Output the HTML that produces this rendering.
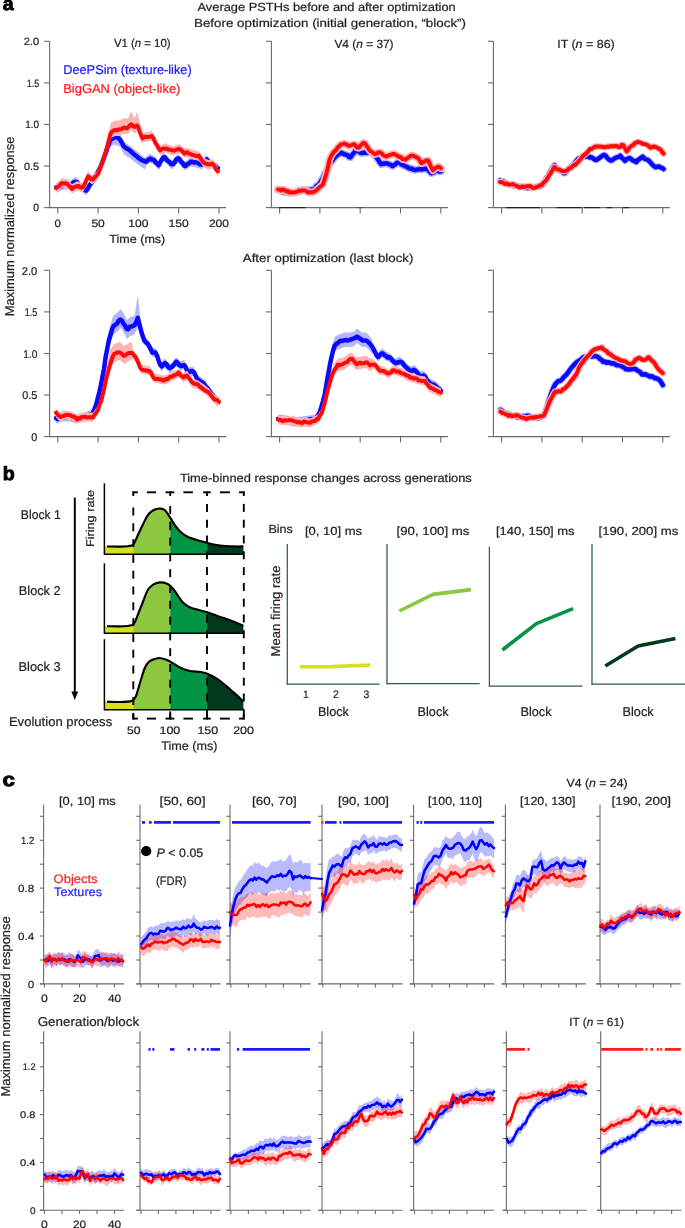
<!DOCTYPE html><html><head><meta charset="utf-8"><style>html,body{margin:0;padding:0;background:#fff;}svg{display:block;will-change:transform}</style></head><body>
<svg width="685" height="1228" viewBox="0 0 685 1228" font-family='"Liberation Sans", sans-serif' fill="#231f20" text-rendering="geometricPrecision">
<rect width="685" height="1228" fill="#fff"/>
<text x="2.8" y="10.1" font-size="19" fill="#000" textLength="10.9" lengthAdjust="spacingAndGlyphs" font-weight="bold" stroke="#000" stroke-width="0.9">a</text>
<text x="197.5" y="11.0" font-size="11.77" textLength="258.2" lengthAdjust="spacingAndGlyphs" stroke="#231f20" stroke-width="0.22">Average PSTHs before and after optimization</text>
<text x="194.0" y="26.6" font-size="11.77" textLength="272.0" lengthAdjust="spacingAndGlyphs" stroke="#231f20" stroke-width="0.22">Before optimization (initial generation, “block”)</text>
<text x="242.8" y="262.0" font-size="11.77" textLength="170.6" lengthAdjust="spacingAndGlyphs" stroke="#231f20" stroke-width="0.22">After optimization (last block)</text>
<text x="13.6" y="316.3" font-size="12.84" textLength="179.8" lengthAdjust="spacingAndGlyphs" stroke="#231f20" stroke-width="0.22" transform="rotate(-90 13.6 316.3)">Maximum normalized response</text>
<line x1="49.6" y1="41.3" x2="49.6" y2="207.6" stroke="#6a6a6a" stroke-width="1.1"/>
<line x1="44.1" y1="207.6" x2="49.6" y2="207.6" stroke="#6a6a6a" stroke-width="1.1"/>
<line x1="44.1" y1="166.0" x2="49.6" y2="166.0" stroke="#6a6a6a" stroke-width="1.1"/>
<line x1="44.1" y1="124.4" x2="49.6" y2="124.4" stroke="#6a6a6a" stroke-width="1.1"/>
<line x1="44.1" y1="82.9" x2="49.6" y2="82.9" stroke="#6a6a6a" stroke-width="1.1"/>
<line x1="44.1" y1="41.3" x2="49.6" y2="41.3" stroke="#6a6a6a" stroke-width="1.1"/>
<line x1="49.1" y1="207.6" x2="226.1" y2="207.6" stroke="#6a6a6a" stroke-width="1.1"/>
<line x1="57.8" y1="207.6" x2="57.8" y2="213.4" stroke="#6a6a6a" stroke-width="1.1"/>
<line x1="98.1" y1="207.6" x2="98.1" y2="213.4" stroke="#6a6a6a" stroke-width="1.1"/>
<line x1="138.4" y1="207.6" x2="138.4" y2="213.4" stroke="#6a6a6a" stroke-width="1.1"/>
<line x1="178.7" y1="207.6" x2="178.7" y2="213.4" stroke="#6a6a6a" stroke-width="1.1"/>
<line x1="219.0" y1="207.6" x2="219.0" y2="213.4" stroke="#6a6a6a" stroke-width="1.1"/>
<text x="39.1" y="211.2" font-size="10.49" text-anchor="end" textLength="5.8" lengthAdjust="spacingAndGlyphs" stroke="#231f20" stroke-width="0.22">0</text>
<text x="39.1" y="169.6" font-size="10.49" text-anchor="end" textLength="15.1" lengthAdjust="spacingAndGlyphs" stroke="#231f20" stroke-width="0.22">0.5</text>
<text x="39.1" y="128.0" font-size="10.49" text-anchor="end" textLength="13.9" lengthAdjust="spacingAndGlyphs" stroke="#231f20" stroke-width="0.22">1.0</text>
<text x="39.1" y="86.5" font-size="10.49" text-anchor="end" textLength="12.4" lengthAdjust="spacingAndGlyphs" stroke="#231f20" stroke-width="0.22">1.5</text>
<text x="39.1" y="44.9" font-size="10.49" text-anchor="end" textLength="15.4" lengthAdjust="spacingAndGlyphs" stroke="#231f20" stroke-width="0.22">2.0</text>
<text x="57.8" y="227.0" font-size="10.7" text-anchor="middle" textLength="6.4" lengthAdjust="spacingAndGlyphs" stroke="#231f20" stroke-width="0.22">0</text>
<text x="98.1" y="227.0" font-size="10.7" text-anchor="middle" textLength="13.4" lengthAdjust="spacingAndGlyphs" stroke="#231f20" stroke-width="0.22">50</text>
<text x="138.4" y="227.0" font-size="10.7" text-anchor="middle" textLength="20.2" lengthAdjust="spacingAndGlyphs" stroke="#231f20" stroke-width="0.22">100</text>
<text x="178.7" y="227.0" font-size="10.7" text-anchor="middle" textLength="20.2" lengthAdjust="spacingAndGlyphs" stroke="#231f20" stroke-width="0.22">150</text>
<text x="219.0" y="227.0" font-size="10.7" text-anchor="middle" textLength="20.2" lengthAdjust="spacingAndGlyphs" stroke="#231f20" stroke-width="0.22">200</text>
<line x1="49.6" y1="270.3" x2="49.6" y2="436.6" stroke="#6a6a6a" stroke-width="1.1"/>
<line x1="44.1" y1="436.6" x2="49.6" y2="436.6" stroke="#6a6a6a" stroke-width="1.1"/>
<line x1="44.1" y1="395.0" x2="49.6" y2="395.0" stroke="#6a6a6a" stroke-width="1.1"/>
<line x1="44.1" y1="353.5" x2="49.6" y2="353.5" stroke="#6a6a6a" stroke-width="1.1"/>
<line x1="44.1" y1="311.9" x2="49.6" y2="311.9" stroke="#6a6a6a" stroke-width="1.1"/>
<line x1="44.1" y1="270.3" x2="49.6" y2="270.3" stroke="#6a6a6a" stroke-width="1.1"/>
<line x1="49.1" y1="436.6" x2="226.1" y2="436.6" stroke="#6a6a6a" stroke-width="1.1"/>
<line x1="57.8" y1="436.6" x2="57.8" y2="442.4" stroke="#6a6a6a" stroke-width="1.1"/>
<line x1="98.1" y1="436.6" x2="98.1" y2="442.4" stroke="#6a6a6a" stroke-width="1.1"/>
<line x1="138.4" y1="436.6" x2="138.4" y2="442.4" stroke="#6a6a6a" stroke-width="1.1"/>
<line x1="178.7" y1="436.6" x2="178.7" y2="442.4" stroke="#6a6a6a" stroke-width="1.1"/>
<line x1="219.0" y1="436.6" x2="219.0" y2="442.4" stroke="#6a6a6a" stroke-width="1.1"/>
<text x="37.3" y="440.8" font-size="11.24" text-anchor="end" textLength="6.1" lengthAdjust="spacingAndGlyphs" stroke="#231f20" stroke-width="0.22">0</text>
<text x="37.3" y="399.2" font-size="11.24" text-anchor="end" textLength="15.1" lengthAdjust="spacingAndGlyphs" stroke="#231f20" stroke-width="0.22">0.5</text>
<text x="37.3" y="357.7" font-size="11.24" text-anchor="end" textLength="14.0" lengthAdjust="spacingAndGlyphs" stroke="#231f20" stroke-width="0.22">1.0</text>
<text x="37.3" y="316.1" font-size="11.24" text-anchor="end" textLength="12.5" lengthAdjust="spacingAndGlyphs" stroke="#231f20" stroke-width="0.22">1.5</text>
<text x="37.3" y="274.5" font-size="11.24" text-anchor="end" textLength="15.5" lengthAdjust="spacingAndGlyphs" stroke="#231f20" stroke-width="0.22">2.0</text>
<line x1="271.4" y1="41.3" x2="271.4" y2="207.6" stroke="#6a6a6a" stroke-width="1.1"/>
<line x1="265.9" y1="207.6" x2="271.4" y2="207.6" stroke="#6a6a6a" stroke-width="1.1"/>
<line x1="265.9" y1="166.0" x2="271.4" y2="166.0" stroke="#6a6a6a" stroke-width="1.1"/>
<line x1="265.9" y1="124.4" x2="271.4" y2="124.4" stroke="#6a6a6a" stroke-width="1.1"/>
<line x1="265.9" y1="82.9" x2="271.4" y2="82.9" stroke="#6a6a6a" stroke-width="1.1"/>
<line x1="265.9" y1="41.3" x2="271.4" y2="41.3" stroke="#6a6a6a" stroke-width="1.1"/>
<line x1="270.9" y1="207.6" x2="447.9" y2="207.6" stroke="#6a6a6a" stroke-width="1.1"/>
<line x1="279.6" y1="207.6" x2="279.6" y2="213.4" stroke="#6a6a6a" stroke-width="1.1"/>
<line x1="319.9" y1="207.6" x2="319.9" y2="213.4" stroke="#6a6a6a" stroke-width="1.1"/>
<line x1="360.2" y1="207.6" x2="360.2" y2="213.4" stroke="#6a6a6a" stroke-width="1.1"/>
<line x1="400.5" y1="207.6" x2="400.5" y2="213.4" stroke="#6a6a6a" stroke-width="1.1"/>
<line x1="440.8" y1="207.6" x2="440.8" y2="213.4" stroke="#6a6a6a" stroke-width="1.1"/>
<line x1="271.4" y1="270.3" x2="271.4" y2="436.6" stroke="#6a6a6a" stroke-width="1.1"/>
<line x1="265.9" y1="436.6" x2="271.4" y2="436.6" stroke="#6a6a6a" stroke-width="1.1"/>
<line x1="265.9" y1="395.0" x2="271.4" y2="395.0" stroke="#6a6a6a" stroke-width="1.1"/>
<line x1="265.9" y1="353.5" x2="271.4" y2="353.5" stroke="#6a6a6a" stroke-width="1.1"/>
<line x1="265.9" y1="311.9" x2="271.4" y2="311.9" stroke="#6a6a6a" stroke-width="1.1"/>
<line x1="265.9" y1="270.3" x2="271.4" y2="270.3" stroke="#6a6a6a" stroke-width="1.1"/>
<line x1="270.9" y1="436.6" x2="447.9" y2="436.6" stroke="#6a6a6a" stroke-width="1.1"/>
<line x1="279.6" y1="436.6" x2="279.6" y2="442.4" stroke="#6a6a6a" stroke-width="1.1"/>
<line x1="319.9" y1="436.6" x2="319.9" y2="442.4" stroke="#6a6a6a" stroke-width="1.1"/>
<line x1="360.2" y1="436.6" x2="360.2" y2="442.4" stroke="#6a6a6a" stroke-width="1.1"/>
<line x1="400.5" y1="436.6" x2="400.5" y2="442.4" stroke="#6a6a6a" stroke-width="1.1"/>
<line x1="440.8" y1="436.6" x2="440.8" y2="442.4" stroke="#6a6a6a" stroke-width="1.1"/>
<line x1="493.4" y1="41.3" x2="493.4" y2="207.6" stroke="#6a6a6a" stroke-width="1.1"/>
<line x1="487.9" y1="207.6" x2="493.4" y2="207.6" stroke="#6a6a6a" stroke-width="1.1"/>
<line x1="487.9" y1="166.0" x2="493.4" y2="166.0" stroke="#6a6a6a" stroke-width="1.1"/>
<line x1="487.9" y1="124.4" x2="493.4" y2="124.4" stroke="#6a6a6a" stroke-width="1.1"/>
<line x1="487.9" y1="82.9" x2="493.4" y2="82.9" stroke="#6a6a6a" stroke-width="1.1"/>
<line x1="487.9" y1="41.3" x2="493.4" y2="41.3" stroke="#6a6a6a" stroke-width="1.1"/>
<line x1="492.9" y1="207.6" x2="669.9" y2="207.6" stroke="#6a6a6a" stroke-width="1.1"/>
<line x1="501.6" y1="207.6" x2="501.6" y2="213.4" stroke="#6a6a6a" stroke-width="1.1"/>
<line x1="541.9" y1="207.6" x2="541.9" y2="213.4" stroke="#6a6a6a" stroke-width="1.1"/>
<line x1="582.2" y1="207.6" x2="582.2" y2="213.4" stroke="#6a6a6a" stroke-width="1.1"/>
<line x1="622.5" y1="207.6" x2="622.5" y2="213.4" stroke="#6a6a6a" stroke-width="1.1"/>
<line x1="662.8" y1="207.6" x2="662.8" y2="213.4" stroke="#6a6a6a" stroke-width="1.1"/>
<line x1="493.4" y1="270.3" x2="493.4" y2="436.6" stroke="#6a6a6a" stroke-width="1.1"/>
<line x1="487.9" y1="436.6" x2="493.4" y2="436.6" stroke="#6a6a6a" stroke-width="1.1"/>
<line x1="487.9" y1="395.0" x2="493.4" y2="395.0" stroke="#6a6a6a" stroke-width="1.1"/>
<line x1="487.9" y1="353.5" x2="493.4" y2="353.5" stroke="#6a6a6a" stroke-width="1.1"/>
<line x1="487.9" y1="311.9" x2="493.4" y2="311.9" stroke="#6a6a6a" stroke-width="1.1"/>
<line x1="487.9" y1="270.3" x2="493.4" y2="270.3" stroke="#6a6a6a" stroke-width="1.1"/>
<line x1="492.9" y1="436.6" x2="669.9" y2="436.6" stroke="#6a6a6a" stroke-width="1.1"/>
<line x1="501.6" y1="436.6" x2="501.6" y2="442.4" stroke="#6a6a6a" stroke-width="1.1"/>
<line x1="541.9" y1="436.6" x2="541.9" y2="442.4" stroke="#6a6a6a" stroke-width="1.1"/>
<line x1="582.2" y1="436.6" x2="582.2" y2="442.4" stroke="#6a6a6a" stroke-width="1.1"/>
<line x1="622.5" y1="436.6" x2="622.5" y2="442.4" stroke="#6a6a6a" stroke-width="1.1"/>
<line x1="662.8" y1="436.6" x2="662.8" y2="442.4" stroke="#6a6a6a" stroke-width="1.1"/>
<text x="109.3" y="242.5" font-size="11.77" textLength="56.0" lengthAdjust="spacingAndGlyphs" stroke="#231f20" stroke-width="0.22">Time (ms)</text>
<text x="113.9" y="47.4" font-size="11.77" textLength="56.7" lengthAdjust="spacingAndGlyphs" stroke="#231f20" stroke-width="0.22">V1 (<tspan font-style="italic">n</tspan> = 10)</text>
<text x="334.4" y="47.6" font-size="11.77" textLength="59.2" lengthAdjust="spacingAndGlyphs" stroke="#231f20" stroke-width="0.22">V4 (<tspan font-style="italic">n</tspan> = 37)</text>
<text x="557.2" y="47.5" font-size="11.77" textLength="57.5" lengthAdjust="spacingAndGlyphs" stroke="#231f20" stroke-width="0.22">IT (<tspan font-style="italic">n</tspan> = 86)</text>
<text x="63.2" y="74.4" font-size="12.84" fill="#1a1aff" textLength="128.5" lengthAdjust="spacingAndGlyphs" stroke="#1a1aff" stroke-width="0.22">DeePSim (texture-like)</text>
<text x="63.2" y="93.0" font-size="12.84" fill="#ff1a1a" textLength="117.2" lengthAdjust="spacingAndGlyphs" stroke="#ff1a1a" stroke-width="0.22">BigGAN (object-like)</text>
<line x1="279.2" y1="207.6" x2="305.5" y2="207.6" stroke="#222" stroke-width="1.2"/>
<line x1="506.0" y1="207.6" x2="540.0" y2="207.6" stroke="#222" stroke-width="1.2"/>
<line x1="556.6" y1="207.6" x2="581.5" y2="207.6" stroke="#222" stroke-width="1.2"/>
<line x1="584.3" y1="207.6" x2="599.6" y2="207.6" stroke="#222" stroke-width="1.2"/>
<line x1="606.5" y1="207.6" x2="612.0" y2="207.6" stroke="#222" stroke-width="1.2"/>
<line x1="623.0" y1="207.6" x2="628.7" y2="207.6" stroke="#222" stroke-width="1.2"/>
<line x1="356.8" y1="207.6" x2="363.4" y2="207.6" stroke="#555" stroke-width="1.1"/>
<polygon points="56.0,183.7 57.0,183.3 58.0,182.9 59.0,182.6 60.0,182.2 61.0,181.8 62.0,181.4 63.0,181.1 64.0,180.7 65.0,180.7 66.0,180.7 67.0,180.7 68.0,180.7 69.0,180.7 70.0,180.7 71.0,180.0 72.0,179.4 73.0,178.7 74.0,178.0 75.0,177.4 76.0,176.7 77.0,177.9 78.0,179.2 79.0,180.4 80.0,181.7 81.0,182.5 82.0,183.4 83.0,184.2 84.0,185.0 85.0,185.9 86.0,186.7 87.0,185.2 88.0,183.7 89.0,182.2 90.0,180.7 91.0,179.2 92.0,177.7 93.0,175.9 94.0,174.2 95.0,172.4 96.0,170.7 97.0,168.9 98.0,167.2 99.0,165.4 100.0,163.7 101.0,161.0 102.0,158.4 103.0,155.7 104.0,153.0 105.0,149.7 106.0,147.0 107.0,144.0 108.0,141.0 109.0,138.0 110.0,135.0 111.0,134.2 112.0,133.5 113.0,132.8 114.0,132.0 115.0,132.3 116.0,132.7 117.0,133.0 118.0,133.3 119.0,133.7 120.0,134.0 121.0,136.0 122.0,138.0 123.0,140.0 124.0,142.0 125.0,142.6 126.0,143.2 127.0,143.8 128.0,144.4 129.0,145.0 130.0,145.8 131.0,146.6 132.0,147.4 133.0,148.2 134.0,149.0 135.0,149.8 136.0,150.5 137.0,151.2 138.0,152.0 139.0,152.7 140.0,153.4 141.0,154.8 142.0,155.6 143.0,156.3 144.0,157.0 145.0,157.7 146.0,156.9 147.0,156.1 148.0,155.3 149.0,154.5 150.0,153.7 151.0,154.3 152.0,154.9 153.0,155.5 154.0,156.1 155.0,156.7 156.0,157.9 157.0,159.2 158.0,160.4 159.0,161.7 160.0,159.2 161.0,156.7 162.0,154.2 163.0,151.7 164.0,152.7 165.0,153.7 166.0,154.7 167.0,155.7 168.0,156.7 169.0,157.7 170.0,158.7 171.0,159.7 172.0,160.7 173.0,159.5 174.0,158.4 175.0,157.2 176.0,156.0 177.0,154.9 178.0,153.7 179.0,154.8 180.0,156.0 181.0,157.1 182.0,158.3 183.0,159.4 184.0,160.6 185.0,161.7 186.0,160.9 187.0,160.1 188.0,159.3 189.0,158.5 190.0,157.7 191.0,157.8 192.0,158.0 193.0,158.1 194.0,158.3 195.0,158.4 196.0,158.6 197.0,158.7 198.0,159.1 199.0,159.5 200.0,159.9 201.0,160.3 202.0,160.7 203.0,159.2 204.0,157.7 205.0,156.2 206.0,154.7 207.0,155.7 208.0,156.7 209.0,157.7 210.0,158.7 211.0,159.7 212.0,160.3 213.0,160.8 214.0,161.4 215.0,162.0 216.0,162.6 217.0,163.1 218.0,163.7 218.0,172.5 217.0,171.9 216.0,171.4 215.0,170.8 214.0,170.2 213.0,169.6 212.0,169.1 211.0,168.5 210.0,167.5 209.0,166.5 208.0,165.5 207.0,164.5 206.0,163.5 205.0,165.0 204.0,166.5 203.0,168.0 202.0,169.5 201.0,169.1 200.0,168.7 199.0,168.3 198.0,167.9 197.0,167.5 196.0,167.4 195.0,167.2 194.0,167.1 193.0,166.9 192.0,166.8 191.0,166.6 190.0,166.5 189.0,167.3 188.0,168.1 187.0,168.9 186.0,169.7 185.0,170.5 184.0,169.4 183.0,168.2 182.0,167.1 181.0,165.9 180.0,164.8 179.0,163.6 178.0,162.5 177.0,163.7 176.0,164.8 175.0,166.0 174.0,167.2 173.0,168.3 172.0,169.5 171.0,168.5 170.0,167.5 169.0,166.5 168.0,165.5 167.0,164.5 166.0,163.5 165.0,162.5 164.0,161.5 163.0,160.5 162.0,163.0 161.0,165.5 160.0,168.0 159.0,170.5 158.0,169.2 157.0,168.0 156.0,166.8 155.0,165.5 154.0,164.9 153.0,164.3 152.0,163.7 151.0,163.1 150.0,162.5 149.0,163.3 148.0,164.1 147.0,164.9 146.0,165.7 145.0,169.5 144.0,168.8 143.0,168.1 142.0,167.4 141.0,166.6 140.0,165.9 139.0,165.2 138.0,164.5 137.0,163.8 136.0,163.0 135.0,162.2 134.0,161.5 133.0,160.7 132.0,159.9 131.0,159.1 130.0,158.3 129.0,157.5 128.0,156.9 127.0,156.3 126.0,155.7 125.0,155.1 124.0,154.5 123.0,152.5 122.0,150.5 121.0,148.5 120.0,146.5 119.0,146.2 118.0,145.8 117.0,145.5 116.0,145.2 115.0,144.8 114.0,144.5 113.0,145.2 112.0,146.0 111.0,146.8 110.0,147.5 109.0,150.5 108.0,153.5 107.0,153.5 106.0,156.5 105.0,159.2 104.0,161.8 103.0,164.5 102.0,167.2 101.0,169.8 100.0,172.5 99.0,174.2 98.0,176.0 97.0,177.8 96.0,179.5 95.0,181.2 94.0,183.0 93.0,184.8 92.0,186.5 91.0,188.0 90.0,189.5 89.0,191.0 88.0,192.5 87.0,194.0 86.0,195.5 85.0,194.7 84.0,193.8 83.0,193.0 82.0,192.2 81.0,191.3 80.0,190.5 79.0,189.2 78.0,188.0 77.0,186.8 76.0,185.5 75.0,186.2 74.0,186.8 73.0,187.5 72.0,188.2 71.0,188.8 70.0,189.5 69.0,189.5 68.0,189.5 67.0,189.5 66.0,189.5 65.0,189.5 64.0,189.5 63.0,189.9 62.0,190.2 61.0,190.6 60.0,191.0 59.0,191.4 58.0,191.8 57.0,192.1 56.0,192.5" fill="#b4b4ff" fill-opacity="1"/>
<polyline points="56.0,187.6 57.6,187.5 59.2,186.6 60.8,186.3 62.4,185.8 64.0,184.4 65.6,184.3 67.2,185.5 68.8,184.7 70.4,184.3 72.0,184.3 73.6,182.5 75.2,182.0 76.9,182.0 78.5,184.3 80.1,185.6 81.7,187.6 83.3,189.2 84.9,190.1 86.5,190.6 88.1,188.1 89.7,184.9 91.3,183.4 92.9,180.6 94.5,177.4 96.1,174.2 97.7,172.5 99.3,169.2 100.9,165.9 102.5,161.8 104.1,157.3 105.7,153.3 107.3,147.9 108.9,143.6 110.5,139.5 112.1,139.0 113.7,137.7 115.3,136.9 117.0,137.5 118.6,138.1 120.2,140.0 121.8,142.4 123.4,145.9 125.0,147.3 126.6,148.6 128.2,149.3 129.8,150.4 131.4,152.0 133.0,153.3 134.6,155.0 136.2,155.9 137.8,157.5 139.4,158.5 141.0,159.8 142.6,160.5 144.2,161.0 145.8,161.8 147.4,160.7 149.0,159.3 150.6,158.5 152.2,159.6 153.8,159.9 155.4,162.0 157.0,163.7 158.7,165.3 160.3,162.2 161.9,159.3 163.5,157.2 165.1,157.5 166.7,160.1 168.3,161.2 169.9,162.4 171.5,164.2 173.1,164.1 174.7,162.4 176.3,159.3 177.9,158.3 179.5,159.1 181.1,161.9 182.7,163.1 184.3,165.8 185.9,165.9 187.5,164.0 189.1,163.4 190.7,161.8 192.3,161.7 193.9,162.7 195.5,162.1 197.1,162.6 198.8,163.6 200.4,164.5 202.0,164.5 203.6,162.0 205.2,160.8 206.8,159.5 208.4,162.0 210.0,163.5 211.6,164.2 213.2,165.2 214.8,166.2 216.4,167.3 218.0,168.1" fill="none" stroke="#0a0aff" stroke-width="4.5" stroke-linejoin="round" stroke-linecap="round"/>
<polygon points="56.0,183.2 57.0,182.4 58.0,181.5 59.0,180.7 60.0,179.9 61.0,179.0 62.0,178.2 63.0,178.4 64.0,178.5 65.0,178.7 66.0,178.9 67.0,179.0 68.0,179.2 69.0,180.4 70.0,181.7 71.0,182.9 72.0,184.2 73.0,183.6 74.0,183.0 75.0,182.4 76.0,181.8 77.0,181.2 78.0,181.5 79.0,181.9 80.0,182.2 81.0,182.5 82.0,182.9 83.0,183.2 84.0,180.8 85.0,178.4 86.0,176.0 87.0,173.6 88.0,171.2 89.0,172.2 90.0,173.2 91.0,174.2 92.0,175.2 93.0,174.4 94.0,173.6 95.0,172.8 96.0,172.0 97.0,171.2 98.0,168.8 99.0,166.4 100.0,164.0 101.0,161.6 102.0,159.2 103.0,156.0 104.0,152.8 105.0,149.6 106.0,146.4 107.0,143.2 108.0,134.5 109.0,130.5 110.0,126.5 111.0,122.5 112.0,122.0 113.0,121.5 114.0,121.0 115.0,120.5 116.0,120.5 117.0,120.5 118.0,120.5 119.0,120.5 120.0,120.0 121.0,119.5 122.0,119.0 123.0,118.5 124.0,118.5 125.0,118.5 126.0,118.5 127.0,118.5 128.0,118.5 129.0,116.2 130.0,113.8 131.0,111.5 132.0,113.5 133.0,115.5 134.0,117.5 135.0,117.5 136.0,114.5 137.0,111.5 138.0,115.3 139.0,119.1 140.0,122.9 141.0,125.7 142.0,128.5 143.0,132.9 144.0,132.7 145.0,132.4 146.0,132.2 147.0,132.0 148.0,131.9 149.0,131.7 150.0,131.5 151.0,131.4 152.0,131.2 153.0,133.2 154.0,135.2 155.0,137.2 156.0,139.2 157.0,140.7 158.0,142.2 159.0,143.7 160.0,145.2 161.0,144.9 162.0,144.5 163.0,144.2 164.0,143.9 165.0,143.5 166.0,143.2 167.0,143.7 168.0,144.2 169.0,144.7 170.0,145.2 171.0,145.7 172.0,146.2 173.0,145.9 174.0,145.7 175.0,145.4 176.0,145.2 177.0,144.9 178.0,144.7 179.0,144.4 180.0,144.2 181.0,145.2 182.0,146.2 183.0,147.2 184.0,148.2 185.0,148.2 186.0,148.2 187.0,148.2 188.0,148.2 189.0,148.2 190.0,148.6 191.0,149.0 192.0,149.4 193.0,149.8 194.0,150.2 195.0,150.4 196.0,150.6 197.0,150.8 198.0,151.0 199.0,151.2 200.0,152.6 201.0,154.0 202.0,155.4 203.0,156.8 204.0,158.2 205.0,158.6 206.0,159.0 207.0,159.4 208.0,159.8 209.0,160.2 210.0,159.9 211.0,159.7 212.0,159.4 213.0,159.2 214.0,160.8 215.0,162.4 216.0,164.0 217.0,165.6 218.0,167.2 218.0,176.6 217.0,175.0 216.0,173.4 215.0,171.8 214.0,170.2 213.0,168.6 212.0,168.8 211.0,169.1 210.0,169.3 209.0,169.6 208.0,169.2 207.0,168.8 206.0,168.4 205.0,168.0 204.0,167.6 203.0,166.2 202.0,164.8 201.0,163.4 200.0,162.0 199.0,160.6 198.0,160.4 197.0,160.2 196.0,160.0 195.0,159.8 194.0,159.6 193.0,159.2 192.0,158.8 191.0,158.4 190.0,158.0 189.0,157.6 188.0,157.6 187.0,157.6 186.0,157.6 185.0,157.6 184.0,157.6 183.0,156.6 182.0,155.6 181.0,154.6 180.0,153.6 179.0,153.8 178.0,154.1 177.0,154.3 176.0,154.6 175.0,154.8 174.0,155.1 173.0,155.3 172.0,155.6 171.0,155.1 170.0,154.6 169.0,154.1 168.0,153.6 167.0,153.1 166.0,152.6 165.0,152.9 164.0,153.3 163.0,153.6 162.0,153.9 161.0,154.3 160.0,154.6 159.0,153.1 158.0,151.6 157.0,150.1 156.0,148.6 155.0,146.6 154.0,144.6 153.0,142.6 152.0,140.6 151.0,140.8 150.0,140.9 149.0,141.1 148.0,141.3 147.0,141.4 146.0,141.6 145.0,141.8 144.0,142.1 143.0,142.3 142.0,144.0 141.0,141.2 140.0,138.4 139.0,135.6 138.0,132.8 137.0,130.0 136.0,132.0 135.0,134.0 134.0,133.0 133.0,132.0 132.0,131.0 131.0,130.0 130.0,131.3 129.0,132.7 128.0,134.0 127.0,134.0 126.0,134.0 125.0,134.0 124.0,134.0 123.0,134.0 122.0,134.5 121.0,135.0 120.0,135.5 119.0,136.0 118.0,136.0 117.0,136.0 116.0,136.0 115.0,136.0 114.0,136.5 113.0,137.0 112.0,137.5 111.0,138.0 110.0,142.0 109.0,146.0 108.0,150.0 107.0,154.0 106.0,157.2 105.0,159.0 104.0,162.2 103.0,165.4 102.0,168.6 101.0,171.0 100.0,173.4 99.0,175.8 98.0,178.2 97.0,180.6 96.0,181.4 95.0,182.2 94.0,183.0 93.0,183.8 92.0,184.6 91.0,183.6 90.0,182.6 89.0,181.6 88.0,180.6 87.0,183.0 86.0,185.4 85.0,187.8 84.0,190.2 83.0,192.6 82.0,192.3 81.0,191.9 80.0,191.6 79.0,191.3 78.0,190.9 77.0,190.6 76.0,191.2 75.0,191.8 74.0,192.4 73.0,193.0 72.0,193.6 71.0,192.3 70.0,191.1 69.0,189.8 68.0,188.6 67.0,188.4 66.0,188.3 65.0,188.1 64.0,187.9 63.0,187.8 62.0,187.6 61.0,188.4 60.0,189.3 59.0,190.1 58.0,190.9 57.0,191.8 56.0,192.6" fill="#ffb4b4" fill-opacity="1"/>
<polyline points="56.0,188.1 57.6,186.8 59.2,185.9 60.8,184.0 62.4,183.0 64.0,183.6 65.6,183.2 67.2,183.6 68.8,185.7 70.4,187.1 72.0,189.0 73.6,187.3 75.2,186.9 76.9,186.2 78.5,185.8 80.1,187.2 81.7,187.7 83.3,186.7 84.9,183.7 86.5,179.6 88.1,176.3 89.7,177.5 91.3,179.6 92.9,179.6 94.5,177.3 96.1,176.1 97.7,174.6 99.3,171.1 100.9,166.3 102.5,162.3 104.1,157.3 105.7,151.8 107.3,146.5 108.9,140.0 110.5,133.7 112.1,131.6 113.7,130.3 115.3,129.8 117.0,130.4 118.6,129.3 120.2,129.5 121.8,128.9 123.4,127.7 125.0,127.6 126.6,128.4 128.2,127.4 129.8,125.2 131.4,124.3 133.0,126.3 134.6,127.0 136.2,125.4 137.8,126.0 139.4,131.2 141.0,135.1 142.6,138.3 144.2,137.0 145.8,136.8 147.4,137.0 149.0,137.0 150.6,136.2 152.2,136.1 153.8,139.2 155.4,142.9 157.0,145.1 158.7,148.4 160.3,150.4 161.9,148.9 163.5,148.5 165.1,148.7 166.7,148.5 168.3,149.6 169.9,149.7 171.5,150.2 173.1,150.4 174.7,150.7 176.3,149.6 177.9,149.3 179.5,149.0 181.1,150.0 182.7,151.6 184.3,153.6 185.9,152.5 187.5,152.3 189.1,153.7 190.7,154.2 192.3,155.0 193.9,154.9 195.5,155.9 197.1,156.2 198.8,155.6 200.4,158.2 202.0,160.6 203.6,162.6 205.2,163.5 206.8,163.8 208.4,164.5 210.0,164.4 211.6,163.7 213.2,164.4 214.8,166.6 216.4,169.9 218.0,171.4" fill="none" stroke="#ff0a0a" stroke-width="4.0" stroke-linejoin="round" stroke-linecap="round"/>
<polyline points="278.0,189.6 279.6,190.0 281.2,191.0 282.8,191.6 284.5,192.3 286.1,192.2 287.7,191.7 289.3,192.9 290.9,192.3 292.5,192.7 294.1,192.8 295.8,192.1 297.4,191.4 299.0,191.6 300.6,190.9 302.2,190.2 303.8,189.8 305.4,190.5 307.0,190.0 308.7,190.4 310.3,189.8 311.9,189.6 313.5,189.5 315.1,188.3 316.7,185.8 318.3,185.1 320.0,183.0 321.6,180.1 323.2,177.5 324.8,173.6 326.4,171.3 328.0,168.4 329.6,164.1 331.3,161.9 332.9,159.7 334.5,157.8 336.1,156.0 337.7,154.8 339.3,153.9 340.9,152.7 342.6,153.4 344.2,154.1 345.8,154.7 347.4,155.2 349.0,157.0 350.6,157.4 352.2,154.7 353.9,153.0 355.5,150.5 357.1,150.4 358.7,151.4 360.3,152.8 361.9,153.1 363.5,152.8 365.1,152.6 366.8,152.8 368.4,152.2 370.0,152.5 371.6,152.4 373.2,153.4 374.8,155.0 376.4,157.2 378.1,159.7 379.7,162.3 381.3,164.3 382.9,163.5 384.5,163.7 386.1,163.2 387.7,163.7 389.4,164.3 391.0,165.1 392.6,166.1 394.2,164.9 395.8,164.0 397.4,162.4 399.0,162.3 400.7,163.8 402.3,165.1 403.9,165.3 405.5,166.4 407.1,166.9 408.7,168.1 410.3,168.7 412.0,168.5 413.6,169.7 415.2,170.1 416.8,169.5 418.4,169.5 420.0,168.8 421.6,169.5 423.2,169.0 424.9,169.0 426.5,168.5 428.1,169.5 429.7,171.6 431.3,173.3 432.9,172.7 434.5,172.1 436.2,170.0 437.8,169.9 439.4,171.6 441.0,171.4" fill="none" stroke="#b4b4ff" stroke-width="7.5" stroke-linejoin="round" stroke-linecap="round"/>
<polyline points="278.0,189.6 279.6,190.0 281.2,191.0 282.8,191.6 284.5,192.3 286.1,192.2 287.7,191.7 289.3,192.9 290.9,192.3 292.5,192.7 294.1,192.8 295.8,192.1 297.4,191.4 299.0,191.6 300.6,190.9 302.2,190.2 303.8,189.8 305.4,190.5 307.0,190.0 308.7,190.4 310.3,189.8 311.9,189.6 313.5,189.5 315.1,188.3 316.7,185.8 318.3,185.1 320.0,183.0 321.6,180.1 323.2,177.5 324.8,173.6 326.4,171.3 328.0,168.4 329.6,164.1 331.3,161.9 332.9,159.7 334.5,157.8 336.1,156.0 337.7,154.8 339.3,153.9 340.9,152.7 342.6,153.4 344.2,154.1 345.8,154.7 347.4,155.2 349.0,157.0 350.6,157.4 352.2,154.7 353.9,153.0 355.5,150.5 357.1,150.4 358.7,151.4 360.3,152.8 361.9,153.1 363.5,152.8 365.1,152.6 366.8,152.8 368.4,152.2 370.0,152.5 371.6,152.4 373.2,153.4 374.8,155.0 376.4,157.2 378.1,159.7 379.7,162.3 381.3,164.3 382.9,163.5 384.5,163.7 386.1,163.2 387.7,163.7 389.4,164.3 391.0,165.1 392.6,166.1 394.2,164.9 395.8,164.0 397.4,162.4 399.0,162.3 400.7,163.8 402.3,165.1 403.9,165.3 405.5,166.4 407.1,166.9 408.7,168.1 410.3,168.7 412.0,168.5 413.6,169.7 415.2,170.1 416.8,169.5 418.4,169.5 420.0,168.8 421.6,169.5 423.2,169.0 424.9,169.0 426.5,168.5 428.1,169.5 429.7,171.6 431.3,173.3 432.9,172.7 434.5,172.1 436.2,170.0 437.8,169.9 439.4,171.6 441.0,171.4" fill="none" stroke="#0a0aff" stroke-width="4.5" stroke-linejoin="round" stroke-linecap="round"/>
<polyline points="278.0,189.4 279.6,189.4 281.2,190.5 282.8,189.6 284.5,189.8 286.1,191.5 287.7,191.0 289.3,192.5 290.9,192.2 292.5,192.5 294.1,192.6 295.8,191.9 297.4,191.8 299.0,190.4 300.6,191.0 302.2,190.2 303.8,190.6 305.4,190.4 307.0,191.9 308.7,192.7 310.3,192.1 311.9,192.3 313.5,191.8 315.1,191.4 316.7,189.8 318.3,188.2 320.0,186.7 321.6,185.6 323.2,183.8 324.8,178.4 326.4,173.6 328.0,167.1 329.6,159.5 331.3,156.0 332.9,153.1 334.5,151.4 336.1,150.1 337.7,147.4 339.3,146.2 340.9,144.4 342.6,144.1 344.2,143.5 345.8,144.3 347.4,145.1 349.0,146.0 350.6,145.4 352.2,144.9 353.9,144.2 355.5,145.4 357.1,147.6 358.7,147.9 360.3,145.7 361.9,144.0 363.5,142.8 365.1,143.4 366.8,146.1 368.4,148.6 370.0,150.9 371.6,151.8 373.2,153.0 374.8,154.0 376.4,153.8 378.1,152.4 379.7,152.4 381.3,153.0 382.9,154.9 384.5,155.9 386.1,156.6 387.7,155.9 389.4,154.9 391.0,154.8 392.6,154.0 394.2,154.1 395.8,155.0 397.4,155.6 399.0,157.0 400.7,156.9 402.3,159.0 403.9,159.3 405.5,159.7 407.1,158.2 408.7,157.4 410.3,156.0 412.0,155.4 413.6,155.8 415.2,156.7 416.8,157.4 418.4,158.5 420.0,161.0 421.6,163.2 423.2,162.3 424.9,161.2 426.5,160.4 428.1,160.5 429.7,163.7 431.3,167.3 432.9,170.4 434.5,168.7 436.2,167.7 437.8,166.8 439.4,167.0 441.0,168.3" fill="none" stroke="#ffb4b4" stroke-width="7.5" stroke-linejoin="round" stroke-linecap="round"/>
<polyline points="278.0,189.4 279.6,189.4 281.2,190.5 282.8,189.6 284.5,189.8 286.1,191.5 287.7,191.0 289.3,192.5 290.9,192.2 292.5,192.5 294.1,192.6 295.8,191.9 297.4,191.8 299.0,190.4 300.6,191.0 302.2,190.2 303.8,190.6 305.4,190.4 307.0,191.9 308.7,192.7 310.3,192.1 311.9,192.3 313.5,191.8 315.1,191.4 316.7,189.8 318.3,188.2 320.0,186.7 321.6,185.6 323.2,183.8 324.8,178.4 326.4,173.6 328.0,167.1 329.6,159.5 331.3,156.0 332.9,153.1 334.5,151.4 336.1,150.1 337.7,147.4 339.3,146.2 340.9,144.4 342.6,144.1 344.2,143.5 345.8,144.3 347.4,145.1 349.0,146.0 350.6,145.4 352.2,144.9 353.9,144.2 355.5,145.4 357.1,147.6 358.7,147.9 360.3,145.7 361.9,144.0 363.5,142.8 365.1,143.4 366.8,146.1 368.4,148.6 370.0,150.9 371.6,151.8 373.2,153.0 374.8,154.0 376.4,153.8 378.1,152.4 379.7,152.4 381.3,153.0 382.9,154.9 384.5,155.9 386.1,156.6 387.7,155.9 389.4,154.9 391.0,154.8 392.6,154.0 394.2,154.1 395.8,155.0 397.4,155.6 399.0,157.0 400.7,156.9 402.3,159.0 403.9,159.3 405.5,159.7 407.1,158.2 408.7,157.4 410.3,156.0 412.0,155.4 413.6,155.8 415.2,156.7 416.8,157.4 418.4,158.5 420.0,161.0 421.6,163.2 423.2,162.3 424.9,161.2 426.5,160.4 428.1,160.5 429.7,163.7 431.3,167.3 432.9,170.4 434.5,168.7 436.2,167.7 437.8,166.8 439.4,167.0 441.0,168.3" fill="none" stroke="#ff0a0a" stroke-width="4.0" stroke-linejoin="round" stroke-linecap="round"/>
<polyline points="500.0,180.5 501.6,181.4 503.2,181.3 504.8,182.9 506.4,182.9 508.0,183.9 509.6,184.7 511.2,184.2 512.8,184.6 514.4,186.1 516.0,185.7 517.6,186.1 519.2,186.8 520.8,187.2 522.4,186.6 524.0,187.4 525.6,187.8 527.2,187.9 528.9,187.3 530.5,187.7 532.1,188.0 533.7,187.1 535.3,187.1 536.9,186.3 538.5,186.3 540.1,186.6 541.7,185.5 543.3,184.4 544.9,181.8 546.5,178.0 548.1,176.5 549.7,172.7 551.3,170.3 552.9,167.4 554.5,165.2 556.1,167.3 557.7,168.9 559.3,170.7 560.9,171.0 562.5,172.4 564.1,173.3 565.7,172.5 567.3,170.7 568.9,168.5 570.5,167.5 572.1,165.6 573.7,164.3 575.3,162.4 576.9,160.3 578.5,158.4 580.1,158.4 581.8,157.8 583.4,156.5 585.0,156.9 586.6,156.4 588.2,156.0 589.8,157.5 591.4,157.2 593.0,158.2 594.6,159.6 596.2,160.0 597.8,159.0 599.4,158.1 601.0,156.8 602.6,155.6 604.2,154.8 605.8,155.9 607.4,158.1 609.0,159.5 610.6,160.5 612.2,160.2 613.8,158.9 615.4,157.9 617.0,157.2 618.6,157.0 620.2,155.6 621.8,157.8 623.4,159.0 625.0,160.8 626.6,159.3 628.2,158.4 629.8,158.0 631.4,159.2 633.0,160.6 634.6,161.0 636.2,162.2 637.9,160.0 639.5,159.1 641.1,157.8 642.7,156.7 644.3,158.5 645.9,159.4 647.5,159.7 649.1,160.9 650.7,162.7 652.3,164.6 653.9,166.1 655.5,167.2 657.1,167.0 658.7,166.4 660.3,167.3 661.9,167.8 663.5,169.0" fill="none" stroke="#b4b4ff" stroke-width="6.5" stroke-linejoin="round" stroke-linecap="round"/>
<polyline points="500.0,180.5 501.6,181.4 503.2,181.3 504.8,182.9 506.4,182.9 508.0,183.9 509.6,184.7 511.2,184.2 512.8,184.6 514.4,186.1 516.0,185.7 517.6,186.1 519.2,186.8 520.8,187.2 522.4,186.6 524.0,187.4 525.6,187.8 527.2,187.9 528.9,187.3 530.5,187.7 532.1,188.0 533.7,187.1 535.3,187.1 536.9,186.3 538.5,186.3 540.1,186.6 541.7,185.5 543.3,184.4 544.9,181.8 546.5,178.0 548.1,176.5 549.7,172.7 551.3,170.3 552.9,167.4 554.5,165.2 556.1,167.3 557.7,168.9 559.3,170.7 560.9,171.0 562.5,172.4 564.1,173.3 565.7,172.5 567.3,170.7 568.9,168.5 570.5,167.5 572.1,165.6 573.7,164.3 575.3,162.4 576.9,160.3 578.5,158.4 580.1,158.4 581.8,157.8 583.4,156.5 585.0,156.9 586.6,156.4 588.2,156.0 589.8,157.5 591.4,157.2 593.0,158.2 594.6,159.6 596.2,160.0 597.8,159.0 599.4,158.1 601.0,156.8 602.6,155.6 604.2,154.8 605.8,155.9 607.4,158.1 609.0,159.5 610.6,160.5 612.2,160.2 613.8,158.9 615.4,157.9 617.0,157.2 618.6,157.0 620.2,155.6 621.8,157.8 623.4,159.0 625.0,160.8 626.6,159.3 628.2,158.4 629.8,158.0 631.4,159.2 633.0,160.6 634.6,161.0 636.2,162.2 637.9,160.0 639.5,159.1 641.1,157.8 642.7,156.7 644.3,158.5 645.9,159.4 647.5,159.7 649.1,160.9 650.7,162.7 652.3,164.6 653.9,166.1 655.5,167.2 657.1,167.0 658.7,166.4 660.3,167.3 661.9,167.8 663.5,169.0" fill="none" stroke="#0a0aff" stroke-width="4.5" stroke-linejoin="round" stroke-linecap="round"/>
<polyline points="500.0,182.1 501.6,182.1 503.2,182.7 504.8,184.0 506.4,183.3 508.0,184.4 509.6,184.5 511.2,184.6 512.8,184.1 514.4,185.0 516.0,185.6 517.6,186.3 519.2,187.4 520.8,187.2 522.4,186.4 524.0,187.1 525.6,186.4 527.2,186.3 528.9,186.3 530.5,185.9 532.1,187.6 533.7,188.1 535.3,187.5 536.9,187.0 538.5,186.3 540.1,185.3 541.7,185.2 543.3,182.8 544.9,181.5 546.5,179.8 548.1,177.1 549.7,174.5 551.3,172.3 552.9,169.4 554.5,166.8 556.1,168.7 557.7,169.4 559.3,169.5 560.9,170.6 562.5,171.0 564.1,171.3 565.7,170.9 567.3,170.4 568.9,168.5 570.5,168.2 572.1,166.9 573.7,165.0 575.3,164.9 576.9,163.0 578.5,161.6 580.1,159.5 581.8,157.6 583.4,155.4 585.0,154.5 586.6,153.0 588.2,151.3 589.8,149.1 591.4,148.9 593.0,148.0 594.6,146.9 596.2,146.4 597.8,146.4 599.4,146.6 601.0,146.5 602.6,147.0 604.2,147.3 605.8,146.9 607.4,146.6 609.0,146.8 610.6,146.1 612.2,146.2 613.8,146.5 615.4,145.9 617.0,146.0 618.6,147.3 620.2,147.1 621.8,144.7 623.4,145.3 625.0,148.4 626.6,151.4 628.2,149.5 629.8,147.4 631.4,145.8 633.0,145.4 634.6,143.3 636.2,142.6 637.9,141.8 639.5,142.4 641.1,142.9 642.7,143.9 644.3,144.1 645.9,144.4 647.5,145.2 649.1,146.3 650.7,147.8 652.3,147.0 653.9,146.5 655.5,147.0 657.1,147.6 658.7,148.8 660.3,149.3 661.9,151.7 663.5,153.6" fill="none" stroke="#ffb4b4" stroke-width="6.5" stroke-linejoin="round" stroke-linecap="round"/>
<polyline points="500.0,182.1 501.6,182.1 503.2,182.7 504.8,184.0 506.4,183.3 508.0,184.4 509.6,184.5 511.2,184.6 512.8,184.1 514.4,185.0 516.0,185.6 517.6,186.3 519.2,187.4 520.8,187.2 522.4,186.4 524.0,187.1 525.6,186.4 527.2,186.3 528.9,186.3 530.5,185.9 532.1,187.6 533.7,188.1 535.3,187.5 536.9,187.0 538.5,186.3 540.1,185.3 541.7,185.2 543.3,182.8 544.9,181.5 546.5,179.8 548.1,177.1 549.7,174.5 551.3,172.3 552.9,169.4 554.5,166.8 556.1,168.7 557.7,169.4 559.3,169.5 560.9,170.6 562.5,171.0 564.1,171.3 565.7,170.9 567.3,170.4 568.9,168.5 570.5,168.2 572.1,166.9 573.7,165.0 575.3,164.9 576.9,163.0 578.5,161.6 580.1,159.5 581.8,157.6 583.4,155.4 585.0,154.5 586.6,153.0 588.2,151.3 589.8,149.1 591.4,148.9 593.0,148.0 594.6,146.9 596.2,146.4 597.8,146.4 599.4,146.6 601.0,146.5 602.6,147.0 604.2,147.3 605.8,146.9 607.4,146.6 609.0,146.8 610.6,146.1 612.2,146.2 613.8,146.5 615.4,145.9 617.0,146.0 618.6,147.3 620.2,147.1 621.8,144.7 623.4,145.3 625.0,148.4 626.6,151.4 628.2,149.5 629.8,147.4 631.4,145.8 633.0,145.4 634.6,143.3 636.2,142.6 637.9,141.8 639.5,142.4 641.1,142.9 642.7,143.9 644.3,144.1 645.9,144.4 647.5,145.2 649.1,146.3 650.7,147.8 652.3,147.0 653.9,146.5 655.5,147.0 657.1,147.6 658.7,148.8 660.3,149.3 661.9,151.7 663.5,153.6" fill="none" stroke="#ff0a0a" stroke-width="4.0" stroke-linejoin="round" stroke-linecap="round"/>
<polygon points="56.0,414.5 57.0,414.2 58.0,413.8 59.0,413.5 60.0,413.2 61.0,412.8 62.0,412.5 63.0,412.5 64.0,412.5 65.0,412.5 66.0,412.5 67.0,412.5 68.0,412.5 69.0,412.5 70.0,412.5 71.0,412.8 72.0,413.2 73.0,413.5 74.0,413.8 75.0,414.2 76.0,414.5 77.0,414.2 78.0,414.0 79.0,413.8 80.0,413.5 81.0,413.2 82.0,413.0 83.0,412.8 84.0,412.5 85.0,412.1 86.0,411.8 87.0,411.4 88.0,411.0 89.0,410.6 90.0,410.2 91.0,409.9 92.0,409.5 93.0,407.5 94.0,405.5 95.0,403.5 96.0,401.5 97.0,397.5 98.0,393.5 99.0,389.5 100.0,385.5 101.0,380.5 102.0,375.5 103.0,370.5 104.0,365.5 105.0,357.5 106.0,349.5 107.0,344.8 108.0,334.7 109.0,330.0 110.0,326.5 111.0,323.0 112.0,319.5 113.0,316.0 114.0,315.2 115.0,314.5 116.0,313.8 117.0,313.0 118.0,312.0 119.0,311.0 120.0,310.0 121.0,309.0 122.0,310.7 123.0,312.3 124.0,314.0 125.0,316.0 126.0,318.0 127.0,320.0 128.0,319.0 129.0,318.0 130.0,317.0 131.0,316.8 132.0,316.5 133.0,316.2 134.0,316.0 135.0,314.0 136.0,307.0 137.0,299.4 138.0,296.2 139.0,305.8 140.0,315.4 141.0,325.5 142.0,328.8 143.0,332.2 144.0,335.5 145.0,336.5 146.0,337.5 147.0,338.5 148.0,339.5 149.0,341.5 150.0,343.5 151.0,345.5 152.0,347.5 153.0,347.8 154.0,348.0 155.0,348.2 156.0,348.5 157.0,351.3 158.0,354.1 159.0,356.9 160.0,359.7 161.0,362.5 162.0,361.5 163.0,360.5 164.0,359.5 165.0,358.5 166.0,359.7 167.0,360.9 168.0,362.1 169.0,363.3 170.0,364.5 171.0,363.3 172.0,362.2 173.0,361.0 174.0,359.8 175.0,358.7 176.0,357.5 177.0,358.3 178.0,359.1 179.0,359.9 180.0,360.7 181.0,361.5 182.0,360.8 183.0,360.2 184.0,359.5 185.0,361.5 186.0,363.5 187.0,365.5 188.0,367.5 189.0,367.3 190.0,367.1 191.0,366.9 192.0,366.7 193.0,366.5 194.0,368.3 195.0,370.1 196.0,371.9 197.0,373.7 198.0,375.5 199.0,376.2 200.0,376.8 201.0,377.5 202.0,378.2 203.0,378.8 204.0,379.5 205.0,380.9 206.0,382.3 207.0,383.7 208.0,385.1 209.0,386.5 210.0,387.7 211.0,388.8 212.0,390.0 213.0,391.2 214.0,392.3 215.0,393.5 216.0,394.8 217.0,396.2 218.0,397.5 218.0,406.5 217.0,405.2 216.0,403.8 215.0,402.5 214.0,401.3 213.0,400.2 212.0,399.0 211.0,397.8 210.0,396.7 209.0,395.5 208.0,394.1 207.0,392.7 206.0,391.3 205.0,389.9 204.0,388.5 203.0,387.8 202.0,387.2 201.0,386.5 200.0,385.8 199.0,385.2 198.0,384.5 197.0,382.7 196.0,380.9 195.0,379.1 194.0,377.3 193.0,375.5 192.0,375.7 191.0,375.9 190.0,376.1 189.0,376.3 188.0,376.5 187.0,374.5 186.0,372.5 185.0,370.5 184.0,368.5 183.0,369.2 182.0,369.8 181.0,370.5 180.0,369.7 179.0,368.9 178.0,368.1 177.0,367.3 176.0,366.5 175.0,367.7 174.0,368.8 173.0,370.0 172.0,371.2 171.0,372.3 170.0,373.5 169.0,372.3 168.0,371.1 167.0,369.9 166.0,368.7 165.0,367.5 164.0,368.5 163.0,369.5 162.0,370.5 161.0,371.5 160.0,368.7 159.0,365.9 158.0,363.1 157.0,360.3 156.0,357.5 155.0,357.2 154.0,357.0 153.0,356.8 152.0,356.5 151.0,354.5 150.0,352.5 149.0,350.5 148.0,348.5 147.0,347.5 146.0,346.5 145.0,345.5 144.0,344.5 143.0,341.2 142.0,337.8 141.0,334.5 140.0,335.0 139.0,331.0 138.0,327.0 137.0,329.0 136.0,331.0 135.0,333.0 134.0,335.0 133.0,335.2 132.0,335.5 131.0,335.8 130.0,336.0 129.0,337.0 128.0,338.0 127.0,339.0 126.0,337.0 125.0,335.0 124.0,333.0 123.0,331.3 122.0,329.7 121.0,328.0 120.0,329.0 119.0,330.0 118.0,331.0 117.0,332.0 116.0,332.8 115.0,333.5 114.0,334.2 113.0,335.0 112.0,338.5 111.0,342.0 110.0,345.5 109.0,349.0 108.0,353.7 107.0,353.8 106.0,358.5 105.0,366.5 104.0,374.5 103.0,379.5 102.0,384.5 101.0,389.5 100.0,394.5 99.0,398.5 98.0,402.5 97.0,406.5 96.0,410.5 95.0,412.5 94.0,414.5 93.0,416.5 92.0,418.5 91.0,418.9 90.0,419.2 89.0,419.6 88.0,420.0 87.0,420.4 86.0,420.8 85.0,421.1 84.0,421.5 83.0,421.8 82.0,422.0 81.0,422.2 80.0,422.5 79.0,422.8 78.0,423.0 77.0,423.2 76.0,423.5 75.0,423.2 74.0,422.8 73.0,422.5 72.0,422.2 71.0,421.8 70.0,421.5 69.0,421.5 68.0,421.5 67.0,421.5 66.0,421.5 65.0,421.5 64.0,421.5 63.0,421.5 62.0,421.5 61.0,421.8 60.0,422.2 59.0,422.5 58.0,422.8 57.0,423.2 56.0,423.5" fill="#b4b4ff" fill-opacity="1"/>
<polyline points="56.0,418.3 57.6,419.1 59.2,417.5 60.8,416.8 62.4,417.0 64.0,416.5 65.6,417.2 67.2,416.8 68.8,416.5 70.4,416.5 72.0,418.0 73.6,417.9 75.2,419.2 76.9,418.7 78.5,419.0 80.1,417.7 81.7,417.2 83.3,416.9 84.9,417.1 86.5,416.3 88.1,415.3 89.7,414.3 91.3,414.5 92.9,412.9 94.5,409.1 96.1,404.9 97.7,398.5 99.3,392.2 100.9,385.0 102.5,376.8 104.1,368.4 105.7,356.4 107.3,348.4 108.9,339.9 110.5,335.3 112.1,329.0 113.7,325.9 115.3,324.8 117.0,323.7 118.6,320.8 120.2,319.6 121.8,320.4 123.4,323.6 125.0,325.4 126.6,328.9 128.2,329.3 129.8,326.7 131.4,326.5 133.0,326.0 134.6,325.1 136.2,322.2 137.8,317.9 139.4,324.0 141.0,330.4 142.6,335.8 144.2,340.3 145.8,342.4 147.4,343.2 149.0,345.9 150.6,348.9 152.2,352.5 153.8,352.4 155.4,352.5 157.0,355.5 158.7,360.7 160.3,365.1 161.9,366.4 163.5,364.4 165.1,363.1 166.7,364.5 168.3,367.2 169.9,368.2 171.5,367.2 173.1,365.8 174.7,363.8 176.3,361.7 177.9,363.2 179.5,365.3 181.1,366.1 182.7,365.4 184.3,365.2 185.9,367.8 187.5,371.6 189.1,372.1 190.7,371.2 192.3,371.0 193.9,372.1 195.5,375.4 197.1,379.1 198.8,379.9 200.4,381.7 202.0,382.1 203.6,383.1 205.2,385.8 206.8,387.5 208.4,389.5 210.0,391.7 211.6,394.2 213.2,396.0 214.8,397.1 216.4,399.5 218.0,402.7" fill="none" stroke="#0a0aff" stroke-width="4.5" stroke-linejoin="round" stroke-linecap="round"/>
<polygon points="56.0,408.5 57.0,409.5 58.0,410.5 59.0,411.5 60.0,412.5 61.0,412.1 62.0,411.7 63.0,411.3 64.0,410.9 65.0,410.5 66.0,410.6 67.0,410.8 68.0,410.9 69.0,411.1 70.0,411.2 71.0,411.4 72.0,411.5 73.0,412.1 74.0,412.7 75.0,413.3 76.0,413.9 77.0,414.5 78.0,414.2 79.0,413.9 80.0,413.6 81.0,413.4 82.0,413.1 83.0,412.8 84.0,412.5 85.0,412.5 86.0,412.5 87.0,412.5 88.0,412.5 89.0,412.5 90.0,412.5 91.0,412.5 92.0,412.5 93.0,412.5 94.0,411.1 95.0,409.7 96.0,408.3 97.0,406.9 98.0,405.5 99.0,402.5 100.0,399.5 101.0,396.5 102.0,393.5 103.0,389.0 104.0,384.5 105.0,380.0 106.0,375.5 107.0,370.5 108.0,360.0 109.0,355.0 110.0,350.0 111.0,348.5 112.0,347.0 113.0,345.5 114.0,344.0 115.0,343.7 116.0,343.3 117.0,343.0 118.0,342.7 119.0,342.3 120.0,342.0 121.0,343.0 122.0,344.0 123.0,345.0 124.0,346.0 125.0,345.4 126.0,344.9 127.0,344.3 128.0,343.7 129.0,343.1 130.0,342.6 131.0,342.0 132.0,343.2 133.0,349.9 134.0,351.1 135.0,352.3 136.0,353.5 137.0,355.7 138.0,357.9 139.0,360.1 140.0,362.3 141.0,364.5 142.0,364.7 143.0,364.9 144.0,365.1 145.0,365.3 146.0,365.5 147.0,365.8 148.0,366.0 149.0,366.2 150.0,366.5 151.0,368.2 152.0,370.0 153.0,371.8 154.0,373.5 155.0,373.7 156.0,373.9 157.0,374.1 158.0,374.3 159.0,374.5 160.0,374.7 161.0,374.9 162.0,375.1 163.0,375.3 164.0,375.5 165.0,375.1 166.0,374.7 167.0,374.3 168.0,373.9 169.0,373.5 170.0,373.0 171.0,372.5 172.0,372.0 173.0,371.5 174.0,371.0 175.0,370.5 176.0,370.0 177.0,369.5 178.0,369.0 179.0,368.5 180.0,369.8 181.0,371.0 182.0,372.2 183.0,373.5 184.0,372.8 185.0,372.0 186.0,371.2 187.0,370.5 188.0,372.1 189.0,373.7 190.0,375.3 191.0,376.9 192.0,378.5 193.0,378.8 194.0,379.2 195.0,379.5 196.0,379.8 197.0,380.2 198.0,380.5 199.0,381.2 200.0,381.8 201.0,382.5 202.0,383.2 203.0,383.8 204.0,384.5 205.0,385.3 206.0,386.1 207.0,386.9 208.0,387.7 209.0,388.5 210.0,389.7 211.0,390.9 212.0,392.1 213.0,393.3 214.0,394.5 215.0,394.9 216.0,395.3 217.0,395.7 218.0,396.1 219.0,396.5 219.0,405.5 218.0,405.1 217.0,404.7 216.0,404.3 215.0,403.9 214.0,403.5 213.0,402.3 212.0,401.1 211.0,399.9 210.0,398.7 209.0,397.5 208.0,396.7 207.0,395.9 206.0,395.1 205.0,394.3 204.0,393.5 203.0,392.8 202.0,392.2 201.0,391.5 200.0,390.8 199.0,390.2 198.0,389.5 197.0,389.2 196.0,388.8 195.0,388.5 194.0,388.2 193.0,387.8 192.0,387.5 191.0,385.9 190.0,384.3 189.0,382.7 188.0,381.1 187.0,379.5 186.0,380.2 185.0,381.0 184.0,381.8 183.0,382.5 182.0,381.2 181.0,380.0 180.0,378.8 179.0,377.5 178.0,378.0 177.0,378.5 176.0,379.0 175.0,379.5 174.0,380.0 173.0,380.5 172.0,381.0 171.0,381.5 170.0,382.0 169.0,382.5 168.0,382.9 167.0,383.3 166.0,383.7 165.0,384.1 164.0,384.5 163.0,384.3 162.0,384.1 161.0,383.9 160.0,383.7 159.0,383.5 158.0,383.3 157.0,383.1 156.0,382.9 155.0,382.7 154.0,382.5 153.0,380.8 152.0,379.0 151.0,377.2 150.0,375.5 149.0,375.2 148.0,375.0 147.0,374.8 146.0,374.5 145.0,374.3 144.0,374.1 143.0,373.9 142.0,373.7 141.0,373.5 140.0,371.3 139.0,369.1 138.0,366.9 137.0,364.7 136.0,362.5 135.0,361.3 134.0,360.1 133.0,358.9 132.0,361.2 131.0,360.0 130.0,360.6 129.0,361.1 128.0,361.7 127.0,362.3 126.0,362.9 125.0,363.4 124.0,364.0 123.0,363.0 122.0,362.0 121.0,361.0 120.0,360.0 119.0,360.3 118.0,360.7 117.0,361.0 116.0,361.3 115.0,361.7 114.0,362.0 113.0,364.5 112.0,367.0 111.0,369.5 110.0,372.0 109.0,376.0 108.0,380.0 107.0,384.0 106.0,388.0 105.0,389.0 104.0,393.5 103.0,398.0 102.0,402.5 101.0,405.5 100.0,408.5 99.0,411.5 98.0,414.5 97.0,415.9 96.0,417.3 95.0,418.7 94.0,420.1 93.0,421.5 92.0,421.5 91.0,421.5 90.0,421.5 89.0,421.5 88.0,421.5 87.0,421.5 86.0,421.5 85.0,421.5 84.0,421.5 83.0,421.8 82.0,422.1 81.0,422.4 80.0,422.6 79.0,422.9 78.0,423.2 77.0,423.5 76.0,422.9 75.0,422.3 74.0,421.7 73.0,421.1 72.0,420.5 71.0,420.4 70.0,420.2 69.0,420.1 68.0,419.9 67.0,419.8 66.0,419.6 65.0,419.5 64.0,419.9 63.0,420.3 62.0,420.7 61.0,421.1 60.0,421.5 59.0,420.5 58.0,419.5 57.0,418.5 56.0,417.5" fill="#ffb4b4" fill-opacity="1"/>
<polyline points="56.0,412.6 57.6,414.7 59.2,416.1 60.8,417.1 62.5,416.2 64.1,415.8 65.7,415.1 67.3,414.9 68.9,415.1 70.5,415.2 72.1,416.5 73.8,416.5 75.4,417.4 77.0,419.6 78.6,418.1 80.2,418.6 81.8,417.0 83.4,417.1 85.0,416.6 86.7,417.5 88.3,417.2 89.9,417.2 91.5,417.4 93.1,417.4 94.7,414.4 96.3,412.5 98.0,410.0 99.6,404.7 101.2,400.9 102.8,394.5 104.4,387.6 106.0,379.5 107.6,373.5 109.3,366.9 110.9,362.1 112.5,357.2 114.1,353.8 115.7,353.4 117.3,352.3 118.9,352.4 120.6,352.9 122.2,354.1 123.8,356.0 125.4,355.4 127.0,353.9 128.6,353.1 130.2,353.1 131.9,352.8 133.5,354.9 135.1,356.3 136.7,359.1 138.3,362.6 139.9,367.2 141.5,369.4 143.1,370.0 144.8,370.4 146.4,370.3 148.0,371.1 149.6,371.0 151.2,373.0 152.8,376.6 154.4,378.7 156.1,379.0 157.7,378.7 159.3,379.4 160.9,379.2 162.5,380.4 164.1,380.5 165.7,379.0 167.4,379.3 169.0,377.6 170.6,376.6 172.2,376.7 173.8,375.3 175.4,374.8 177.0,374.2 178.7,372.5 180.3,374.9 181.9,376.3 183.5,377.5 185.1,376.2 186.7,375.5 188.3,377.5 190.0,379.4 191.6,381.7 193.2,383.1 194.8,383.8 196.4,383.9 198.0,384.5 199.6,386.5 201.2,387.4 202.9,388.9 204.5,390.1 206.1,391.2 207.7,391.8 209.3,392.9 210.9,395.1 212.5,397.2 214.2,399.1 215.8,399.8 217.4,400.2 219.0,401.5" fill="none" stroke="#ff0a0a" stroke-width="4.0" stroke-linejoin="round" stroke-linecap="round"/>
<polygon points="278.0,414.4 279.0,414.5 280.0,414.6 281.0,414.8 282.0,414.9 283.0,415.0 284.0,415.1 285.0,415.3 286.0,415.4 287.0,415.6 288.0,415.9 289.0,416.1 290.0,416.4 291.0,416.6 292.0,416.9 293.0,417.1 294.0,417.4 295.0,417.3 296.0,417.1 297.0,417.0 298.0,416.9 299.0,416.8 300.0,416.6 301.0,416.5 302.0,416.4 303.0,416.3 304.0,416.1 305.0,416.0 306.0,415.9 307.0,415.8 308.0,415.6 309.0,415.5 310.0,415.4 311.0,415.2 312.0,415.1 313.0,414.9 314.0,414.7 315.0,414.6 316.0,414.4 317.0,412.6 318.0,410.9 319.0,409.1 320.0,407.4 321.0,403.9 322.0,400.4 323.0,396.9 324.0,393.4 325.0,387.9 326.0,382.4 327.0,376.9 328.0,371.4 329.0,365.9 330.0,360.4 331.0,352.0 332.0,346.5 333.0,343.2 334.0,339.8 335.0,336.5 336.0,336.0 337.0,335.5 338.0,335.0 339.0,334.5 340.0,334.1 341.0,333.7 342.0,333.3 343.0,332.9 344.0,332.5 345.0,332.5 346.0,332.5 347.0,332.5 348.0,332.5 349.0,332.5 350.0,332.5 351.0,332.2 352.0,332.0 353.0,331.8 354.0,331.5 355.0,330.5 356.0,329.5 357.0,328.5 358.0,329.3 359.0,330.1 360.0,330.9 361.0,331.7 362.0,332.5 363.0,332.5 364.0,332.5 365.0,332.5 366.0,332.5 367.0,333.5 368.0,334.5 369.0,335.5 370.0,336.5 371.0,338.0 372.0,339.5 373.0,343.9 374.0,345.4 375.0,347.1 376.0,348.9 377.0,350.6 378.0,352.4 379.0,351.4 380.0,350.4 381.0,349.4 382.0,348.4 383.0,349.1 384.0,349.9 385.0,350.6 386.0,351.4 387.0,351.9 388.0,352.4 389.0,352.9 390.0,353.4 391.0,354.4 392.0,355.4 393.0,356.4 394.0,357.4 395.0,358.4 396.0,358.0 397.0,357.6 398.0,357.2 399.0,356.8 400.0,356.4 401.0,357.4 402.0,358.4 403.0,359.4 404.0,360.4 405.0,361.4 406.0,362.4 407.0,363.4 408.0,364.4 409.0,365.4 410.0,366.4 411.0,366.2 412.0,366.0 413.0,365.8 414.0,365.6 415.0,365.4 416.0,366.6 417.0,367.8 418.0,369.0 419.0,370.2 420.0,371.4 421.0,371.1 422.0,370.9 423.0,370.6 424.0,370.4 425.0,372.0 426.0,373.6 427.0,375.2 428.0,376.8 429.0,378.4 430.0,378.8 431.0,379.3 432.0,379.7 433.0,380.1 434.0,380.5 435.0,381.0 436.0,381.4 437.0,382.4 438.0,383.4 439.0,384.4 440.0,385.4 441.0,386.4 441.0,395.6 440.0,394.6 439.0,393.6 438.0,392.6 437.0,391.6 436.0,390.6 435.0,390.2 434.0,389.7 433.0,389.3 432.0,388.9 431.0,388.5 430.0,388.0 429.0,387.6 428.0,386.0 427.0,384.4 426.0,382.8 425.0,381.2 424.0,379.6 423.0,379.9 422.0,380.1 421.0,380.4 420.0,380.6 419.0,379.4 418.0,378.2 417.0,377.0 416.0,375.8 415.0,374.6 414.0,374.8 413.0,375.0 412.0,375.2 411.0,375.4 410.0,375.6 409.0,374.6 408.0,373.6 407.0,372.6 406.0,371.6 405.0,370.6 404.0,369.6 403.0,368.6 402.0,367.6 401.0,366.6 400.0,365.6 399.0,366.0 398.0,366.4 397.0,366.8 396.0,367.2 395.0,367.6 394.0,366.6 393.0,365.6 392.0,364.6 391.0,363.6 390.0,362.6 389.0,362.1 388.0,361.6 387.0,361.1 386.0,360.6 385.0,359.9 384.0,359.1 383.0,358.4 382.0,357.6 381.0,358.6 380.0,359.6 379.0,360.6 378.0,361.6 377.0,359.9 376.0,358.1 375.0,356.4 374.0,354.6 373.0,353.1 372.0,354.0 371.0,352.5 370.0,351.0 369.0,350.0 368.0,349.0 367.0,348.0 366.0,347.0 365.0,347.0 364.0,347.0 363.0,347.0 362.0,347.0 361.0,346.2 360.0,345.4 359.0,344.6 358.0,343.8 357.0,343.0 356.0,344.0 355.0,345.0 354.0,346.0 353.0,346.2 352.0,346.5 351.0,346.8 350.0,347.0 349.0,347.0 348.0,347.0 347.0,347.0 346.0,347.0 345.0,347.0 344.0,347.0 343.0,347.4 342.0,347.8 341.0,348.2 340.0,348.6 339.0,349.0 338.0,349.5 337.0,350.0 336.0,350.5 335.0,351.0 334.0,354.3 333.0,357.7 332.0,361.0 331.0,366.5 330.0,369.6 329.0,375.1 328.0,380.6 327.0,386.1 326.0,391.6 325.0,397.1 324.0,402.6 323.0,406.1 322.0,409.6 321.0,413.1 320.0,416.6 319.0,418.4 318.0,420.1 317.0,421.9 316.0,423.6 315.0,423.8 314.0,423.9 313.0,424.1 312.0,424.3 311.0,424.4 310.0,424.6 309.0,424.7 308.0,424.9 307.0,425.0 306.0,425.1 305.0,425.2 304.0,425.4 303.0,425.5 302.0,425.6 301.0,425.7 300.0,425.9 299.0,426.0 298.0,426.1 297.0,426.2 296.0,426.4 295.0,426.5 294.0,426.6 293.0,426.4 292.0,426.1 291.0,425.9 290.0,425.6 289.0,425.4 288.0,425.1 287.0,424.9 286.0,424.6 285.0,424.5 284.0,424.4 283.0,424.2 282.0,424.1 281.0,424.0 280.0,423.9 279.0,423.7 278.0,423.6" fill="#b4b4ff" fill-opacity="1"/>
<polyline points="278.0,418.7 279.6,419.2 281.2,419.9 282.8,420.0 284.5,419.5 286.1,419.7 287.7,420.9 289.3,420.1 290.9,420.7 292.5,421.7 294.1,422.0 295.8,421.3 297.4,420.9 299.0,421.0 300.6,421.6 302.2,420.9 303.8,421.4 305.4,421.0 307.0,421.0 308.7,419.5 310.3,419.5 311.9,419.0 313.5,419.3 315.1,418.9 316.7,417.1 318.3,415.0 320.0,411.5 321.6,406.2 323.2,400.5 324.8,394.0 326.4,384.6 328.0,375.5 329.6,366.3 331.3,358.0 332.9,351.3 334.5,346.0 336.1,344.0 337.7,343.1 339.3,341.5 340.9,340.7 342.6,340.9 344.2,340.4 345.8,340.0 347.4,340.5 349.0,340.1 350.6,339.5 352.2,339.0 353.9,338.4 355.5,337.7 357.1,336.6 358.7,337.9 360.3,338.6 361.9,340.2 363.5,340.6 365.1,340.4 366.8,340.9 368.4,342.3 370.0,344.0 371.6,345.9 373.2,348.4 374.8,351.7 376.4,355.0 378.1,357.0 379.7,355.2 381.3,353.5 382.9,353.6 384.5,355.3 386.1,356.0 387.7,357.5 389.4,357.2 391.0,358.7 392.6,360.6 394.2,362.1 395.8,363.2 397.4,362.5 399.0,362.0 400.7,361.8 402.3,362.6 403.9,365.0 405.5,366.6 407.1,368.1 408.7,369.4 410.3,371.2 412.0,371.2 413.6,369.7 415.2,370.5 416.8,372.0 418.4,374.1 420.0,376.5 421.6,376.2 423.2,375.4 424.9,376.0 426.5,379.5 428.1,381.1 429.7,383.1 431.3,384.5 432.9,384.4 434.5,385.1 436.2,386.8 437.8,388.4 439.4,389.1 441.0,390.8" fill="none" stroke="#0a0aff" stroke-width="4.5" stroke-linejoin="round" stroke-linecap="round"/>
<polygon points="278.0,415.5 279.0,415.6 280.0,415.8 281.0,415.9 282.0,416.0 283.0,416.1 284.0,416.2 285.0,416.4 286.0,416.5 287.0,416.3 288.0,416.2 289.0,416.0 290.0,415.8 291.0,415.7 292.0,415.5 293.0,415.9 294.0,416.2 295.0,416.6 296.0,417.0 297.0,417.4 298.0,417.8 299.0,418.1 300.0,418.5 301.0,418.3 302.0,418.1 303.0,417.9 304.0,417.7 305.0,417.5 306.0,417.7 307.0,417.9 308.0,418.1 309.0,418.3 310.0,418.5 311.0,418.0 312.0,417.5 313.0,417.0 314.0,416.5 315.0,416.0 316.0,415.5 317.0,415.0 318.0,414.5 319.0,412.8 320.0,411.0 321.0,409.2 322.0,407.5 323.0,404.0 324.0,400.5 325.0,397.0 326.0,393.5 327.0,389.5 328.0,385.5 329.0,381.5 330.0,377.5 331.0,374.5 332.0,371.5 333.0,368.5 334.0,363.5 335.0,362.2 336.0,361.0 337.0,359.8 338.0,358.5 339.0,358.3 340.0,358.2 341.0,358.0 342.0,357.8 343.0,357.7 344.0,357.5 345.0,356.7 346.0,355.9 347.0,355.1 348.0,354.3 349.0,353.5 350.0,353.2 351.0,352.8 352.0,352.5 353.0,353.8 354.0,355.0 355.0,356.2 356.0,357.5 357.0,357.3 358.0,357.1 359.0,356.9 360.0,356.7 361.0,356.5 362.0,356.3 363.0,356.1 364.0,355.9 365.0,355.7 366.0,355.5 367.0,356.2 368.0,357.0 369.0,357.8 370.0,358.5 371.0,358.2 372.0,358.0 373.0,359.8 374.0,359.5 375.0,360.7 376.0,361.9 377.0,363.1 378.0,364.3 379.0,365.5 380.0,365.7 381.0,365.9 382.0,366.1 383.0,366.3 384.0,366.5 385.0,367.2 386.0,368.0 387.0,368.8 388.0,369.5 389.0,368.8 390.0,368.2 391.0,367.5 392.0,366.8 393.0,366.2 394.0,365.5 395.0,365.9 396.0,366.2 397.0,366.6 398.0,367.0 399.0,367.4 400.0,367.8 401.0,368.1 402.0,368.5 403.0,369.1 404.0,369.7 405.0,370.3 406.0,370.9 407.0,371.5 408.0,371.8 409.0,372.2 410.0,372.5 411.0,372.8 412.0,373.2 413.0,373.5 414.0,373.8 415.0,374.2 416.0,374.5 417.0,374.8 418.0,375.2 419.0,375.5 420.0,375.7 421.0,375.8 422.0,376.0 423.0,376.2 424.0,376.3 425.0,376.5 426.0,378.0 427.0,379.5 428.0,381.0 429.0,382.5 430.0,383.0 431.0,383.5 432.0,384.0 433.0,384.5 434.0,385.0 435.0,385.5 436.0,386.0 437.0,386.5 438.0,387.0 439.0,387.5 440.0,388.0 441.0,388.5 441.0,397.5 440.0,397.0 439.0,396.5 438.0,396.0 437.0,395.5 436.0,395.0 435.0,394.5 434.0,394.0 433.0,393.5 432.0,393.0 431.0,392.5 430.0,392.0 429.0,391.5 428.0,390.0 427.0,388.5 426.0,387.0 425.0,385.5 424.0,385.3 423.0,385.2 422.0,385.0 421.0,384.8 420.0,384.7 419.0,384.5 418.0,384.2 417.0,383.8 416.0,383.5 415.0,383.2 414.0,382.8 413.0,382.5 412.0,382.2 411.0,381.8 410.0,381.5 409.0,381.2 408.0,380.8 407.0,380.5 406.0,379.9 405.0,379.3 404.0,378.7 403.0,378.1 402.0,377.5 401.0,377.1 400.0,376.8 399.0,376.4 398.0,376.0 397.0,375.6 396.0,375.2 395.0,374.9 394.0,374.5 393.0,375.2 392.0,375.8 391.0,376.5 390.0,377.2 389.0,377.8 388.0,378.5 387.0,377.8 386.0,377.0 385.0,376.2 384.0,375.5 383.0,375.3 382.0,375.1 381.0,374.9 380.0,374.7 379.0,374.5 378.0,373.3 377.0,372.1 376.0,370.9 375.0,369.7 374.0,368.5 373.0,368.8 372.0,370.5 371.0,370.8 370.0,371.0 369.0,370.2 368.0,369.5 367.0,368.8 366.0,368.0 365.0,368.2 364.0,368.4 363.0,368.6 362.0,368.8 361.0,369.0 360.0,369.2 359.0,369.4 358.0,369.6 357.0,369.8 356.0,370.0 355.0,368.8 354.0,367.5 353.0,366.2 352.0,365.0 351.0,365.3 350.0,365.7 349.0,366.0 348.0,366.8 347.0,367.6 346.0,368.4 345.0,369.2 344.0,370.0 343.0,370.2 342.0,370.3 341.0,370.5 340.0,370.7 339.0,370.8 338.0,371.0 337.0,372.2 336.0,373.5 335.0,374.8 334.0,376.0 333.0,377.5 332.0,380.5 331.0,383.5 330.0,386.5 329.0,390.5 328.0,394.5 327.0,398.5 326.0,402.5 325.0,406.0 324.0,409.5 323.0,413.0 322.0,416.5 321.0,418.2 320.0,420.0 319.0,421.8 318.0,423.5 317.0,424.0 316.0,424.5 315.0,425.0 314.0,425.5 313.0,426.0 312.0,426.5 311.0,427.0 310.0,427.5 309.0,427.3 308.0,427.1 307.0,426.9 306.0,426.7 305.0,426.5 304.0,426.7 303.0,426.9 302.0,427.1 301.0,427.3 300.0,427.5 299.0,427.1 298.0,426.8 297.0,426.4 296.0,426.0 295.0,425.6 294.0,425.2 293.0,424.9 292.0,424.5 291.0,424.7 290.0,424.8 289.0,425.0 288.0,425.2 287.0,425.3 286.0,425.5 285.0,425.4 284.0,425.2 283.0,425.1 282.0,425.0 281.0,424.9 280.0,424.8 279.0,424.6 278.0,424.5" fill="#ffb4b4" fill-opacity="1"/>
<polyline points="278.0,419.7 279.6,419.7 281.2,420.1 282.8,421.3 284.5,420.2 286.1,420.6 287.7,420.3 289.3,419.9 290.9,420.2 292.5,420.5 294.1,421.3 295.8,421.6 297.4,422.5 299.0,421.9 300.6,422.6 302.2,423.2 303.8,421.6 305.4,421.8 307.0,422.4 308.7,422.4 310.3,422.9 311.9,421.4 313.5,420.9 315.1,421.1 316.7,419.1 318.3,419.0 320.0,415.1 321.6,413.4 323.2,408.1 324.8,402.4 326.4,395.8 328.0,389.3 329.6,383.8 331.3,377.8 332.9,373.0 334.5,369.8 336.1,367.9 337.7,364.7 339.3,365.4 340.9,364.6 342.6,364.1 344.2,363.3 345.8,362.4 347.4,362.0 349.0,359.7 350.6,358.9 352.2,358.8 353.9,360.8 355.5,363.1 357.1,364.4 358.7,362.9 360.3,362.7 361.9,363.4 363.5,363.2 365.1,362.8 366.8,362.2 368.4,363.6 370.0,365.6 371.6,364.6 373.2,364.5 374.8,364.7 376.4,366.3 378.1,368.7 379.7,370.5 381.3,370.9 382.9,370.9 384.5,371.3 386.1,372.6 387.7,373.7 389.4,373.1 391.0,372.5 392.6,370.5 394.2,370.2 395.8,371.3 397.4,371.8 399.0,371.4 400.7,373.1 402.3,373.6 403.9,373.7 405.5,374.8 407.1,375.6 408.7,375.9 410.3,377.8 412.0,377.5 413.6,378.7 415.2,378.2 416.8,378.6 418.4,380.3 420.0,380.6 421.6,381.1 423.2,381.0 424.9,381.0 426.5,383.6 428.1,385.1 429.7,387.4 431.3,388.1 432.9,388.5 434.5,389.9 436.2,390.3 437.8,391.4 439.4,392.0 441.0,392.7" fill="none" stroke="#ff0a0a" stroke-width="4.0" stroke-linejoin="round" stroke-linecap="round"/>
<polyline points="500.5,409.8 502.1,411.0 503.7,412.3 505.3,413.1 506.9,413.8 508.5,414.6 510.1,414.4 511.7,415.9 513.4,415.5 515.0,415.8 516.6,416.9 518.2,417.3 519.8,416.6 521.4,416.8 523.0,416.1 524.6,416.8 526.2,415.9 527.8,415.7 529.4,416.0 531.0,416.9 532.6,417.5 534.2,417.2 535.9,417.5 537.5,418.2 539.1,417.8 540.7,417.1 542.3,416.2 543.9,414.5 545.5,410.8 547.1,406.6 548.7,400.7 550.3,396.3 551.9,391.6 553.5,387.7 555.1,384.4 556.7,382.6 558.3,381.1 560.0,380.9 561.6,379.9 563.2,377.8 564.8,376.1 566.4,374.7 568.0,372.6 569.6,370.2 571.2,368.2 572.8,366.2 574.4,364.6 576.0,362.8 577.6,361.6 579.2,360.6 580.8,359.8 582.5,357.9 584.1,356.8 585.7,356.8 587.3,356.4 588.9,355.7 590.5,356.1 592.1,356.6 593.7,356.0 595.3,356.3 596.9,356.5 598.5,357.4 600.1,359.1 601.7,360.1 603.3,361.9 605.0,361.4 606.6,362.7 608.2,362.3 609.8,362.7 611.4,363.5 613.0,363.2 614.6,363.6 616.2,365.0 617.8,365.3 619.4,365.1 621.0,365.8 622.6,367.0 624.2,367.4 625.8,369.3 627.4,369.2 629.1,369.5 630.7,369.3 632.3,369.1 633.9,368.7 635.5,369.0 637.1,370.3 638.7,371.3 640.3,372.1 641.9,374.6 643.5,374.6 645.1,374.1 646.7,374.9 648.3,375.7 649.9,376.7 651.6,376.2 653.2,376.9 654.8,378.3 656.4,378.2 658.0,378.9 659.6,380.2 661.2,382.3 662.8,385.1" fill="none" stroke="#b4b4ff" stroke-width="6.5" stroke-linejoin="round" stroke-linecap="round"/>
<polyline points="500.5,409.8 502.1,411.0 503.7,412.3 505.3,413.1 506.9,413.8 508.5,414.6 510.1,414.4 511.7,415.9 513.4,415.5 515.0,415.8 516.6,416.9 518.2,417.3 519.8,416.6 521.4,416.8 523.0,416.1 524.6,416.8 526.2,415.9 527.8,415.7 529.4,416.0 531.0,416.9 532.6,417.5 534.2,417.2 535.9,417.5 537.5,418.2 539.1,417.8 540.7,417.1 542.3,416.2 543.9,414.5 545.5,410.8 547.1,406.6 548.7,400.7 550.3,396.3 551.9,391.6 553.5,387.7 555.1,384.4 556.7,382.6 558.3,381.1 560.0,380.9 561.6,379.9 563.2,377.8 564.8,376.1 566.4,374.7 568.0,372.6 569.6,370.2 571.2,368.2 572.8,366.2 574.4,364.6 576.0,362.8 577.6,361.6 579.2,360.6 580.8,359.8 582.5,357.9 584.1,356.8 585.7,356.8 587.3,356.4 588.9,355.7 590.5,356.1 592.1,356.6 593.7,356.0 595.3,356.3 596.9,356.5 598.5,357.4 600.1,359.1 601.7,360.1 603.3,361.9 605.0,361.4 606.6,362.7 608.2,362.3 609.8,362.7 611.4,363.5 613.0,363.2 614.6,363.6 616.2,365.0 617.8,365.3 619.4,365.1 621.0,365.8 622.6,367.0 624.2,367.4 625.8,369.3 627.4,369.2 629.1,369.5 630.7,369.3 632.3,369.1 633.9,368.7 635.5,369.0 637.1,370.3 638.7,371.3 640.3,372.1 641.9,374.6 643.5,374.6 645.1,374.1 646.7,374.9 648.3,375.7 649.9,376.7 651.6,376.2 653.2,376.9 654.8,378.3 656.4,378.2 658.0,378.9 659.6,380.2 661.2,382.3 662.8,385.1" fill="none" stroke="#0a0aff" stroke-width="4.5" stroke-linejoin="round" stroke-linecap="round"/>
<polyline points="500.5,411.6 502.1,413.0 503.7,413.0 505.3,414.2 506.9,414.8 508.5,415.9 510.1,415.0 511.7,416.3 513.4,415.7 515.0,415.8 516.6,415.1 518.2,415.7 519.8,416.5 521.4,417.6 523.0,417.7 524.6,417.9 526.2,419.1 527.8,418.4 529.4,418.0 531.0,417.4 532.6,417.3 534.2,418.0 535.9,416.7 537.5,417.0 539.1,416.8 540.7,416.1 542.3,416.3 543.9,415.4 545.5,411.7 547.1,408.0 548.7,403.7 550.3,400.1 551.9,397.4 553.5,394.0 555.1,391.6 556.7,392.2 558.3,391.0 560.0,391.5 561.6,391.3 563.2,388.9 564.8,388.7 566.4,386.7 568.0,385.2 569.6,383.2 571.2,380.8 572.8,379.1 574.4,376.7 576.0,374.8 577.6,371.5 579.2,367.3 580.8,364.6 582.5,362.5 584.1,360.2 585.7,358.4 587.3,356.4 588.9,355.3 590.5,353.2 592.1,351.3 593.7,349.9 595.3,348.9 596.9,348.8 598.5,348.0 600.1,348.3 601.7,347.3 603.3,349.2 605.0,350.4 606.6,351.1 608.2,353.2 609.8,353.9 611.4,355.1 613.0,356.3 614.6,357.4 616.2,358.2 617.8,358.4 619.4,360.0 621.0,360.6 622.6,360.7 624.2,361.3 625.8,361.5 627.4,363.2 629.1,363.7 630.7,363.9 632.3,363.5 633.9,362.1 635.5,359.6 637.1,358.9 638.7,357.8 640.3,358.2 641.9,359.7 643.5,359.9 645.1,359.7 646.7,358.7 648.3,357.2 649.9,358.4 651.6,360.5 653.2,361.6 654.8,363.5 656.4,366.6 658.0,368.6 659.6,370.5 661.2,371.7 662.8,373.2" fill="none" stroke="#ffb4b4" stroke-width="6.5" stroke-linejoin="round" stroke-linecap="round"/>
<polyline points="500.5,411.6 502.1,413.0 503.7,413.0 505.3,414.2 506.9,414.8 508.5,415.9 510.1,415.0 511.7,416.3 513.4,415.7 515.0,415.8 516.6,415.1 518.2,415.7 519.8,416.5 521.4,417.6 523.0,417.7 524.6,417.9 526.2,419.1 527.8,418.4 529.4,418.0 531.0,417.4 532.6,417.3 534.2,418.0 535.9,416.7 537.5,417.0 539.1,416.8 540.7,416.1 542.3,416.3 543.9,415.4 545.5,411.7 547.1,408.0 548.7,403.7 550.3,400.1 551.9,397.4 553.5,394.0 555.1,391.6 556.7,392.2 558.3,391.0 560.0,391.5 561.6,391.3 563.2,388.9 564.8,388.7 566.4,386.7 568.0,385.2 569.6,383.2 571.2,380.8 572.8,379.1 574.4,376.7 576.0,374.8 577.6,371.5 579.2,367.3 580.8,364.6 582.5,362.5 584.1,360.2 585.7,358.4 587.3,356.4 588.9,355.3 590.5,353.2 592.1,351.3 593.7,349.9 595.3,348.9 596.9,348.8 598.5,348.0 600.1,348.3 601.7,347.3 603.3,349.2 605.0,350.4 606.6,351.1 608.2,353.2 609.8,353.9 611.4,355.1 613.0,356.3 614.6,357.4 616.2,358.2 617.8,358.4 619.4,360.0 621.0,360.6 622.6,360.7 624.2,361.3 625.8,361.5 627.4,363.2 629.1,363.7 630.7,363.9 632.3,363.5 633.9,362.1 635.5,359.6 637.1,358.9 638.7,357.8 640.3,358.2 641.9,359.7 643.5,359.9 645.1,359.7 646.7,358.7 648.3,357.2 649.9,358.4 651.6,360.5 653.2,361.6 654.8,363.5 656.4,366.6 658.0,368.6 659.6,370.5 661.2,371.7 662.8,373.2" fill="none" stroke="#ff0a0a" stroke-width="4.0" stroke-linejoin="round" stroke-linecap="round"/>
<text x="2.8" y="480.2" font-size="19" fill="#000" textLength="12.0" lengthAdjust="spacingAndGlyphs" font-weight="bold" stroke="#000" stroke-width="0.9">b</text>
<text x="179.9" y="481.7" font-size="11.77" textLength="291.9" lengthAdjust="spacingAndGlyphs" stroke="#231f20" stroke-width="0.22">Time-binned response changes across generations</text>
<text x="20.8" y="519.0" font-size="12.84" textLength="40.0" lengthAdjust="spacingAndGlyphs" stroke="#231f20" stroke-width="0.22">Block 1</text>
<text x="18.8" y="595.0" font-size="12.84" textLength="41.8" lengthAdjust="spacingAndGlyphs" stroke="#231f20" stroke-width="0.22">Block 2</text>
<text x="18.5" y="671.0" font-size="12.84" textLength="42.1" lengthAdjust="spacingAndGlyphs" stroke="#231f20" stroke-width="0.22">Block 3</text>
<text x="8.9" y="725.5" font-size="12.84" textLength="103.3" lengthAdjust="spacingAndGlyphs" stroke="#231f20" stroke-width="0.22">Evolution process</text>
<text x="93.6" y="547.0" font-size="11.24" textLength="57.0" lengthAdjust="spacingAndGlyphs" stroke="#231f20" stroke-width="0.22" transform="rotate(-90 93.6 547.0)">Firing rate</text>
<line x1="74.8" y1="497.6" x2="74.8" y2="694.0" stroke="#000" stroke-width="2"/>
<polygon points="71.4,691.5 78.2,691.5 74.8,700" fill="#000"/>
<clipPath id="clipb1"><path d="M107.00,546.50 C109.17,546.52 116.50,546.65 120.00,546.60 C123.50,546.55 126.08,546.37 128.00,546.20 C129.92,546.03 130.62,545.87 131.50,545.60 C132.38,545.33 132.63,545.45 133.30,544.60 C133.97,543.75 134.65,542.27 135.50,540.50 C136.35,538.73 137.17,536.67 138.40,534.00 C139.63,531.33 141.40,527.53 142.90,524.50 C144.40,521.47 145.90,518.02 147.40,515.80 C148.90,513.58 150.40,512.32 151.90,511.20 C153.40,510.08 154.97,509.53 156.40,509.10 C157.83,508.67 159.02,508.35 160.50,508.60 C161.98,508.85 163.63,509.00 165.30,510.60 C166.97,512.20 168.75,515.58 170.50,518.20 C172.25,520.82 174.05,523.97 175.80,526.30 C177.55,528.63 179.03,530.45 181.00,532.20 C182.97,533.95 184.97,535.48 187.60,536.80 C190.23,538.12 193.63,539.12 196.80,540.10 C199.97,541.08 203.53,541.93 206.60,542.70 C209.67,543.47 212.02,544.15 215.20,544.70 C218.38,545.25 222.63,545.72 225.70,546.00 C228.77,546.28 230.65,546.33 233.60,546.40 C236.55,546.47 241.77,546.40 243.40,546.40 L243.4,554.30 L104.4,554.30 L104.4,546.50 Z"/></clipPath>
<g clip-path="url(#clipb1)">
<rect x="100" y="478.3" width="33.3" height="81.0" fill="#d7df23"/>
<rect x="133.3" y="478.3" width="36.9" height="81.0" fill="#8dc63f"/>
<rect x="170.2" y="478.3" width="36.9" height="81.0" fill="#009444"/>
<rect x="207.1" y="478.3" width="37.0" height="81.0" fill="#00391c"/>
</g>
<path d="M107.00,546.50 C109.17,546.52 116.50,546.65 120.00,546.60 C123.50,546.55 126.08,546.37 128.00,546.20 C129.92,546.03 130.62,545.87 131.50,545.60 C132.38,545.33 132.63,545.45 133.30,544.60 C133.97,543.75 134.65,542.27 135.50,540.50 C136.35,538.73 137.17,536.67 138.40,534.00 C139.63,531.33 141.40,527.53 142.90,524.50 C144.40,521.47 145.90,518.02 147.40,515.80 C148.90,513.58 150.40,512.32 151.90,511.20 C153.40,510.08 154.97,509.53 156.40,509.10 C157.83,508.67 159.02,508.35 160.50,508.60 C161.98,508.85 163.63,509.00 165.30,510.60 C166.97,512.20 168.75,515.58 170.50,518.20 C172.25,520.82 174.05,523.97 175.80,526.30 C177.55,528.63 179.03,530.45 181.00,532.20 C182.97,533.95 184.97,535.48 187.60,536.80 C190.23,538.12 193.63,539.12 196.80,540.10 C199.97,541.08 203.53,541.93 206.60,542.70 C209.67,543.47 212.02,544.15 215.20,544.70 C218.38,545.25 222.63,545.72 225.70,546.00 C228.77,546.28 230.65,546.33 233.60,546.40 C236.55,546.47 241.77,546.40 243.40,546.40" fill="none" stroke="#000" stroke-width="2.1" stroke-linejoin="round"/>
<line x1="104.4" y1="483.3" x2="104.4" y2="555.0" stroke="#000" stroke-width="1.5"/>
<line x1="104.4" y1="554.3" x2="244.2" y2="554.3" stroke="#000" stroke-width="1.6"/>
<clipPath id="clipb2"><path d="M107.00,626.20 C109.17,626.23 116.50,626.43 120.00,626.40 C123.50,626.37 126.08,626.18 128.00,626.00 C129.92,625.82 130.62,625.57 131.50,625.30 C132.38,625.03 132.58,625.28 133.30,624.40 C134.02,623.52 134.93,621.90 135.80,620.00 C136.67,618.10 137.35,615.92 138.50,613.00 C139.65,610.08 141.20,606.25 142.70,602.50 C144.20,598.75 145.95,593.33 147.50,590.50 C149.05,587.67 150.58,586.70 152.00,585.50 C153.42,584.30 154.50,583.82 156.00,583.30 C157.50,582.78 159.33,582.42 161.00,582.40 C162.67,582.38 164.50,582.67 166.00,583.20 C167.50,583.73 168.60,584.38 170.00,585.60 C171.40,586.82 172.98,588.68 174.40,590.50 C175.82,592.32 177.15,594.58 178.50,596.50 C179.85,598.42 180.98,600.38 182.50,602.00 C184.02,603.62 185.85,605.12 187.60,606.20 C189.35,607.28 191.18,607.88 193.00,608.50 C194.82,609.12 196.12,609.27 198.50,609.90 C200.88,610.53 204.02,611.25 207.30,612.30 C210.58,613.35 214.18,614.78 218.20,616.20 C222.22,617.62 227.20,619.20 231.40,620.80 C235.60,622.40 241.40,624.97 243.40,625.80 L243.4,633.30 L104.4,633.30 L104.4,626.20 Z"/></clipPath>
<g clip-path="url(#clipb2)">
<rect x="100" y="558.3" width="33.3" height="80.0" fill="#d7df23"/>
<rect x="133.3" y="558.3" width="36.9" height="80.0" fill="#8dc63f"/>
<rect x="170.2" y="558.3" width="36.9" height="80.0" fill="#009444"/>
<rect x="207.1" y="558.3" width="37.0" height="80.0" fill="#00391c"/>
</g>
<path d="M107.00,626.20 C109.17,626.23 116.50,626.43 120.00,626.40 C123.50,626.37 126.08,626.18 128.00,626.00 C129.92,625.82 130.62,625.57 131.50,625.30 C132.38,625.03 132.58,625.28 133.30,624.40 C134.02,623.52 134.93,621.90 135.80,620.00 C136.67,618.10 137.35,615.92 138.50,613.00 C139.65,610.08 141.20,606.25 142.70,602.50 C144.20,598.75 145.95,593.33 147.50,590.50 C149.05,587.67 150.58,586.70 152.00,585.50 C153.42,584.30 154.50,583.82 156.00,583.30 C157.50,582.78 159.33,582.42 161.00,582.40 C162.67,582.38 164.50,582.67 166.00,583.20 C167.50,583.73 168.60,584.38 170.00,585.60 C171.40,586.82 172.98,588.68 174.40,590.50 C175.82,592.32 177.15,594.58 178.50,596.50 C179.85,598.42 180.98,600.38 182.50,602.00 C184.02,603.62 185.85,605.12 187.60,606.20 C189.35,607.28 191.18,607.88 193.00,608.50 C194.82,609.12 196.12,609.27 198.50,609.90 C200.88,610.53 204.02,611.25 207.30,612.30 C210.58,613.35 214.18,614.78 218.20,616.20 C222.22,617.62 227.20,619.20 231.40,620.80 C235.60,622.40 241.40,624.97 243.40,625.80" fill="none" stroke="#000" stroke-width="2.1" stroke-linejoin="round"/>
<line x1="104.4" y1="563.3" x2="104.4" y2="634.0" stroke="#000" stroke-width="1.5"/>
<line x1="104.4" y1="633.3" x2="244.2" y2="633.3" stroke="#000" stroke-width="1.6"/>
<clipPath id="clipb3"><path d="M107.00,701.80 C109.17,701.83 116.50,702.03 120.00,702.00 C123.50,701.97 126.08,701.77 128.00,701.60 C129.92,701.43 130.62,701.27 131.50,701.00 C132.38,700.73 132.58,700.75 133.30,700.00 C134.02,699.25 134.98,698.33 135.80,696.50 C136.62,694.67 137.23,692.17 138.20,689.00 C139.17,685.83 140.47,681.08 141.60,677.50 C142.73,673.92 143.85,670.05 145.00,667.50 C146.15,664.95 147.17,663.52 148.50,662.20 C149.83,660.88 151.23,660.30 153.00,659.60 C154.77,658.90 156.98,658.02 159.10,658.00 C161.22,657.98 163.50,658.70 165.70,659.50 C167.90,660.30 169.75,661.38 172.30,662.80 C174.85,664.22 178.08,666.63 181.00,668.00 C183.92,669.37 186.52,670.33 189.80,671.00 C193.08,671.67 197.78,671.53 200.70,672.00 C203.62,672.47 204.75,672.77 207.30,673.80 C209.85,674.83 213.08,676.38 216.00,678.20 C218.92,680.02 221.87,682.33 224.80,684.70 C227.73,687.07 230.50,689.60 233.60,692.40 C236.70,695.20 241.77,699.98 243.40,701.50 L243.4,709.70 L104.4,709.70 L104.4,701.80 Z"/></clipPath>
<g clip-path="url(#clipb3)">
<rect x="100" y="634.2" width="33.3" height="80.5" fill="#d7df23"/>
<rect x="133.3" y="634.2" width="36.9" height="80.5" fill="#8dc63f"/>
<rect x="170.2" y="634.2" width="36.9" height="80.5" fill="#009444"/>
<rect x="207.1" y="634.2" width="37.0" height="80.5" fill="#00391c"/>
</g>
<path d="M107.00,701.80 C109.17,701.83 116.50,702.03 120.00,702.00 C123.50,701.97 126.08,701.77 128.00,701.60 C129.92,701.43 130.62,701.27 131.50,701.00 C132.38,700.73 132.58,700.75 133.30,700.00 C134.02,699.25 134.98,698.33 135.80,696.50 C136.62,694.67 137.23,692.17 138.20,689.00 C139.17,685.83 140.47,681.08 141.60,677.50 C142.73,673.92 143.85,670.05 145.00,667.50 C146.15,664.95 147.17,663.52 148.50,662.20 C149.83,660.88 151.23,660.30 153.00,659.60 C154.77,658.90 156.98,658.02 159.10,658.00 C161.22,657.98 163.50,658.70 165.70,659.50 C167.90,660.30 169.75,661.38 172.30,662.80 C174.85,664.22 178.08,666.63 181.00,668.00 C183.92,669.37 186.52,670.33 189.80,671.00 C193.08,671.67 197.78,671.53 200.70,672.00 C203.62,672.47 204.75,672.77 207.30,673.80 C209.85,674.83 213.08,676.38 216.00,678.20 C218.92,680.02 221.87,682.33 224.80,684.70 C227.73,687.07 230.50,689.60 233.60,692.40 C236.70,695.20 241.77,699.98 243.40,701.50" fill="none" stroke="#000" stroke-width="2.1" stroke-linejoin="round"/>
<line x1="104.4" y1="639.2" x2="104.4" y2="710.4" stroke="#000" stroke-width="1.5"/>
<line x1="104.4" y1="709.7" x2="244.2" y2="709.7" stroke="#000" stroke-width="1.6"/>
<line x1="132.4" y1="492.3" x2="137.8" y2="492.3" stroke="#000" stroke-width="1.9"/>
<line x1="146.9" y1="492.3" x2="156.0" y2="492.3" stroke="#000" stroke-width="1.9"/>
<line x1="165.5" y1="492.3" x2="174.3" y2="492.3" stroke="#000" stroke-width="1.9"/>
<line x1="183.4" y1="492.3" x2="192.9" y2="492.3" stroke="#000" stroke-width="1.9"/>
<line x1="203.1" y1="492.3" x2="210.8" y2="492.3" stroke="#000" stroke-width="1.9"/>
<line x1="219.9" y1="492.3" x2="229.9" y2="492.3" stroke="#000" stroke-width="1.9"/>
<line x1="239.0" y1="492.3" x2="244.6" y2="492.3" stroke="#000" stroke-width="1.9"/>
<line x1="132.4" y1="718.6" x2="137.8" y2="718.6" stroke="#000" stroke-width="1.9"/>
<line x1="146.9" y1="718.6" x2="156.0" y2="718.6" stroke="#000" stroke-width="1.9"/>
<line x1="165.5" y1="718.6" x2="174.3" y2="718.6" stroke="#000" stroke-width="1.9"/>
<line x1="183.4" y1="718.6" x2="192.9" y2="718.6" stroke="#000" stroke-width="1.9"/>
<line x1="203.1" y1="718.6" x2="210.8" y2="718.6" stroke="#000" stroke-width="1.9"/>
<line x1="219.9" y1="718.6" x2="229.9" y2="718.6" stroke="#000" stroke-width="1.9"/>
<line x1="239.0" y1="718.6" x2="244.6" y2="718.6" stroke="#000" stroke-width="1.9"/>
<line x1="133.3" y1="507.5" x2="133.3" y2="515.5" stroke="#000" stroke-width="1.9"/>
<line x1="133.3" y1="523.3" x2="133.3" y2="531.3" stroke="#000" stroke-width="1.9"/>
<line x1="133.3" y1="539.1" x2="133.3" y2="547.1" stroke="#000" stroke-width="1.9"/>
<line x1="133.3" y1="554.9" x2="133.3" y2="562.9" stroke="#000" stroke-width="1.9"/>
<line x1="133.3" y1="570.7" x2="133.3" y2="578.7" stroke="#000" stroke-width="1.9"/>
<line x1="133.3" y1="586.5" x2="133.3" y2="594.5" stroke="#000" stroke-width="1.9"/>
<line x1="133.3" y1="602.3" x2="133.3" y2="610.3" stroke="#000" stroke-width="1.9"/>
<line x1="133.3" y1="618.1" x2="133.3" y2="626.1" stroke="#000" stroke-width="1.9"/>
<line x1="133.3" y1="633.9" x2="133.3" y2="641.9" stroke="#000" stroke-width="1.9"/>
<line x1="133.3" y1="649.7" x2="133.3" y2="657.7" stroke="#000" stroke-width="1.9"/>
<line x1="133.3" y1="665.5" x2="133.3" y2="673.5" stroke="#000" stroke-width="1.9"/>
<line x1="133.3" y1="681.3" x2="133.3" y2="689.3" stroke="#000" stroke-width="1.9"/>
<line x1="133.3" y1="697.1" x2="133.3" y2="705.1" stroke="#000" stroke-width="1.9"/>
<line x1="133.3" y1="712.9" x2="133.3" y2="718.6" stroke="#000" stroke-width="1.9"/>
<line x1="133.3" y1="491.4" x2="133.3" y2="496.0" stroke="#000" stroke-width="1.9"/>
<line x1="170.2" y1="506.0" x2="170.2" y2="514.0" stroke="#000" stroke-width="1.9"/>
<line x1="170.2" y1="521.8" x2="170.2" y2="529.8" stroke="#000" stroke-width="1.9"/>
<line x1="170.2" y1="537.6" x2="170.2" y2="545.6" stroke="#000" stroke-width="1.9"/>
<line x1="170.2" y1="553.4" x2="170.2" y2="561.4" stroke="#000" stroke-width="1.9"/>
<line x1="170.2" y1="569.2" x2="170.2" y2="577.2" stroke="#000" stroke-width="1.9"/>
<line x1="170.2" y1="585.0" x2="170.2" y2="593.0" stroke="#000" stroke-width="1.9"/>
<line x1="170.2" y1="600.8" x2="170.2" y2="608.8" stroke="#000" stroke-width="1.9"/>
<line x1="170.2" y1="616.6" x2="170.2" y2="624.6" stroke="#000" stroke-width="1.9"/>
<line x1="170.2" y1="632.4" x2="170.2" y2="640.4" stroke="#000" stroke-width="1.9"/>
<line x1="170.2" y1="648.2" x2="170.2" y2="656.2" stroke="#000" stroke-width="1.9"/>
<line x1="170.2" y1="664.0" x2="170.2" y2="672.0" stroke="#000" stroke-width="1.9"/>
<line x1="170.2" y1="679.8" x2="170.2" y2="687.8" stroke="#000" stroke-width="1.9"/>
<line x1="170.2" y1="695.6" x2="170.2" y2="703.6" stroke="#000" stroke-width="1.9"/>
<line x1="170.2" y1="711.4" x2="170.2" y2="718.6" stroke="#000" stroke-width="1.9"/>
<line x1="170.2" y1="491.4" x2="170.2" y2="496.0" stroke="#000" stroke-width="1.9"/>
<line x1="207.0" y1="503.9" x2="207.0" y2="511.9" stroke="#000" stroke-width="1.9"/>
<line x1="207.0" y1="519.7" x2="207.0" y2="527.7" stroke="#000" stroke-width="1.9"/>
<line x1="207.0" y1="535.5" x2="207.0" y2="543.5" stroke="#000" stroke-width="1.9"/>
<line x1="207.0" y1="551.3" x2="207.0" y2="559.3" stroke="#000" stroke-width="1.9"/>
<line x1="207.0" y1="567.1" x2="207.0" y2="575.1" stroke="#000" stroke-width="1.9"/>
<line x1="207.0" y1="582.9" x2="207.0" y2="590.9" stroke="#000" stroke-width="1.9"/>
<line x1="207.0" y1="598.7" x2="207.0" y2="606.7" stroke="#000" stroke-width="1.9"/>
<line x1="207.0" y1="614.5" x2="207.0" y2="622.5" stroke="#000" stroke-width="1.9"/>
<line x1="207.0" y1="630.3" x2="207.0" y2="638.3" stroke="#000" stroke-width="1.9"/>
<line x1="207.0" y1="646.1" x2="207.0" y2="654.1" stroke="#000" stroke-width="1.9"/>
<line x1="207.0" y1="661.9" x2="207.0" y2="669.9" stroke="#000" stroke-width="1.9"/>
<line x1="207.0" y1="677.7" x2="207.0" y2="685.7" stroke="#000" stroke-width="1.9"/>
<line x1="207.0" y1="693.5" x2="207.0" y2="701.5" stroke="#000" stroke-width="1.9"/>
<line x1="207.0" y1="709.3" x2="207.0" y2="717.3" stroke="#000" stroke-width="1.9"/>
<line x1="207.0" y1="491.4" x2="207.0" y2="496.0" stroke="#000" stroke-width="1.9"/>
<line x1="243.8" y1="503.9" x2="243.8" y2="511.9" stroke="#000" stroke-width="1.9"/>
<line x1="243.8" y1="519.7" x2="243.8" y2="527.7" stroke="#000" stroke-width="1.9"/>
<line x1="243.8" y1="535.5" x2="243.8" y2="543.5" stroke="#000" stroke-width="1.9"/>
<line x1="243.8" y1="551.3" x2="243.8" y2="559.3" stroke="#000" stroke-width="1.9"/>
<line x1="243.8" y1="567.1" x2="243.8" y2="575.1" stroke="#000" stroke-width="1.9"/>
<line x1="243.8" y1="582.9" x2="243.8" y2="590.9" stroke="#000" stroke-width="1.9"/>
<line x1="243.8" y1="598.7" x2="243.8" y2="606.7" stroke="#000" stroke-width="1.9"/>
<line x1="243.8" y1="614.5" x2="243.8" y2="622.5" stroke="#000" stroke-width="1.9"/>
<line x1="243.8" y1="630.3" x2="243.8" y2="638.3" stroke="#000" stroke-width="1.9"/>
<line x1="243.8" y1="646.1" x2="243.8" y2="654.1" stroke="#000" stroke-width="1.9"/>
<line x1="243.8" y1="661.9" x2="243.8" y2="669.9" stroke="#000" stroke-width="1.9"/>
<line x1="243.8" y1="677.7" x2="243.8" y2="685.7" stroke="#000" stroke-width="1.9"/>
<line x1="243.8" y1="693.5" x2="243.8" y2="701.5" stroke="#000" stroke-width="1.9"/>
<line x1="243.8" y1="709.3" x2="243.8" y2="717.3" stroke="#000" stroke-width="1.9"/>
<line x1="243.8" y1="491.4" x2="243.8" y2="496.0" stroke="#000" stroke-width="1.9"/>
<line x1="133.3" y1="713.6" x2="133.3" y2="719.5" stroke="#000" stroke-width="1.9"/>
<line x1="170.2" y1="713.6" x2="170.2" y2="719.5" stroke="#000" stroke-width="1.9"/>
<line x1="207.0" y1="713.6" x2="207.0" y2="719.5" stroke="#000" stroke-width="1.9"/>
<line x1="243.8" y1="713.6" x2="243.8" y2="719.5" stroke="#000" stroke-width="1.9"/>
<text x="133.7" y="733.8" font-size="10.91" text-anchor="middle" textLength="13.6" lengthAdjust="spacingAndGlyphs" stroke="#231f20" stroke-width="0.22">50</text>
<text x="169.9" y="733.8" font-size="10.91" text-anchor="middle" textLength="20.8" lengthAdjust="spacingAndGlyphs" stroke="#231f20" stroke-width="0.22">100</text>
<text x="207.8" y="733.8" font-size="10.91" text-anchor="middle" textLength="20.8" lengthAdjust="spacingAndGlyphs" stroke="#231f20" stroke-width="0.22">150</text>
<text x="243.6" y="733.8" font-size="10.91" text-anchor="middle" textLength="20.8" lengthAdjust="spacingAndGlyphs" stroke="#231f20" stroke-width="0.22">200</text>
<text x="161.3" y="750.2" font-size="12.31" textLength="56.2" lengthAdjust="spacingAndGlyphs" stroke="#231f20" stroke-width="0.22">Time (ms)</text>
<text x="268.4" y="533.1" font-size="11.77" textLength="24.4" lengthAdjust="spacingAndGlyphs" stroke="#231f20" stroke-width="0.22">Bins</text>
<text x="305.0" y="535.0" font-size="11.77" textLength="57.1" lengthAdjust="spacingAndGlyphs" stroke="#231f20" stroke-width="0.22">[0, 10] ms</text>
<text x="396.5" y="535.0" font-size="11.77" textLength="72.9" lengthAdjust="spacingAndGlyphs" stroke="#231f20" stroke-width="0.22">[90, 100] ms</text>
<text x="496.0" y="535.0" font-size="11.77" textLength="78.6" lengthAdjust="spacingAndGlyphs" stroke="#231f20" stroke-width="0.22">[140, 150] ms</text>
<text x="598.5" y="535.3" font-size="11.77" textLength="79.8" lengthAdjust="spacingAndGlyphs" stroke="#231f20" stroke-width="0.22">[190, 200] ms</text>
<text x="280.4" y="656.5" font-size="12.84" textLength="91.0" lengthAdjust="spacingAndGlyphs" stroke="#231f20" stroke-width="0.22" transform="rotate(-90 280.4 656.5)">Mean firing rate</text>
<line x1="287.3" y1="544.1" x2="287.3" y2="684.7" stroke="#2e5e45" stroke-width="1.25"/>
<line x1="286.7" y1="684.1" x2="379.6" y2="684.1" stroke="#2e5e45" stroke-width="1.25"/>
<polyline points="299.9,666.8 331.5,666.6 370.4,665.0" fill="none" stroke="#d7df23" stroke-width="3.6" stroke-linejoin="round" stroke-linecap="butt"/>
<line x1="387.0" y1="544.0" x2="387.0" y2="684.2" stroke="#2e5e45" stroke-width="1.25"/>
<line x1="386.4" y1="683.6" x2="479.6" y2="683.6" stroke="#2e5e45" stroke-width="1.25"/>
<polyline points="399.4,611.0 433.0,594.4 471.0,589.6" fill="none" stroke="#8dc63f" stroke-width="3.6" stroke-linejoin="round" stroke-linecap="butt"/>
<line x1="489.4" y1="546.5" x2="489.4" y2="686.6" stroke="#2e5e45" stroke-width="1.25"/>
<line x1="488.8" y1="686.0" x2="582.4" y2="686.0" stroke="#2e5e45" stroke-width="1.25"/>
<polyline points="502.4,650.0 536.4,623.6 573.0,608.6" fill="none" stroke="#009444" stroke-width="3.6" stroke-linejoin="round" stroke-linecap="butt"/>
<line x1="592.0" y1="544.2" x2="592.0" y2="684.7" stroke="#2e5e45" stroke-width="1.25"/>
<line x1="591.4" y1="684.1" x2="686.0" y2="684.1" stroke="#2e5e45" stroke-width="1.25"/>
<polyline points="605.3,666.0 638.1,646.0 675.4,638.6" fill="none" stroke="#00391c" stroke-width="3.6" stroke-linejoin="round" stroke-linecap="butt"/>
<text x="306.0" y="697.8" font-size="10.91" text-anchor="middle" textLength="5.8" lengthAdjust="spacingAndGlyphs" stroke="#231f20" stroke-width="0.22">1</text>
<text x="336.0" y="697.8" font-size="10.91" text-anchor="middle" textLength="5.8" lengthAdjust="spacingAndGlyphs" stroke="#231f20" stroke-width="0.22">2</text>
<text x="366.3" y="697.8" font-size="10.91" text-anchor="middle" textLength="5.8" lengthAdjust="spacingAndGlyphs" stroke="#231f20" stroke-width="0.22">3</text>
<text x="333.4" y="715.6" font-size="12.84" text-anchor="middle" textLength="31.0" lengthAdjust="spacingAndGlyphs" stroke="#231f20" stroke-width="0.22">Block</text>
<text x="433.1" y="715.6" font-size="12.84" text-anchor="middle" textLength="31.0" lengthAdjust="spacingAndGlyphs" stroke="#231f20" stroke-width="0.22">Block</text>
<text x="536.0" y="715.6" font-size="12.84" text-anchor="middle" textLength="31.0" lengthAdjust="spacingAndGlyphs" stroke="#231f20" stroke-width="0.22">Block</text>
<text x="638.1" y="715.6" font-size="12.84" text-anchor="middle" textLength="31.0" lengthAdjust="spacingAndGlyphs" stroke="#231f20" stroke-width="0.22">Block</text>
<text x="2.6" y="785.6" font-size="19" fill="#000" textLength="12.4" lengthAdjust="spacingAndGlyphs" font-weight="bold" stroke="#000" stroke-width="0.9">c</text>
<text x="566.6" y="786.9" font-size="11.77" textLength="61.0" lengthAdjust="spacingAndGlyphs" stroke="#231f20" stroke-width="0.22">V4 (<tspan font-style="italic">n</tspan> = 24)</text>
<text x="569.2" y="1026.0" font-size="11.77" textLength="54.8" lengthAdjust="spacingAndGlyphs" stroke="#231f20" stroke-width="0.22">IT (<tspan font-style="italic">n</tspan> = 61)</text>
<text x="37.7" y="1025.8" font-size="12.84" textLength="101.4" lengthAdjust="spacingAndGlyphs" stroke="#231f20" stroke-width="0.22">Generation/block</text>
<text x="10.3" y="1096.6" font-size="12.84" textLength="180.4" lengthAdjust="spacingAndGlyphs" stroke="#231f20" stroke-width="0.22" transform="rotate(-90 10.3 1096.6)">Maximum normalized response</text>
<text x="59.0" y="805.4" font-size="11.77" textLength="56.6" lengthAdjust="spacingAndGlyphs" stroke="#231f20" stroke-width="0.22">[0, 10] ms</text>
<text x="159.6" y="805.4" font-size="11.77" textLength="46.0" lengthAdjust="spacingAndGlyphs" stroke="#231f20" stroke-width="0.22">[50, 60]</text>
<text x="252.0" y="805.4" font-size="11.77" textLength="44.6" lengthAdjust="spacingAndGlyphs" stroke="#231f20" stroke-width="0.22">[60, 70]</text>
<text x="338.0" y="805.4" font-size="11.77" textLength="51.0" lengthAdjust="spacingAndGlyphs" stroke="#231f20" stroke-width="0.22">[90, 100]</text>
<text x="428.0" y="805.4" font-size="11.77" textLength="54.0" lengthAdjust="spacingAndGlyphs" stroke="#231f20" stroke-width="0.22">[100, 110]</text>
<text x="520.0" y="805.4" font-size="11.77" textLength="55.4" lengthAdjust="spacingAndGlyphs" stroke="#231f20" stroke-width="0.22">[120, 130]</text>
<text x="611.5" y="805.4" font-size="11.77" textLength="59.6" lengthAdjust="spacingAndGlyphs" stroke="#231f20" stroke-width="0.22">[190, 200]</text>
<line x1="43.6" y1="804.8" x2="43.6" y2="983.9" stroke="#6a6a6a" stroke-width="1.1"/>
<line x1="39.9" y1="983.9" x2="43.6" y2="983.9" stroke="#6a6a6a" stroke-width="1.1"/>
<line x1="39.9" y1="960.0" x2="43.6" y2="960.0" stroke="#6a6a6a" stroke-width="1.1"/>
<line x1="39.9" y1="936.0" x2="43.6" y2="936.0" stroke="#6a6a6a" stroke-width="1.1"/>
<line x1="39.9" y1="912.1" x2="43.6" y2="912.1" stroke="#6a6a6a" stroke-width="1.1"/>
<line x1="39.9" y1="888.1" x2="43.6" y2="888.1" stroke="#6a6a6a" stroke-width="1.1"/>
<line x1="39.9" y1="864.2" x2="43.6" y2="864.2" stroke="#6a6a6a" stroke-width="1.1"/>
<line x1="39.9" y1="840.3" x2="43.6" y2="840.3" stroke="#6a6a6a" stroke-width="1.1"/>
<line x1="39.9" y1="816.3" x2="43.6" y2="816.3" stroke="#6a6a6a" stroke-width="1.1"/>
<line x1="39.9" y1="983.9" x2="124.2" y2="983.9" stroke="#6a6a6a" stroke-width="1.1"/>
<line x1="44.5" y1="983.9" x2="44.5" y2="987.5" stroke="#6a6a6a" stroke-width="1.1"/>
<line x1="62.0" y1="983.9" x2="62.0" y2="987.5" stroke="#6a6a6a" stroke-width="1.1"/>
<line x1="79.5" y1="983.9" x2="79.5" y2="987.5" stroke="#6a6a6a" stroke-width="1.1"/>
<line x1="97.0" y1="983.9" x2="97.0" y2="987.5" stroke="#6a6a6a" stroke-width="1.1"/>
<line x1="114.5" y1="983.9" x2="114.5" y2="987.5" stroke="#6a6a6a" stroke-width="1.1"/>
<text x="34.2" y="987.7" font-size="10.27" text-anchor="end" textLength="6.5" lengthAdjust="spacingAndGlyphs" stroke="#231f20" stroke-width="0.22">0</text>
<text x="34.2" y="939.8" font-size="10.27" text-anchor="end" textLength="16.2" lengthAdjust="spacingAndGlyphs" stroke="#231f20" stroke-width="0.22">0.4</text>
<text x="34.2" y="891.9" font-size="10.27" text-anchor="end" textLength="16.2" lengthAdjust="spacingAndGlyphs" stroke="#231f20" stroke-width="0.22">0.8</text>
<text x="34.2" y="844.1" font-size="10.27" text-anchor="end" textLength="13.2" lengthAdjust="spacingAndGlyphs" stroke="#231f20" stroke-width="0.22">1.2</text>
<text x="44.5" y="1001.7" font-size="10.7" text-anchor="middle" textLength="6.8" lengthAdjust="spacingAndGlyphs" stroke="#231f20" stroke-width="0.22">0</text>
<text x="79.5" y="1001.7" font-size="10.7" text-anchor="middle" textLength="13.2" lengthAdjust="spacingAndGlyphs" stroke="#231f20" stroke-width="0.22">20</text>
<text x="114.5" y="1001.7" font-size="10.7" text-anchor="middle" textLength="13.2" lengthAdjust="spacingAndGlyphs" stroke="#231f20" stroke-width="0.22">40</text>
<line x1="140.0" y1="804.8" x2="140.0" y2="983.9" stroke="#6a6a6a" stroke-width="1.1"/>
<line x1="136.3" y1="983.9" x2="140.0" y2="983.9" stroke="#6a6a6a" stroke-width="1.1"/>
<line x1="136.3" y1="960.0" x2="140.0" y2="960.0" stroke="#6a6a6a" stroke-width="1.1"/>
<line x1="136.3" y1="936.0" x2="140.0" y2="936.0" stroke="#6a6a6a" stroke-width="1.1"/>
<line x1="136.3" y1="912.1" x2="140.0" y2="912.1" stroke="#6a6a6a" stroke-width="1.1"/>
<line x1="136.3" y1="888.1" x2="140.0" y2="888.1" stroke="#6a6a6a" stroke-width="1.1"/>
<line x1="136.3" y1="864.2" x2="140.0" y2="864.2" stroke="#6a6a6a" stroke-width="1.1"/>
<line x1="136.3" y1="840.3" x2="140.0" y2="840.3" stroke="#6a6a6a" stroke-width="1.1"/>
<line x1="136.3" y1="816.3" x2="140.0" y2="816.3" stroke="#6a6a6a" stroke-width="1.1"/>
<line x1="136.3" y1="983.9" x2="220.6" y2="983.9" stroke="#6a6a6a" stroke-width="1.1"/>
<line x1="140.9" y1="983.9" x2="140.9" y2="987.5" stroke="#6a6a6a" stroke-width="1.1"/>
<line x1="158.4" y1="983.9" x2="158.4" y2="987.5" stroke="#6a6a6a" stroke-width="1.1"/>
<line x1="175.9" y1="983.9" x2="175.9" y2="987.5" stroke="#6a6a6a" stroke-width="1.1"/>
<line x1="193.4" y1="983.9" x2="193.4" y2="987.5" stroke="#6a6a6a" stroke-width="1.1"/>
<line x1="210.9" y1="983.9" x2="210.9" y2="987.5" stroke="#6a6a6a" stroke-width="1.1"/>
<line x1="230.0" y1="804.8" x2="230.0" y2="983.9" stroke="#6a6a6a" stroke-width="1.1"/>
<line x1="226.3" y1="983.9" x2="230.0" y2="983.9" stroke="#6a6a6a" stroke-width="1.1"/>
<line x1="226.3" y1="960.0" x2="230.0" y2="960.0" stroke="#6a6a6a" stroke-width="1.1"/>
<line x1="226.3" y1="936.0" x2="230.0" y2="936.0" stroke="#6a6a6a" stroke-width="1.1"/>
<line x1="226.3" y1="912.1" x2="230.0" y2="912.1" stroke="#6a6a6a" stroke-width="1.1"/>
<line x1="226.3" y1="888.1" x2="230.0" y2="888.1" stroke="#6a6a6a" stroke-width="1.1"/>
<line x1="226.3" y1="864.2" x2="230.0" y2="864.2" stroke="#6a6a6a" stroke-width="1.1"/>
<line x1="226.3" y1="840.3" x2="230.0" y2="840.3" stroke="#6a6a6a" stroke-width="1.1"/>
<line x1="226.3" y1="816.3" x2="230.0" y2="816.3" stroke="#6a6a6a" stroke-width="1.1"/>
<line x1="226.3" y1="983.9" x2="310.6" y2="983.9" stroke="#6a6a6a" stroke-width="1.1"/>
<line x1="230.9" y1="983.9" x2="230.9" y2="987.5" stroke="#6a6a6a" stroke-width="1.1"/>
<line x1="248.4" y1="983.9" x2="248.4" y2="987.5" stroke="#6a6a6a" stroke-width="1.1"/>
<line x1="265.9" y1="983.9" x2="265.9" y2="987.5" stroke="#6a6a6a" stroke-width="1.1"/>
<line x1="283.4" y1="983.9" x2="283.4" y2="987.5" stroke="#6a6a6a" stroke-width="1.1"/>
<line x1="300.9" y1="983.9" x2="300.9" y2="987.5" stroke="#6a6a6a" stroke-width="1.1"/>
<line x1="322.0" y1="804.8" x2="322.0" y2="983.9" stroke="#6a6a6a" stroke-width="1.1"/>
<line x1="318.3" y1="983.9" x2="322.0" y2="983.9" stroke="#6a6a6a" stroke-width="1.1"/>
<line x1="318.3" y1="960.0" x2="322.0" y2="960.0" stroke="#6a6a6a" stroke-width="1.1"/>
<line x1="318.3" y1="936.0" x2="322.0" y2="936.0" stroke="#6a6a6a" stroke-width="1.1"/>
<line x1="318.3" y1="912.1" x2="322.0" y2="912.1" stroke="#6a6a6a" stroke-width="1.1"/>
<line x1="318.3" y1="888.1" x2="322.0" y2="888.1" stroke="#6a6a6a" stroke-width="1.1"/>
<line x1="318.3" y1="864.2" x2="322.0" y2="864.2" stroke="#6a6a6a" stroke-width="1.1"/>
<line x1="318.3" y1="840.3" x2="322.0" y2="840.3" stroke="#6a6a6a" stroke-width="1.1"/>
<line x1="318.3" y1="816.3" x2="322.0" y2="816.3" stroke="#6a6a6a" stroke-width="1.1"/>
<line x1="318.3" y1="983.9" x2="402.6" y2="983.9" stroke="#6a6a6a" stroke-width="1.1"/>
<line x1="322.9" y1="983.9" x2="322.9" y2="987.5" stroke="#6a6a6a" stroke-width="1.1"/>
<line x1="340.4" y1="983.9" x2="340.4" y2="987.5" stroke="#6a6a6a" stroke-width="1.1"/>
<line x1="357.9" y1="983.9" x2="357.9" y2="987.5" stroke="#6a6a6a" stroke-width="1.1"/>
<line x1="375.4" y1="983.9" x2="375.4" y2="987.5" stroke="#6a6a6a" stroke-width="1.1"/>
<line x1="392.9" y1="983.9" x2="392.9" y2="987.5" stroke="#6a6a6a" stroke-width="1.1"/>
<line x1="413.6" y1="804.8" x2="413.6" y2="983.9" stroke="#6a6a6a" stroke-width="1.1"/>
<line x1="409.9" y1="983.9" x2="413.6" y2="983.9" stroke="#6a6a6a" stroke-width="1.1"/>
<line x1="409.9" y1="960.0" x2="413.6" y2="960.0" stroke="#6a6a6a" stroke-width="1.1"/>
<line x1="409.9" y1="936.0" x2="413.6" y2="936.0" stroke="#6a6a6a" stroke-width="1.1"/>
<line x1="409.9" y1="912.1" x2="413.6" y2="912.1" stroke="#6a6a6a" stroke-width="1.1"/>
<line x1="409.9" y1="888.1" x2="413.6" y2="888.1" stroke="#6a6a6a" stroke-width="1.1"/>
<line x1="409.9" y1="864.2" x2="413.6" y2="864.2" stroke="#6a6a6a" stroke-width="1.1"/>
<line x1="409.9" y1="840.3" x2="413.6" y2="840.3" stroke="#6a6a6a" stroke-width="1.1"/>
<line x1="409.9" y1="816.3" x2="413.6" y2="816.3" stroke="#6a6a6a" stroke-width="1.1"/>
<line x1="409.9" y1="983.9" x2="494.2" y2="983.9" stroke="#6a6a6a" stroke-width="1.1"/>
<line x1="414.5" y1="983.9" x2="414.5" y2="987.5" stroke="#6a6a6a" stroke-width="1.1"/>
<line x1="432.0" y1="983.9" x2="432.0" y2="987.5" stroke="#6a6a6a" stroke-width="1.1"/>
<line x1="449.5" y1="983.9" x2="449.5" y2="987.5" stroke="#6a6a6a" stroke-width="1.1"/>
<line x1="467.0" y1="983.9" x2="467.0" y2="987.5" stroke="#6a6a6a" stroke-width="1.1"/>
<line x1="484.5" y1="983.9" x2="484.5" y2="987.5" stroke="#6a6a6a" stroke-width="1.1"/>
<line x1="505.4" y1="804.8" x2="505.4" y2="983.9" stroke="#6a6a6a" stroke-width="1.1"/>
<line x1="501.7" y1="983.9" x2="505.4" y2="983.9" stroke="#6a6a6a" stroke-width="1.1"/>
<line x1="501.7" y1="960.0" x2="505.4" y2="960.0" stroke="#6a6a6a" stroke-width="1.1"/>
<line x1="501.7" y1="936.0" x2="505.4" y2="936.0" stroke="#6a6a6a" stroke-width="1.1"/>
<line x1="501.7" y1="912.1" x2="505.4" y2="912.1" stroke="#6a6a6a" stroke-width="1.1"/>
<line x1="501.7" y1="888.1" x2="505.4" y2="888.1" stroke="#6a6a6a" stroke-width="1.1"/>
<line x1="501.7" y1="864.2" x2="505.4" y2="864.2" stroke="#6a6a6a" stroke-width="1.1"/>
<line x1="501.7" y1="840.3" x2="505.4" y2="840.3" stroke="#6a6a6a" stroke-width="1.1"/>
<line x1="501.7" y1="816.3" x2="505.4" y2="816.3" stroke="#6a6a6a" stroke-width="1.1"/>
<line x1="501.7" y1="983.9" x2="586.0" y2="983.9" stroke="#6a6a6a" stroke-width="1.1"/>
<line x1="506.3" y1="983.9" x2="506.3" y2="987.5" stroke="#6a6a6a" stroke-width="1.1"/>
<line x1="523.8" y1="983.9" x2="523.8" y2="987.5" stroke="#6a6a6a" stroke-width="1.1"/>
<line x1="541.3" y1="983.9" x2="541.3" y2="987.5" stroke="#6a6a6a" stroke-width="1.1"/>
<line x1="558.8" y1="983.9" x2="558.8" y2="987.5" stroke="#6a6a6a" stroke-width="1.1"/>
<line x1="576.3" y1="983.9" x2="576.3" y2="987.5" stroke="#6a6a6a" stroke-width="1.1"/>
<line x1="600.0" y1="804.8" x2="600.0" y2="983.9" stroke="#6a6a6a" stroke-width="1.1"/>
<line x1="596.3" y1="983.9" x2="600.0" y2="983.9" stroke="#6a6a6a" stroke-width="1.1"/>
<line x1="596.3" y1="960.0" x2="600.0" y2="960.0" stroke="#6a6a6a" stroke-width="1.1"/>
<line x1="596.3" y1="936.0" x2="600.0" y2="936.0" stroke="#6a6a6a" stroke-width="1.1"/>
<line x1="596.3" y1="912.1" x2="600.0" y2="912.1" stroke="#6a6a6a" stroke-width="1.1"/>
<line x1="596.3" y1="888.1" x2="600.0" y2="888.1" stroke="#6a6a6a" stroke-width="1.1"/>
<line x1="596.3" y1="864.2" x2="600.0" y2="864.2" stroke="#6a6a6a" stroke-width="1.1"/>
<line x1="596.3" y1="840.3" x2="600.0" y2="840.3" stroke="#6a6a6a" stroke-width="1.1"/>
<line x1="596.3" y1="816.3" x2="600.0" y2="816.3" stroke="#6a6a6a" stroke-width="1.1"/>
<line x1="596.3" y1="983.9" x2="680.6" y2="983.9" stroke="#6a6a6a" stroke-width="1.1"/>
<line x1="600.9" y1="983.9" x2="600.9" y2="987.5" stroke="#6a6a6a" stroke-width="1.1"/>
<line x1="618.4" y1="983.9" x2="618.4" y2="987.5" stroke="#6a6a6a" stroke-width="1.1"/>
<line x1="635.9" y1="983.9" x2="635.9" y2="987.5" stroke="#6a6a6a" stroke-width="1.1"/>
<line x1="653.4" y1="983.9" x2="653.4" y2="987.5" stroke="#6a6a6a" stroke-width="1.1"/>
<line x1="670.9" y1="983.9" x2="670.9" y2="987.5" stroke="#6a6a6a" stroke-width="1.1"/>
<line x1="43.6" y1="1031.3" x2="43.6" y2="1210.3" stroke="#6a6a6a" stroke-width="1.1"/>
<line x1="39.9" y1="1210.3" x2="43.6" y2="1210.3" stroke="#6a6a6a" stroke-width="1.1"/>
<line x1="39.9" y1="1186.4" x2="43.6" y2="1186.4" stroke="#6a6a6a" stroke-width="1.1"/>
<line x1="39.9" y1="1162.5" x2="43.6" y2="1162.5" stroke="#6a6a6a" stroke-width="1.1"/>
<line x1="39.9" y1="1138.5" x2="43.6" y2="1138.5" stroke="#6a6a6a" stroke-width="1.1"/>
<line x1="39.9" y1="1114.6" x2="43.6" y2="1114.6" stroke="#6a6a6a" stroke-width="1.1"/>
<line x1="39.9" y1="1090.7" x2="43.6" y2="1090.7" stroke="#6a6a6a" stroke-width="1.1"/>
<line x1="39.9" y1="1066.8" x2="43.6" y2="1066.8" stroke="#6a6a6a" stroke-width="1.1"/>
<line x1="39.9" y1="1042.9" x2="43.6" y2="1042.9" stroke="#6a6a6a" stroke-width="1.1"/>
<line x1="39.9" y1="1210.3" x2="124.2" y2="1210.3" stroke="#6a6a6a" stroke-width="1.1"/>
<line x1="44.5" y1="1210.3" x2="44.5" y2="1213.9" stroke="#6a6a6a" stroke-width="1.1"/>
<line x1="62.0" y1="1210.3" x2="62.0" y2="1213.9" stroke="#6a6a6a" stroke-width="1.1"/>
<line x1="79.5" y1="1210.3" x2="79.5" y2="1213.9" stroke="#6a6a6a" stroke-width="1.1"/>
<line x1="97.0" y1="1210.3" x2="97.0" y2="1213.9" stroke="#6a6a6a" stroke-width="1.1"/>
<line x1="114.5" y1="1210.3" x2="114.5" y2="1213.9" stroke="#6a6a6a" stroke-width="1.1"/>
<text x="35.5" y="1213.9" font-size="9.63" text-anchor="end" textLength="5.6" lengthAdjust="spacingAndGlyphs" stroke="#231f20" stroke-width="0.22">0</text>
<text x="35.5" y="1166.1" font-size="9.63" text-anchor="end" textLength="15.4" lengthAdjust="spacingAndGlyphs" stroke="#231f20" stroke-width="0.22">0.4</text>
<text x="35.5" y="1118.2" font-size="9.63" text-anchor="end" textLength="15.4" lengthAdjust="spacingAndGlyphs" stroke="#231f20" stroke-width="0.22">0.8</text>
<text x="35.5" y="1070.4" font-size="9.63" text-anchor="end" textLength="12.7" lengthAdjust="spacingAndGlyphs" stroke="#231f20" stroke-width="0.22">1.2</text>
<text x="44.5" y="1228.1" font-size="10.7" text-anchor="middle" textLength="6.8" lengthAdjust="spacingAndGlyphs" stroke="#231f20" stroke-width="0.22">0</text>
<text x="79.5" y="1228.1" font-size="10.7" text-anchor="middle" textLength="13.2" lengthAdjust="spacingAndGlyphs" stroke="#231f20" stroke-width="0.22">20</text>
<text x="114.5" y="1228.1" font-size="10.7" text-anchor="middle" textLength="13.2" lengthAdjust="spacingAndGlyphs" stroke="#231f20" stroke-width="0.22">40</text>
<line x1="140.0" y1="1031.3" x2="140.0" y2="1210.3" stroke="#6a6a6a" stroke-width="1.1"/>
<line x1="136.3" y1="1210.3" x2="140.0" y2="1210.3" stroke="#6a6a6a" stroke-width="1.1"/>
<line x1="136.3" y1="1186.4" x2="140.0" y2="1186.4" stroke="#6a6a6a" stroke-width="1.1"/>
<line x1="136.3" y1="1162.5" x2="140.0" y2="1162.5" stroke="#6a6a6a" stroke-width="1.1"/>
<line x1="136.3" y1="1138.5" x2="140.0" y2="1138.5" stroke="#6a6a6a" stroke-width="1.1"/>
<line x1="136.3" y1="1114.6" x2="140.0" y2="1114.6" stroke="#6a6a6a" stroke-width="1.1"/>
<line x1="136.3" y1="1090.7" x2="140.0" y2="1090.7" stroke="#6a6a6a" stroke-width="1.1"/>
<line x1="136.3" y1="1066.8" x2="140.0" y2="1066.8" stroke="#6a6a6a" stroke-width="1.1"/>
<line x1="136.3" y1="1042.9" x2="140.0" y2="1042.9" stroke="#6a6a6a" stroke-width="1.1"/>
<line x1="136.3" y1="1210.3" x2="220.6" y2="1210.3" stroke="#6a6a6a" stroke-width="1.1"/>
<line x1="140.9" y1="1210.3" x2="140.9" y2="1213.9" stroke="#6a6a6a" stroke-width="1.1"/>
<line x1="158.4" y1="1210.3" x2="158.4" y2="1213.9" stroke="#6a6a6a" stroke-width="1.1"/>
<line x1="175.9" y1="1210.3" x2="175.9" y2="1213.9" stroke="#6a6a6a" stroke-width="1.1"/>
<line x1="193.4" y1="1210.3" x2="193.4" y2="1213.9" stroke="#6a6a6a" stroke-width="1.1"/>
<line x1="210.9" y1="1210.3" x2="210.9" y2="1213.9" stroke="#6a6a6a" stroke-width="1.1"/>
<line x1="230.0" y1="1031.3" x2="230.0" y2="1210.3" stroke="#6a6a6a" stroke-width="1.1"/>
<line x1="226.3" y1="1210.3" x2="230.0" y2="1210.3" stroke="#6a6a6a" stroke-width="1.1"/>
<line x1="226.3" y1="1186.4" x2="230.0" y2="1186.4" stroke="#6a6a6a" stroke-width="1.1"/>
<line x1="226.3" y1="1162.5" x2="230.0" y2="1162.5" stroke="#6a6a6a" stroke-width="1.1"/>
<line x1="226.3" y1="1138.5" x2="230.0" y2="1138.5" stroke="#6a6a6a" stroke-width="1.1"/>
<line x1="226.3" y1="1114.6" x2="230.0" y2="1114.6" stroke="#6a6a6a" stroke-width="1.1"/>
<line x1="226.3" y1="1090.7" x2="230.0" y2="1090.7" stroke="#6a6a6a" stroke-width="1.1"/>
<line x1="226.3" y1="1066.8" x2="230.0" y2="1066.8" stroke="#6a6a6a" stroke-width="1.1"/>
<line x1="226.3" y1="1042.9" x2="230.0" y2="1042.9" stroke="#6a6a6a" stroke-width="1.1"/>
<line x1="226.3" y1="1210.3" x2="310.6" y2="1210.3" stroke="#6a6a6a" stroke-width="1.1"/>
<line x1="230.9" y1="1210.3" x2="230.9" y2="1213.9" stroke="#6a6a6a" stroke-width="1.1"/>
<line x1="248.4" y1="1210.3" x2="248.4" y2="1213.9" stroke="#6a6a6a" stroke-width="1.1"/>
<line x1="265.9" y1="1210.3" x2="265.9" y2="1213.9" stroke="#6a6a6a" stroke-width="1.1"/>
<line x1="283.4" y1="1210.3" x2="283.4" y2="1213.9" stroke="#6a6a6a" stroke-width="1.1"/>
<line x1="300.9" y1="1210.3" x2="300.9" y2="1213.9" stroke="#6a6a6a" stroke-width="1.1"/>
<line x1="322.0" y1="1031.3" x2="322.0" y2="1210.3" stroke="#6a6a6a" stroke-width="1.1"/>
<line x1="318.3" y1="1210.3" x2="322.0" y2="1210.3" stroke="#6a6a6a" stroke-width="1.1"/>
<line x1="318.3" y1="1186.4" x2="322.0" y2="1186.4" stroke="#6a6a6a" stroke-width="1.1"/>
<line x1="318.3" y1="1162.5" x2="322.0" y2="1162.5" stroke="#6a6a6a" stroke-width="1.1"/>
<line x1="318.3" y1="1138.5" x2="322.0" y2="1138.5" stroke="#6a6a6a" stroke-width="1.1"/>
<line x1="318.3" y1="1114.6" x2="322.0" y2="1114.6" stroke="#6a6a6a" stroke-width="1.1"/>
<line x1="318.3" y1="1090.7" x2="322.0" y2="1090.7" stroke="#6a6a6a" stroke-width="1.1"/>
<line x1="318.3" y1="1066.8" x2="322.0" y2="1066.8" stroke="#6a6a6a" stroke-width="1.1"/>
<line x1="318.3" y1="1042.9" x2="322.0" y2="1042.9" stroke="#6a6a6a" stroke-width="1.1"/>
<line x1="318.3" y1="1210.3" x2="402.6" y2="1210.3" stroke="#6a6a6a" stroke-width="1.1"/>
<line x1="322.9" y1="1210.3" x2="322.9" y2="1213.9" stroke="#6a6a6a" stroke-width="1.1"/>
<line x1="340.4" y1="1210.3" x2="340.4" y2="1213.9" stroke="#6a6a6a" stroke-width="1.1"/>
<line x1="357.9" y1="1210.3" x2="357.9" y2="1213.9" stroke="#6a6a6a" stroke-width="1.1"/>
<line x1="375.4" y1="1210.3" x2="375.4" y2="1213.9" stroke="#6a6a6a" stroke-width="1.1"/>
<line x1="392.9" y1="1210.3" x2="392.9" y2="1213.9" stroke="#6a6a6a" stroke-width="1.1"/>
<line x1="413.6" y1="1031.3" x2="413.6" y2="1210.3" stroke="#6a6a6a" stroke-width="1.1"/>
<line x1="409.9" y1="1210.3" x2="413.6" y2="1210.3" stroke="#6a6a6a" stroke-width="1.1"/>
<line x1="409.9" y1="1186.4" x2="413.6" y2="1186.4" stroke="#6a6a6a" stroke-width="1.1"/>
<line x1="409.9" y1="1162.5" x2="413.6" y2="1162.5" stroke="#6a6a6a" stroke-width="1.1"/>
<line x1="409.9" y1="1138.5" x2="413.6" y2="1138.5" stroke="#6a6a6a" stroke-width="1.1"/>
<line x1="409.9" y1="1114.6" x2="413.6" y2="1114.6" stroke="#6a6a6a" stroke-width="1.1"/>
<line x1="409.9" y1="1090.7" x2="413.6" y2="1090.7" stroke="#6a6a6a" stroke-width="1.1"/>
<line x1="409.9" y1="1066.8" x2="413.6" y2="1066.8" stroke="#6a6a6a" stroke-width="1.1"/>
<line x1="409.9" y1="1042.9" x2="413.6" y2="1042.9" stroke="#6a6a6a" stroke-width="1.1"/>
<line x1="409.9" y1="1210.3" x2="494.2" y2="1210.3" stroke="#6a6a6a" stroke-width="1.1"/>
<line x1="414.5" y1="1210.3" x2="414.5" y2="1213.9" stroke="#6a6a6a" stroke-width="1.1"/>
<line x1="432.0" y1="1210.3" x2="432.0" y2="1213.9" stroke="#6a6a6a" stroke-width="1.1"/>
<line x1="449.5" y1="1210.3" x2="449.5" y2="1213.9" stroke="#6a6a6a" stroke-width="1.1"/>
<line x1="467.0" y1="1210.3" x2="467.0" y2="1213.9" stroke="#6a6a6a" stroke-width="1.1"/>
<line x1="484.5" y1="1210.3" x2="484.5" y2="1213.9" stroke="#6a6a6a" stroke-width="1.1"/>
<line x1="506.4" y1="1031.3" x2="506.4" y2="1210.3" stroke="#6a6a6a" stroke-width="1.1"/>
<line x1="502.7" y1="1210.3" x2="506.4" y2="1210.3" stroke="#6a6a6a" stroke-width="1.1"/>
<line x1="502.7" y1="1186.4" x2="506.4" y2="1186.4" stroke="#6a6a6a" stroke-width="1.1"/>
<line x1="502.7" y1="1162.5" x2="506.4" y2="1162.5" stroke="#6a6a6a" stroke-width="1.1"/>
<line x1="502.7" y1="1138.5" x2="506.4" y2="1138.5" stroke="#6a6a6a" stroke-width="1.1"/>
<line x1="502.7" y1="1114.6" x2="506.4" y2="1114.6" stroke="#6a6a6a" stroke-width="1.1"/>
<line x1="502.7" y1="1090.7" x2="506.4" y2="1090.7" stroke="#6a6a6a" stroke-width="1.1"/>
<line x1="502.7" y1="1066.8" x2="506.4" y2="1066.8" stroke="#6a6a6a" stroke-width="1.1"/>
<line x1="502.7" y1="1042.9" x2="506.4" y2="1042.9" stroke="#6a6a6a" stroke-width="1.1"/>
<line x1="502.7" y1="1210.3" x2="587.0" y2="1210.3" stroke="#6a6a6a" stroke-width="1.1"/>
<line x1="507.3" y1="1210.3" x2="507.3" y2="1213.9" stroke="#6a6a6a" stroke-width="1.1"/>
<line x1="524.8" y1="1210.3" x2="524.8" y2="1213.9" stroke="#6a6a6a" stroke-width="1.1"/>
<line x1="542.3" y1="1210.3" x2="542.3" y2="1213.9" stroke="#6a6a6a" stroke-width="1.1"/>
<line x1="559.8" y1="1210.3" x2="559.8" y2="1213.9" stroke="#6a6a6a" stroke-width="1.1"/>
<line x1="577.3" y1="1210.3" x2="577.3" y2="1213.9" stroke="#6a6a6a" stroke-width="1.1"/>
<line x1="600.7" y1="1031.3" x2="600.7" y2="1210.3" stroke="#6a6a6a" stroke-width="1.1"/>
<line x1="597.0" y1="1210.3" x2="600.7" y2="1210.3" stroke="#6a6a6a" stroke-width="1.1"/>
<line x1="597.0" y1="1186.4" x2="600.7" y2="1186.4" stroke="#6a6a6a" stroke-width="1.1"/>
<line x1="597.0" y1="1162.5" x2="600.7" y2="1162.5" stroke="#6a6a6a" stroke-width="1.1"/>
<line x1="597.0" y1="1138.5" x2="600.7" y2="1138.5" stroke="#6a6a6a" stroke-width="1.1"/>
<line x1="597.0" y1="1114.6" x2="600.7" y2="1114.6" stroke="#6a6a6a" stroke-width="1.1"/>
<line x1="597.0" y1="1090.7" x2="600.7" y2="1090.7" stroke="#6a6a6a" stroke-width="1.1"/>
<line x1="597.0" y1="1066.8" x2="600.7" y2="1066.8" stroke="#6a6a6a" stroke-width="1.1"/>
<line x1="597.0" y1="1042.9" x2="600.7" y2="1042.9" stroke="#6a6a6a" stroke-width="1.1"/>
<line x1="597.0" y1="1210.3" x2="681.3" y2="1210.3" stroke="#6a6a6a" stroke-width="1.1"/>
<line x1="601.6" y1="1210.3" x2="601.6" y2="1213.9" stroke="#6a6a6a" stroke-width="1.1"/>
<line x1="619.1" y1="1210.3" x2="619.1" y2="1213.9" stroke="#6a6a6a" stroke-width="1.1"/>
<line x1="636.6" y1="1210.3" x2="636.6" y2="1213.9" stroke="#6a6a6a" stroke-width="1.1"/>
<line x1="654.1" y1="1210.3" x2="654.1" y2="1213.9" stroke="#6a6a6a" stroke-width="1.1"/>
<line x1="671.6" y1="1210.3" x2="671.6" y2="1213.9" stroke="#6a6a6a" stroke-width="1.1"/>
<line x1="142.0" y1="822.4" x2="145.0" y2="822.4" stroke="#1a1aff" stroke-width="2.7"/>
<line x1="149.0" y1="822.4" x2="151.6" y2="822.4" stroke="#1a1aff" stroke-width="2.7"/>
<line x1="154.0" y1="822.4" x2="171.0" y2="822.4" stroke="#1a1aff" stroke-width="2.7"/>
<line x1="173.0" y1="822.4" x2="220.0" y2="822.4" stroke="#1a1aff" stroke-width="2.7"/>
<line x1="232.0" y1="822.4" x2="310.6" y2="822.4" stroke="#1a1aff" stroke-width="2.7"/>
<line x1="325.0" y1="822.4" x2="336.6" y2="822.4" stroke="#1a1aff" stroke-width="2.7"/>
<line x1="339.5" y1="822.4" x2="341.5" y2="822.4" stroke="#1a1aff" stroke-width="2.7"/>
<line x1="343.0" y1="822.4" x2="402.0" y2="822.4" stroke="#1a1aff" stroke-width="2.7"/>
<line x1="321.5" y1="822.4" x2="323.5" y2="822.4" stroke="#ff1a1a" stroke-width="2.7"/>
<line x1="416.5" y1="822.4" x2="418.8" y2="822.4" stroke="#1a1aff" stroke-width="2.7"/>
<line x1="420.2" y1="822.4" x2="422.4" y2="822.4" stroke="#1a1aff" stroke-width="2.7"/>
<line x1="424.0" y1="822.4" x2="494.0" y2="822.4" stroke="#1a1aff" stroke-width="2.7"/>
<line x1="148.5" y1="1049.4" x2="150.6" y2="1049.4" stroke="#1a1aff" stroke-width="2.7"/>
<line x1="152.3" y1="1049.4" x2="154.4" y2="1049.4" stroke="#1a1aff" stroke-width="2.7"/>
<line x1="170.0" y1="1049.4" x2="174.4" y2="1049.4" stroke="#1a1aff" stroke-width="2.7"/>
<line x1="187.6" y1="1049.4" x2="190.0" y2="1049.4" stroke="#1a1aff" stroke-width="2.7"/>
<line x1="194.2" y1="1049.4" x2="196.2" y2="1049.4" stroke="#1a1aff" stroke-width="2.7"/>
<line x1="201.4" y1="1049.4" x2="204.4" y2="1049.4" stroke="#1a1aff" stroke-width="2.7"/>
<line x1="206.8" y1="1049.4" x2="208.8" y2="1049.4" stroke="#1a1aff" stroke-width="2.7"/>
<line x1="210.4" y1="1049.4" x2="220.0" y2="1049.4" stroke="#1a1aff" stroke-width="2.7"/>
<line x1="237.0" y1="1049.4" x2="239.2" y2="1049.4" stroke="#1a1aff" stroke-width="2.7"/>
<line x1="242.6" y1="1049.4" x2="310.0" y2="1049.4" stroke="#1a1aff" stroke-width="2.7"/>
<line x1="506.8" y1="1049.4" x2="525.0" y2="1049.4" stroke="#ff1a1a" stroke-width="2.7"/>
<line x1="527.5" y1="1049.4" x2="529.6" y2="1049.4" stroke="#ff1a1a" stroke-width="2.7"/>
<line x1="601.2" y1="1049.4" x2="643.4" y2="1049.4" stroke="#ff1a1a" stroke-width="2.7"/>
<line x1="645.5" y1="1049.4" x2="647.5" y2="1049.4" stroke="#ff1a1a" stroke-width="2.7"/>
<line x1="650.3" y1="1049.4" x2="653.1" y2="1049.4" stroke="#ff1a1a" stroke-width="2.7"/>
<line x1="656.8" y1="1049.4" x2="658.9" y2="1049.4" stroke="#ff1a1a" stroke-width="2.7"/>
<line x1="660.2" y1="1049.4" x2="662.2" y2="1049.4" stroke="#ff1a1a" stroke-width="2.7"/>
<line x1="664.8" y1="1049.4" x2="680.9" y2="1049.4" stroke="#ff1a1a" stroke-width="2.7"/>
<circle cx="146.2" cy="851.2" r="5.1" fill="#000"/>
<text x="156.6" y="857.4" font-size="12.31" textLength="46.6" lengthAdjust="spacingAndGlyphs" stroke="#231f20" stroke-width="0.22"><tspan font-style="italic">P</tspan> &lt; 0.05</text>
<text x="156.1" y="884.7" font-size="12.31" textLength="30.3" lengthAdjust="spacingAndGlyphs" stroke="#231f20" stroke-width="0.22">(FDR)</text>
<text x="53.6" y="882.7" font-size="12.31" fill="#ff1f1f" textLength="44.0" lengthAdjust="spacingAndGlyphs" stroke="#ff1f1f" stroke-width="0.22">Objects</text>
<text x="54.1" y="895.8" font-size="12.31" fill="#1f1fff" textLength="47.9" lengthAdjust="spacingAndGlyphs" stroke="#1f1fff" stroke-width="0.22">Textures</text>
<polygon points="44.5,954.7 46.2,954.2 48.0,954.5 49.8,952.7 51.5,954.3 53.2,955.0 55.0,954.1 56.8,953.6 58.5,952.0 60.2,953.6 62.0,952.3 63.8,953.0 65.5,954.5 67.2,955.1 69.0,951.9 70.8,953.3 72.5,954.6 74.2,956.3 76.0,956.0 77.8,949.6 79.5,951.3 81.2,953.2 83.0,956.2 84.8,952.6 86.5,954.3 88.2,953.9 90.0,954.8 91.8,956.4 93.5,953.1 95.2,949.5 97.0,949.0 98.8,949.4 100.5,953.5 102.2,951.8 104.0,952.2 105.8,952.6 107.5,954.7 109.2,953.1 111.0,952.5 112.8,953.9 114.5,953.3 116.2,953.4 118.0,954.3 119.8,956.2 121.5,953.9 123.2,953.9 123.2,967.3 121.5,965.0 119.8,966.6 118.0,966.3 116.2,964.6 114.5,966.0 112.8,966.9 111.0,965.1 109.2,966.9 107.5,968.0 105.8,966.2 104.0,965.8 102.2,966.2 100.5,967.5 98.8,960.3 97.0,961.6 95.2,962.5 93.5,965.4 91.8,968.3 90.0,964.9 88.2,964.8 86.5,964.6 84.8,966.3 83.0,968.7 81.2,966.1 79.5,963.3 77.8,959.9 76.0,966.9 74.2,967.2 72.5,967.0 70.8,966.7 69.0,963.9 67.2,966.8 65.5,967.1 63.8,964.4 62.0,964.5 60.2,965.2 58.5,963.8 56.8,966.5 55.0,964.8 53.2,967.3 51.5,967.5 49.8,964.0 48.0,966.7 46.2,964.8 44.5,965.2" fill="#0000ff" fill-opacity="0.27"/>
<polygon points="44.5,955.3 46.2,955.5 48.0,953.1 49.8,951.3 51.5,957.3 53.2,952.0 55.0,952.9 56.8,954.4 58.5,951.7 60.2,953.2 62.0,952.3 63.8,955.8 65.5,956.0 67.2,954.3 69.0,956.0 70.8,954.0 72.5,953.8 74.2,954.8 76.0,955.4 77.8,954.5 79.5,956.1 81.2,955.9 83.0,950.1 84.8,952.5 86.5,951.6 88.2,955.7 90.0,955.9 91.8,955.9 93.5,955.2 95.2,954.2 97.0,954.1 98.8,953.9 100.5,950.9 102.2,952.9 104.0,953.6 105.8,953.1 107.5,951.1 109.2,956.0 111.0,953.6 112.8,953.3 114.5,953.1 116.2,955.8 118.0,951.2 119.8,952.5 121.5,955.4 123.2,956.1 123.2,967.5 121.5,967.3 119.8,966.5 118.0,964.3 116.2,967.7 114.5,966.2 112.8,964.3 111.0,963.7 109.2,967.3 107.5,963.0 105.8,965.1 104.0,964.7 102.2,965.9 100.5,963.4 98.8,966.9 97.0,966.1 95.2,965.0 93.5,966.6 91.8,968.9 90.0,965.4 88.2,966.1 86.5,963.9 84.8,962.5 83.0,962.9 81.2,968.0 79.5,967.5 77.8,966.9 76.0,966.1 74.2,967.5 72.5,967.1 70.8,965.1 69.0,967.3 67.2,967.4 65.5,966.2 63.8,966.5 62.0,963.3 60.2,966.2 58.5,963.8 56.8,966.6 55.0,965.0 53.2,963.6 51.5,969.0 49.8,963.0 48.0,963.8 46.2,968.8 44.5,966.2" fill="#ff0000" fill-opacity="0.27"/>
<polyline points="44.5,959.9 46.2,959.2 48.0,961.0 49.8,959.0 51.5,960.6 53.2,960.0 55.0,958.9 56.8,960.5 58.5,958.8 60.2,960.3 62.0,959.0 63.8,959.0 65.5,960.2 67.2,961.7 69.0,959.1 70.8,959.5 72.5,961.0 74.2,962.1 76.0,960.8 77.8,955.1 79.5,957.2 81.2,958.9 83.0,961.8 84.8,959.7 86.5,959.2 88.2,959.1 90.0,959.8 91.8,961.6 93.5,959.4 95.2,955.8 97.0,956.0 98.8,955.0 100.5,960.7 102.2,958.9 104.0,958.9 105.8,959.4 107.5,961.1 109.2,960.2 111.0,959.8 112.8,960.8 114.5,960.3 116.2,959.8 118.0,961.6 119.8,961.2 121.5,959.6 123.2,960.8" fill="none" stroke="#0000ff" stroke-width="2.2" stroke-linejoin="round" stroke-linecap="round"/>
<polyline points="44.5,960.1 46.2,961.7 48.0,958.0 49.8,956.1 51.5,962.1 53.2,958.3 55.0,959.6 56.8,961.1 58.5,958.5 60.2,960.0 62.0,958.0 63.8,960.7 65.5,961.2 67.2,960.3 69.0,961.7 70.8,959.2 72.5,960.9 74.2,960.4 76.0,960.4 77.8,959.8 79.5,961.5 81.2,962.0 83.0,956.9 84.8,957.7 86.5,958.1 88.2,960.9 90.0,960.6 91.8,962.2 93.5,961.4 95.2,959.1 97.0,959.5 98.8,960.7 100.5,957.9 102.2,959.8 104.0,958.5 105.8,958.3 107.5,958.1 109.2,961.2 111.0,958.4 112.8,958.9 114.5,959.5 116.2,961.6 118.0,958.2 119.8,959.8 121.5,960.2 123.2,961.7" fill="none" stroke="#ff0000" stroke-width="2.4" stroke-linejoin="round" stroke-linecap="round"/>
<polygon points="141.0,937.4 142.8,935.3 144.5,933.5 146.3,931.5 148.0,927.3 149.8,926.9 151.5,926.0 153.3,927.9 155.0,925.3 156.8,925.9 158.6,925.1 160.3,923.6 162.1,923.0 163.8,923.3 165.6,922.8 167.3,921.0 169.1,921.5 170.8,922.2 172.6,920.9 174.4,922.1 176.1,920.0 177.9,921.4 179.6,920.4 181.4,920.6 183.1,919.2 184.9,920.1 186.6,918.8 188.4,918.2 190.2,919.2 191.9,918.9 193.7,913.9 195.4,918.5 197.2,919.8 198.9,921.7 200.7,922.6 202.4,921.8 204.2,920.0 206.0,921.6 207.7,920.6 209.5,919.7 211.2,920.0 213.0,919.9 214.7,921.0 216.5,918.7 218.2,920.3 220.0,920.2 220.0,934.7 218.2,934.5 216.5,933.3 214.7,935.3 213.0,933.9 211.2,933.5 209.5,934.8 207.7,935.8 206.0,935.4 204.2,933.0 202.4,935.5 200.7,936.2 198.9,935.4 197.2,933.8 195.4,934.2 193.7,931.6 191.9,935.2 190.2,935.6 188.4,934.2 186.6,936.4 184.9,937.1 183.1,934.4 181.4,938.1 179.6,937.1 177.9,936.3 176.1,934.9 174.4,937.2 172.6,936.9 170.8,937.9 169.1,936.9 167.3,934.9 165.6,939.4 163.8,939.5 162.1,938.3 160.3,938.5 158.6,941.8 156.8,940.7 155.0,940.8 153.3,941.1 151.5,940.1 149.8,940.2 148.0,942.5 146.3,944.8 144.5,946.9 142.8,947.8 141.0,950.0" fill="#0000ff" fill-opacity="0.27"/>
<polygon points="141.0,940.4 142.8,942.6 144.5,941.4 146.3,939.2 148.0,936.5 149.8,937.9 151.5,935.2 153.3,935.3 155.0,933.1 156.8,935.4 158.6,934.7 160.3,934.6 162.1,934.1 163.8,935.8 165.6,934.3 167.3,933.4 169.1,933.2 170.8,933.0 172.6,930.8 174.4,931.4 176.1,933.3 177.9,932.6 179.6,935.9 181.4,935.5 183.1,936.6 184.9,935.7 186.6,935.9 188.4,934.5 190.2,933.1 191.9,933.4 193.7,934.7 195.4,931.7 197.2,933.8 198.9,934.1 200.7,932.5 202.4,935.1 204.2,935.6 206.0,933.8 207.7,934.4 209.5,934.9 211.2,933.6 213.0,934.1 214.7,934.6 216.5,934.6 218.2,934.6 220.0,935.1 220.0,947.8 218.2,949.2 216.5,949.2 214.7,946.6 213.0,948.4 211.2,946.1 209.5,948.4 207.7,947.8 206.0,947.8 204.2,948.8 202.4,948.5 200.7,944.6 198.9,946.5 197.2,947.6 195.4,946.5 193.7,948.0 191.9,946.8 190.2,947.4 188.4,949.3 186.6,950.5 184.9,950.0 183.1,953.0 181.4,950.9 179.6,949.7 177.9,948.8 176.1,947.8 174.4,947.8 172.6,945.9 170.8,947.9 169.1,948.4 167.3,951.2 165.6,950.7 163.8,951.1 162.1,948.5 160.3,950.7 158.6,950.9 156.8,949.5 155.0,950.0 153.3,950.0 151.5,951.0 149.8,953.7 148.0,951.9 146.3,952.9 144.5,955.7 142.8,956.3 141.0,954.5" fill="#ff0000" fill-opacity="0.27"/>
<polyline points="141.0,944.4 142.8,941.9 144.5,939.8 146.3,938.3 148.0,935.3 149.8,933.4 151.5,932.9 153.3,934.5 155.0,933.7 156.8,934.0 158.6,933.7 160.3,930.7 162.1,931.2 163.8,931.8 165.6,930.7 167.3,927.9 169.1,928.5 170.8,930.3 172.6,929.2 174.4,928.9 176.1,927.5 177.9,928.6 179.6,929.0 181.4,929.3 183.1,926.8 184.9,928.4 186.6,927.8 188.4,925.6 190.2,927.4 191.9,926.9 193.7,923.6 195.4,926.4 197.2,927.7 198.9,928.0 200.7,929.7 202.4,929.1 204.2,926.8 206.0,927.8 207.7,928.1 209.5,927.5 211.2,927.0 213.0,927.4 214.7,928.8 216.5,926.4 218.2,928.2 220.0,927.8" fill="none" stroke="#0000ff" stroke-width="2.5" stroke-linejoin="round" stroke-linecap="round"/>
<polyline points="141.0,947.2 142.8,948.9 144.5,948.2 146.3,946.1 148.0,944.5 149.8,946.3 151.5,943.5 153.3,943.2 155.0,941.5 156.8,942.4 158.6,942.3 160.3,942.1 162.1,941.7 163.8,943.3 165.6,942.2 167.3,942.3 169.1,940.5 170.8,940.4 172.6,938.6 174.4,939.2 176.1,940.7 177.9,941.0 179.6,942.9 181.4,943.5 183.1,944.8 184.9,943.5 186.6,942.7 188.4,942.2 190.2,939.6 191.9,939.4 193.7,941.6 195.4,938.8 197.2,940.8 198.9,940.6 200.7,938.8 202.4,941.7 204.2,942.1 206.0,941.4 207.7,941.8 209.5,942.1 211.2,939.8 213.0,941.1 214.7,941.0 216.5,942.1 218.2,942.0 220.0,942.1" fill="none" stroke="#ff0000" stroke-width="2.5" stroke-linejoin="round" stroke-linecap="round"/>
<polyline points="310.6,878.0 322.0,879.0" fill="none" stroke="#0000ff" stroke-width="2.0" stroke-linejoin="round" stroke-linecap="round"/>
<polygon points="230.0,913.2 231.8,901.5 233.5,893.4 235.3,887.1 237.0,884.4 238.8,881.0 240.5,879.9 242.3,877.2 244.0,874.3 245.8,871.7 247.5,869.0 249.3,866.8 251.0,864.9 252.8,866.0 254.5,861.8 256.3,864.2 258.0,862.4 259.8,863.6 261.5,865.7 263.3,865.6 265.0,866.8 266.8,868.3 268.5,866.1 270.3,863.3 272.1,861.5 273.8,861.5 275.6,861.6 277.3,861.3 279.1,860.3 280.8,858.9 282.6,861.6 284.3,861.2 286.1,859.7 287.8,857.3 289.6,854.1 291.3,856.4 293.1,863.6 294.8,861.6 296.6,862.3 298.3,861.7 300.1,859.5 301.8,861.2 303.6,863.9 305.3,862.4 307.1,863.4 308.8,863.0 310.6,863.2 310.6,892.2 308.8,890.2 307.1,891.8 305.3,891.0 303.6,893.8 301.8,891.4 300.1,890.1 298.3,891.3 296.6,893.2 294.8,892.1 293.1,896.1 291.3,888.4 289.6,886.4 287.8,888.6 286.1,891.5 284.3,890.5 282.6,891.4 280.8,889.2 279.1,891.0 277.3,889.2 275.6,890.7 273.8,891.9 272.1,891.0 270.3,891.8 268.5,893.7 266.8,896.3 265.0,895.3 263.3,894.4 261.5,893.2 259.8,893.2 258.0,891.5 256.3,894.8 254.5,892.4 252.8,895.4 251.0,893.2 249.3,893.6 247.5,896.6 245.8,898.6 244.0,899.7 242.3,901.5 240.5,904.8 238.8,905.1 237.0,908.5 235.3,912.4 233.5,918.8 231.8,927.1 230.0,937.2" fill="#0000ff" fill-opacity="0.27"/>
<polygon points="230.0,902.9 231.8,903.6 233.5,904.1 235.3,904.0 237.0,903.2 238.8,899.1 240.5,897.3 242.3,896.8 244.0,896.6 245.8,894.5 247.5,893.6 249.3,893.3 251.0,892.5 252.8,893.1 254.5,892.5 256.3,894.8 258.0,892.2 259.8,894.9 261.5,892.4 263.3,893.2 265.0,893.3 266.8,892.4 268.5,896.0 270.3,893.1 272.1,892.7 273.8,893.3 275.6,893.5 277.3,892.5 279.1,893.1 280.8,890.2 282.6,892.6 284.3,890.5 286.1,893.9 287.8,891.4 289.6,890.3 291.3,890.5 293.1,893.2 294.8,894.5 296.6,894.1 298.3,894.7 300.1,895.1 301.8,895.1 303.6,892.6 305.3,893.5 307.1,896.2 308.8,894.8 310.6,892.8 310.6,912.5 308.8,916.3 307.1,915.8 305.3,914.6 303.6,915.8 301.8,917.6 300.1,917.5 298.3,916.4 296.6,916.3 294.8,915.8 293.1,914.4 291.3,913.6 289.6,913.0 287.8,912.3 286.1,915.2 284.3,913.3 282.6,915.6 280.8,914.8 279.1,918.0 277.3,916.2 275.6,916.3 273.8,915.1 272.1,915.6 270.3,917.2 268.5,919.5 266.8,915.9 265.0,917.0 263.3,916.9 261.5,916.4 259.8,918.6 258.0,916.8 256.3,919.1 254.5,916.4 252.8,917.1 251.0,917.3 249.3,918.5 247.5,916.1 245.8,920.1 244.0,919.4 242.3,920.2 240.5,920.1 238.8,922.2 237.0,926.6 235.3,926.7 233.5,925.3 231.8,923.8 230.0,921.6" fill="#ff0000" fill-opacity="0.27"/>
<polyline points="230.0,925.4 231.8,914.2 233.5,906.1 235.3,899.6 237.0,895.6 238.8,893.3 240.5,893.0 242.3,889.3 244.0,886.5 245.8,885.0 247.5,882.7 249.3,880.3 251.0,879.3 252.8,880.6 254.5,877.6 256.3,879.7 258.0,877.7 259.8,878.0 261.5,879.4 263.3,879.3 265.0,881.0 266.8,882.6 268.5,880.2 270.3,877.9 272.1,876.3 273.8,876.9 275.6,876.7 277.3,875.2 279.1,876.0 280.8,873.9 282.6,876.5 284.3,875.7 286.1,875.8 287.8,873.7 289.6,870.7 291.3,872.6 293.1,879.4 294.8,876.3 296.6,877.0 298.3,876.1 300.1,875.5 301.8,877.0 303.6,878.2 305.3,876.1 307.1,877.8 308.8,877.0 310.6,878.2" fill="none" stroke="#0000ff" stroke-width="2.5" stroke-linejoin="round" stroke-linecap="round"/>
<polyline points="230.0,912.6 231.8,914.1 233.5,914.8 235.3,915.1 237.0,914.8 238.8,911.2 240.5,909.2 242.3,908.7 244.0,907.5 245.8,907.2 247.5,904.7 249.3,905.9 251.0,904.8 252.8,904.5 254.5,903.9 256.3,906.9 258.0,905.1 259.8,907.0 261.5,904.7 263.3,904.3 265.0,905.9 266.8,904.6 268.5,907.1 270.3,905.9 272.1,904.7 273.8,904.4 275.6,904.6 277.3,905.0 279.1,905.5 280.8,902.6 282.6,903.2 284.3,902.4 286.1,904.7 287.8,901.9 289.6,901.8 291.3,902.0 293.1,903.4 294.8,905.3 296.6,905.5 298.3,905.2 300.1,906.3 301.8,906.3 303.6,904.3 305.3,903.6 307.1,905.9 308.8,905.1 310.6,902.4" fill="none" stroke="#ff0000" stroke-width="2.5" stroke-linejoin="round" stroke-linecap="round"/>
<polygon points="322.0,900.3 323.8,888.3 325.6,879.1 327.3,867.0 329.1,858.8 330.9,859.2 332.7,856.5 334.4,856.8 336.2,853.9 338.0,853.4 339.8,855.3 341.6,857.1 343.3,851.7 345.1,847.5 346.9,848.6 348.7,847.6 350.4,845.9 352.2,840.4 354.0,839.8 355.8,840.2 357.6,839.6 359.3,841.4 361.1,836.6 362.9,834.6 364.7,833.7 366.4,836.0 368.2,838.9 370.0,836.4 371.8,837.7 373.6,834.7 375.3,837.9 377.1,839.9 378.9,836.2 380.7,836.7 382.4,837.2 384.2,836.8 386.0,837.9 387.8,836.9 389.6,834.7 391.3,835.8 393.1,834.8 394.9,835.1 396.7,834.1 398.4,836.8 400.2,837.9 402.0,838.5 402.0,851.7 400.2,851.1 398.4,849.4 396.7,848.5 394.9,847.8 393.1,848.2 391.3,848.5 389.6,850.1 387.8,850.5 386.0,852.5 384.2,850.3 382.4,850.9 380.7,851.5 378.9,851.7 377.1,853.8 375.3,853.5 373.6,850.7 371.8,853.2 370.0,853.0 368.2,855.2 366.4,851.1 364.7,850.5 362.9,851.8 361.1,852.5 359.3,856.0 357.6,855.3 355.8,852.8 354.0,855.3 352.2,856.2 350.4,862.7 348.7,863.6 346.9,867.4 345.1,865.3 343.3,869.7 341.6,876.7 339.8,875.4 338.0,872.9 336.2,873.9 334.4,877.4 332.7,875.7 330.9,878.9 329.1,885.9 327.3,897.5 325.6,908.8 323.8,913.5 322.0,918.5" fill="#0000ff" fill-opacity="0.27"/>
<polygon points="322.0,885.5 323.8,886.8 325.6,888.9 327.3,885.8 329.1,882.2 330.9,881.7 332.7,876.5 334.4,872.5 336.2,872.6 338.0,870.7 339.8,867.1 341.6,864.0 343.3,863.4 345.1,865.7 346.9,867.1 348.7,865.8 350.4,860.2 352.2,863.3 354.0,864.5 355.8,864.4 357.6,865.3 359.3,861.5 361.1,864.8 362.9,865.1 364.7,865.0 366.4,863.0 368.2,861.5 370.0,861.3 371.8,863.2 373.6,860.6 375.3,864.2 377.1,863.2 378.9,863.3 380.7,862.2 382.4,858.9 384.2,861.6 386.0,859.0 387.8,860.3 389.6,861.6 391.3,858.1 393.1,862.9 394.9,863.4 396.7,862.4 398.4,864.4 400.2,865.3 402.0,863.7 402.0,877.8 400.2,880.4 398.4,879.6 396.7,877.7 394.9,881.7 393.1,879.3 391.3,877.5 389.6,880.6 387.8,880.0 386.0,879.1 384.2,880.6 382.4,878.9 380.7,881.8 378.9,880.7 377.1,882.4 375.3,882.4 373.6,880.2 371.8,882.3 370.0,879.1 368.2,879.8 366.4,879.7 364.7,882.4 362.9,884.1 361.1,881.7 359.3,880.3 357.6,884.0 355.8,882.7 354.0,884.5 352.2,882.1 350.4,879.8 348.7,884.4 346.9,885.7 345.1,884.5 343.3,883.5 341.6,884.5 339.8,889.6 338.0,892.3 336.2,894.0 334.4,896.3 332.7,900.2 330.9,904.2 329.1,906.3 327.3,911.0 325.6,912.7 323.8,907.9 322.0,902.4" fill="#ff0000" fill-opacity="0.27"/>
<polyline points="322.0,910.2 323.8,901.3 325.6,893.8 327.3,882.1 329.1,872.9 330.9,869.4 332.7,865.5 334.4,866.6 336.2,864.7 338.0,863.9 339.8,865.0 341.6,866.4 343.3,860.6 345.1,857.3 346.9,857.9 348.7,855.5 350.4,854.0 352.2,848.4 354.0,847.4 355.8,846.4 357.6,847.3 359.3,848.9 361.1,844.8 362.9,843.0 364.7,841.4 366.4,843.4 368.2,847.5 370.0,845.1 371.8,845.2 373.6,843.1 375.3,846.6 377.1,846.7 378.9,843.8 380.7,843.4 382.4,844.6 384.2,843.1 386.0,845.0 387.8,844.5 389.6,842.5 391.3,842.5 393.1,841.3 394.9,841.0 396.7,841.6 398.4,843.2 400.2,844.7 402.0,845.0" fill="none" stroke="#0000ff" stroke-width="2.5" stroke-linejoin="round" stroke-linecap="round"/>
<polyline points="322.0,893.7 323.8,898.1 325.6,900.9 327.3,899.1 329.1,894.2 330.9,892.6 332.7,888.6 334.4,884.2 336.2,883.7 338.0,882.0 339.8,878.7 341.6,875.1 343.3,874.2 345.1,874.8 346.9,876.6 348.7,874.8 350.4,870.6 352.2,872.3 354.0,874.8 355.8,873.8 357.6,874.4 359.3,871.1 361.1,873.2 362.9,874.1 364.7,873.9 366.4,871.3 368.2,871.4 370.0,869.6 371.8,872.2 373.6,870.2 375.3,873.1 377.1,873.3 378.9,872.0 380.7,871.8 382.4,869.0 384.2,870.9 386.0,869.0 387.8,870.6 389.6,870.4 391.3,868.0 393.1,871.0 394.9,872.4 396.7,870.4 398.4,871.5 400.2,872.9 402.0,870.8" fill="none" stroke="#ff0000" stroke-width="2.5" stroke-linejoin="round" stroke-linecap="round"/>
<polygon points="414.0,899.0 415.8,889.8 417.6,874.7 419.3,871.7 421.1,872.8 422.9,865.1 424.7,858.7 426.4,857.9 428.2,854.3 430.0,852.6 431.8,851.3 433.6,848.2 435.3,846.7 437.1,847.8 438.9,848.3 440.7,846.7 442.4,840.4 444.2,839.1 446.0,835.7 447.8,837.9 449.6,838.4 451.3,838.8 453.1,836.6 454.9,835.3 456.7,832.4 458.4,831.4 460.2,831.9 462.0,835.9 463.8,838.8 465.6,838.8 467.3,836.6 469.1,835.4 470.9,833.7 472.7,829.5 474.4,833.7 476.2,836.7 478.0,831.8 479.8,827.5 481.6,826.9 483.3,830.6 485.1,833.2 486.9,832.1 488.7,834.0 490.4,834.4 492.2,837.2 494.0,839.0 494.0,858.7 492.2,857.2 490.4,855.3 488.7,856.4 486.9,855.6 485.1,857.2 483.3,854.4 481.6,852.1 479.8,853.3 478.0,860.0 476.2,861.4 474.4,859.5 472.7,853.4 470.9,857.5 469.1,860.2 467.3,860.1 465.6,862.3 463.8,860.9 462.0,856.6 460.2,853.3 458.4,853.9 456.7,855.0 454.9,855.4 453.1,858.9 451.3,858.2 449.6,858.2 447.8,857.7 446.0,853.6 444.2,857.1 442.4,859.5 440.7,865.3 438.9,866.5 437.1,865.1 435.3,865.4 433.6,865.0 431.8,869.4 430.0,871.8 428.2,875.0 426.4,879.2 424.7,881.5 422.9,888.2 421.1,895.0 419.3,893.4 417.6,894.4 415.8,903.8 414.0,907.7" fill="#0000ff" fill-opacity="0.27"/>
<polygon points="414.0,886.2 415.8,890.8 417.6,887.9 419.3,884.0 421.1,879.2 422.9,880.1 424.7,877.2 426.4,876.1 428.2,875.2 430.0,873.8 431.8,872.0 433.6,872.4 435.3,869.3 437.1,868.3 438.9,865.2 440.7,866.2 442.4,868.4 444.2,869.3 446.0,871.1 447.8,868.5 449.6,865.3 451.3,862.6 453.1,866.1 454.9,863.7 456.7,865.2 458.4,865.6 460.2,868.0 462.0,868.2 463.8,866.3 465.6,866.2 467.3,862.4 469.1,860.6 470.9,861.0 472.7,861.9 474.4,861.2 476.2,860.2 478.0,859.3 479.8,858.9 481.6,858.2 483.3,861.9 485.1,860.3 486.9,860.1 488.7,858.4 490.4,860.3 492.2,863.7 494.0,865.3 494.0,878.7 492.2,876.6 490.4,874.1 488.7,872.1 486.9,874.0 485.1,874.9 483.3,876.8 481.6,873.9 479.8,874.3 478.0,873.6 476.2,875.9 474.4,877.6 472.7,878.0 470.9,876.8 469.1,878.2 467.3,878.5 465.6,884.8 463.8,884.3 462.0,885.2 460.2,886.8 458.4,883.9 456.7,882.3 454.9,882.4 453.1,884.0 451.3,881.0 449.6,884.5 447.8,885.3 446.0,889.3 444.2,885.7 442.4,884.8 440.7,884.1 438.9,882.7 437.1,885.1 435.3,884.5 433.6,889.3 431.8,888.7 430.0,891.4 428.2,893.5 426.4,893.4 424.7,895.4 422.9,899.1 421.1,898.9 419.3,903.5 417.6,905.3 415.8,907.7 414.0,902.8" fill="#ff0000" fill-opacity="0.27"/>
<polyline points="414.0,903.5 415.8,896.6 417.6,884.7 419.3,883.2 421.1,883.2 422.9,876.5 424.7,870.2 426.4,867.8 428.2,864.4 430.0,862.2 431.8,860.6 433.6,856.5 435.3,855.8 437.1,856.4 438.9,857.4 440.7,855.7 442.4,850.5 444.2,848.1 446.0,844.8 447.8,847.8 449.6,848.8 451.3,848.5 453.1,847.7 454.9,844.9 456.7,843.7 458.4,843.0 460.2,843.5 462.0,845.9 463.8,850.1 465.6,850.6 467.3,849.0 469.1,848.0 470.9,845.4 472.7,841.6 474.4,846.0 476.2,849.2 478.0,846.0 479.8,840.6 481.6,840.1 483.3,842.5 485.1,844.6 486.9,843.0 488.7,846.1 490.4,844.5 492.2,846.8 494.0,848.1" fill="none" stroke="#0000ff" stroke-width="2.5" stroke-linejoin="round" stroke-linecap="round"/>
<polyline points="414.0,894.9 415.8,899.5 417.6,896.0 419.3,893.6 421.1,889.1 422.9,889.6 424.7,885.8 426.4,884.2 428.2,884.6 430.0,883.0 431.8,880.8 433.6,880.9 435.3,877.2 437.1,877.1 438.9,873.9 440.7,875.2 442.4,876.0 444.2,877.5 446.0,880.7 447.8,876.5 449.6,875.2 451.3,872.0 453.1,874.4 454.9,872.3 456.7,873.8 458.4,874.7 460.2,877.4 462.0,876.7 463.8,875.7 465.6,875.3 467.3,871.0 469.1,869.8 470.9,869.4 472.7,869.4 474.4,868.8 476.2,868.1 478.0,866.7 479.8,866.6 481.6,866.3 483.3,869.0 485.1,867.7 486.9,866.7 488.7,864.5 490.4,867.2 492.2,870.2 494.0,871.3" fill="none" stroke="#ff0000" stroke-width="2.5" stroke-linejoin="round" stroke-linecap="round"/>
<polygon points="505.8,909.4 507.6,902.4 509.3,894.6 511.1,891.4 512.9,883.6 514.6,880.9 516.4,874.8 518.2,874.8 520.0,876.1 521.7,871.2 523.5,869.7 525.3,870.8 527.0,873.8 528.8,874.5 530.6,870.7 532.3,860.7 534.1,859.5 535.9,859.3 537.6,856.9 539.4,853.6 541.2,850.2 542.9,857.9 544.7,859.5 546.5,861.5 548.3,860.2 550.0,859.1 551.8,857.9 553.6,858.3 555.3,856.6 557.1,856.3 558.9,856.9 560.6,861.0 562.4,858.2 564.2,856.3 565.9,856.9 567.7,859.8 569.5,859.1 571.2,859.7 573.0,860.0 574.8,858.9 576.6,859.0 578.3,855.9 580.1,856.8 581.9,857.1 583.6,860.7 585.4,855.5 585.4,867.3 583.6,872.5 581.9,869.8 580.1,870.0 578.3,867.9 576.6,870.9 574.8,871.7 573.0,872.2 571.2,872.3 569.5,872.3 567.7,871.1 565.9,871.5 564.2,868.9 562.4,870.7 560.6,875.8 558.9,870.1 557.1,869.8 555.3,870.7 553.6,872.5 551.8,871.0 550.0,874.2 548.3,876.5 546.5,877.9 544.7,881.5 542.9,879.9 541.2,871.2 539.4,873.9 537.6,876.6 535.9,875.9 534.1,874.1 532.3,874.6 530.6,884.2 528.8,889.2 527.0,888.8 525.3,887.9 523.5,887.3 521.7,889.1 520.0,894.3 518.2,891.4 516.4,891.9 514.6,896.7 512.9,898.8 511.1,905.0 509.3,909.5 507.6,917.2 505.8,923.5" fill="#0000ff" fill-opacity="0.27"/>
<polygon points="505.8,899.3 507.6,895.8 509.3,898.3 511.1,896.6 512.9,895.7 514.6,892.0 516.4,890.5 518.2,888.2 520.0,885.8 521.7,888.6 523.5,890.4 525.3,882.1 527.0,874.5 528.8,877.9 530.6,879.7 532.3,879.0 534.1,875.3 535.9,877.1 537.6,876.3 539.4,871.5 541.2,869.4 542.9,868.5 544.7,868.0 546.5,870.3 548.3,870.6 550.0,866.4 551.8,866.0 553.6,864.3 555.3,868.8 557.1,869.2 558.9,867.7 560.6,867.4 562.4,869.3 564.2,873.2 565.9,872.2 567.7,873.5 569.5,873.5 571.2,873.1 573.0,871.3 574.8,869.7 576.6,871.6 578.3,868.9 580.1,870.2 581.9,868.7 583.6,867.0 585.4,870.2 585.4,883.4 583.6,884.7 581.9,888.2 580.1,887.5 578.3,887.6 576.6,888.4 574.8,887.9 573.0,886.8 571.2,887.0 569.5,888.8 567.7,887.0 565.9,887.0 564.2,887.1 562.4,884.5 560.6,883.3 558.9,884.4 557.1,886.5 555.3,885.4 553.6,883.3 551.8,882.7 550.0,883.7 548.3,886.1 546.5,885.8 544.7,883.5 542.9,884.0 541.2,887.0 539.4,889.1 537.6,891.7 535.9,894.5 534.1,891.5 532.3,896.4 530.6,898.9 528.8,897.1 527.0,894.7 525.3,901.6 523.5,912.8 521.7,910.9 520.0,905.6 518.2,908.0 516.4,908.4 514.6,909.2 512.9,910.9 511.1,909.0 509.3,910.8 507.6,909.3 505.8,912.4" fill="#ff0000" fill-opacity="0.27"/>
<polyline points="505.8,916.6 507.6,909.7 509.3,902.5 511.1,898.2 512.9,891.7 514.6,889.5 516.4,883.6 518.2,883.6 520.0,885.3 521.7,880.4 523.5,878.4 525.3,879.5 527.0,880.9 528.8,881.1 530.6,878.4 532.3,867.0 534.1,866.4 535.9,867.2 537.6,866.9 539.4,863.1 541.2,860.7 542.9,869.4 544.7,870.5 546.5,869.7 548.3,868.1 550.0,866.8 551.8,865.3 553.6,865.7 555.3,863.8 557.1,862.3 558.9,863.8 560.6,868.2 562.4,864.0 564.2,862.3 565.9,864.2 567.7,865.5 569.5,865.4 571.2,865.6 573.0,866.1 574.8,864.5 576.6,864.8 578.3,861.6 580.1,863.7 581.9,863.0 583.6,866.9 585.4,861.2" fill="none" stroke="#0000ff" stroke-width="2.5" stroke-linejoin="round" stroke-linecap="round"/>
<polyline points="505.8,905.5 507.6,902.3 509.3,904.0 511.1,902.9 512.9,903.1 514.6,900.6 516.4,899.7 518.2,897.8 520.0,896.1 521.7,899.4 523.5,901.2 525.3,891.9 527.0,885.6 528.8,887.3 530.6,889.4 532.3,888.5 534.1,883.3 535.9,885.5 537.6,884.0 539.4,880.0 541.2,878.7 542.9,876.8 544.7,875.8 546.5,877.5 548.3,877.9 550.0,874.9 551.8,874.8 553.6,873.9 555.3,877.1 557.1,878.0 558.9,876.3 560.6,875.9 562.4,877.5 564.2,879.7 565.9,879.5 567.7,879.5 569.5,881.5 571.2,879.9 573.0,879.9 574.8,878.9 576.6,879.6 578.3,878.2 580.1,878.8 581.9,878.6 583.6,875.8 585.4,876.2" fill="none" stroke="#ff0000" stroke-width="2.5" stroke-linejoin="round" stroke-linecap="round"/>
<polygon points="600.4,921.5 602.2,922.5 603.9,924.0 605.7,924.5 607.4,921.8 609.2,922.2 610.9,920.6 612.7,922.1 614.5,922.2 616.2,921.4 618.0,917.4 619.7,916.6 621.5,914.7 623.3,914.2 625.0,912.7 626.8,911.4 628.5,910.5 630.3,911.1 632.0,909.9 633.8,910.3 635.6,908.4 637.3,904.5 639.1,907.4 640.8,906.9 642.6,907.3 644.3,907.2 646.1,905.7 647.9,907.7 649.6,909.5 651.4,908.9 653.1,906.2 654.9,906.4 656.6,908.3 658.4,905.9 660.2,909.4 661.9,909.7 663.7,908.6 665.4,907.7 667.2,905.8 669.0,908.2 670.7,910.1 672.5,910.2 674.2,908.0 676.0,909.7 677.7,910.3 679.5,908.6 679.5,917.7 677.7,920.4 676.0,921.0 674.2,920.1 672.5,921.1 670.7,921.2 669.0,920.0 667.2,916.4 665.4,918.2 663.7,919.0 661.9,919.5 660.2,919.7 658.4,918.2 656.6,919.2 654.9,917.1 653.1,915.9 651.4,921.2 649.6,919.9 647.9,918.0 646.1,918.7 644.3,918.2 642.6,919.2 640.8,919.4 639.1,919.2 637.3,916.0 635.6,918.0 633.8,919.8 632.0,921.2 630.3,923.7 628.5,921.4 626.8,922.7 625.0,924.5 623.3,924.9 621.5,926.4 619.7,928.6 618.0,929.1 616.2,932.1 614.5,933.4 612.7,935.1 610.9,931.5 609.2,932.7 607.4,933.1 605.7,934.3 603.9,935.1 602.2,933.6 600.4,932.1" fill="#0000ff" fill-opacity="0.27"/>
<polygon points="600.4,919.5 602.2,918.2 603.9,922.2 605.7,921.5 607.4,919.2 609.2,920.3 610.9,914.0 612.7,916.6 614.5,918.3 616.2,916.5 618.0,916.1 619.7,914.7 621.5,913.6 623.3,912.1 625.0,912.2 626.8,910.1 628.5,909.3 630.3,909.0 632.0,913.1 633.8,909.7 635.6,907.6 637.3,904.8 639.1,904.6 640.8,902.4 642.6,905.9 644.3,904.6 646.1,903.6 647.9,908.3 649.6,906.8 651.4,906.7 653.1,906.2 654.9,905.3 656.6,907.3 658.4,903.9 660.2,903.5 661.9,905.5 663.7,907.0 665.4,910.3 667.2,908.3 669.0,911.0 670.7,907.2 672.5,910.0 674.2,910.3 676.0,907.2 677.7,908.3 679.5,905.2 679.5,916.6 677.7,919.2 676.0,917.4 674.2,919.5 672.5,923.0 670.7,918.3 669.0,920.7 667.2,917.7 665.4,920.1 663.7,918.9 661.9,916.0 660.2,915.2 658.4,915.0 656.6,918.0 654.9,917.4 653.1,919.5 651.4,919.5 649.6,916.2 647.9,919.3 646.1,915.2 644.3,917.1 642.6,916.2 640.8,915.1 639.1,915.3 637.3,916.5 635.6,918.4 633.8,920.7 632.0,923.1 630.3,921.3 628.5,920.0 626.8,921.8 625.0,922.0 623.3,923.5 621.5,923.0 619.7,927.1 618.0,925.7 616.2,928.1 614.5,929.2 612.7,928.1 610.9,927.1 609.2,928.9 607.4,928.9 605.7,932.1 603.9,934.5 602.2,929.6 600.4,931.9" fill="#ff0000" fill-opacity="0.27"/>
<polyline points="600.4,926.7 602.2,926.9 603.9,928.5 605.7,930.0 607.4,927.3 609.2,927.5 610.9,927.0 612.7,928.4 614.5,928.5 616.2,926.4 618.0,923.2 619.7,921.9 621.5,920.4 623.3,919.7 625.0,919.1 626.8,918.0 628.5,914.7 630.3,916.9 632.0,916.4 633.8,915.5 635.6,913.2 637.3,910.9 639.1,912.6 640.8,912.8 642.6,912.8 644.3,913.9 646.1,912.4 647.9,912.0 649.6,914.0 651.4,914.5 653.1,911.6 654.9,912.6 656.6,913.0 658.4,911.6 660.2,913.7 661.9,914.5 663.7,913.3 665.4,912.0 667.2,911.9 669.0,914.9 670.7,916.4 672.5,916.5 674.2,914.6 676.0,916.4 677.7,915.6 679.5,913.1" fill="none" stroke="#0000ff" stroke-width="2.5" stroke-linejoin="round" stroke-linecap="round"/>
<polyline points="600.4,925.6 602.2,924.5 603.9,928.1 605.7,925.7 607.4,923.4 609.2,924.7 610.9,920.5 612.7,922.6 614.5,922.7 616.2,923.2 618.0,921.0 619.7,920.8 621.5,917.8 623.3,918.9 625.0,916.9 626.8,916.0 628.5,915.8 630.3,915.7 632.0,917.7 633.8,915.1 635.6,913.9 637.3,910.5 639.1,909.0 640.8,908.6 642.6,911.2 644.3,911.0 646.1,910.0 647.9,913.1 649.6,911.8 651.4,913.0 653.1,912.8 654.9,911.9 656.6,912.5 658.4,909.5 660.2,909.6 661.9,911.7 663.7,912.2 665.4,915.3 667.2,913.0 669.0,916.3 670.7,913.5 672.5,916.6 674.2,915.2 676.0,913.0 677.7,913.2 679.5,911.9" fill="none" stroke="#ff0000" stroke-width="2.5" stroke-linejoin="round" stroke-linecap="round"/>
<polygon points="44.5,1170.5 46.2,1172.2 48.0,1172.0 49.8,1172.0 51.5,1171.5 53.2,1170.5 55.0,1172.9 56.8,1172.5 58.5,1170.0 60.2,1169.9 62.0,1171.0 63.8,1170.8 65.5,1169.9 67.2,1170.0 69.0,1170.8 70.8,1170.3 72.5,1170.6 74.2,1172.6 76.0,1171.0 77.8,1165.1 79.5,1166.6 81.2,1166.1 83.0,1168.2 84.8,1174.5 86.5,1170.5 88.2,1171.9 90.0,1172.0 91.8,1170.5 93.5,1172.0 95.2,1173.1 97.0,1171.5 98.8,1170.6 100.5,1170.3 102.2,1171.5 104.0,1168.7 105.8,1171.2 107.5,1172.4 109.2,1172.3 111.0,1170.4 112.8,1171.0 114.5,1167.8 116.2,1170.5 118.0,1172.1 119.8,1172.6 121.5,1169.8 123.2,1169.7 123.2,1180.8 121.5,1178.8 119.8,1181.0 118.0,1183.0 116.2,1180.9 114.5,1179.1 112.8,1180.9 111.0,1182.4 109.2,1180.6 107.5,1181.4 105.8,1182.1 104.0,1178.8 102.2,1180.3 100.5,1179.6 98.8,1180.7 97.0,1182.6 95.2,1184.2 93.5,1181.8 91.8,1181.1 90.0,1182.6 88.2,1181.3 86.5,1180.8 84.8,1182.7 83.0,1179.4 81.2,1176.0 79.5,1176.4 77.8,1175.5 76.0,1180.4 74.2,1183.9 72.5,1182.6 70.8,1179.8 69.0,1181.3 67.2,1181.2 65.5,1180.6 63.8,1181.7 62.0,1182.2 60.2,1178.7 58.5,1180.6 56.8,1181.4 55.0,1184.1 53.2,1180.5 51.5,1183.1 49.8,1181.5 48.0,1182.5 46.2,1182.5 44.5,1180.2" fill="#0000ff" fill-opacity="0.27"/>
<polygon points="44.5,1172.9 46.2,1171.6 48.0,1173.8 49.8,1171.3 51.5,1174.3 53.2,1174.2 55.0,1171.2 56.8,1173.0 58.5,1175.9 60.2,1174.9 62.0,1176.2 63.8,1173.9 65.5,1174.7 67.2,1175.7 69.0,1175.0 70.8,1172.3 72.5,1174.7 74.2,1172.4 76.0,1173.3 77.8,1172.0 79.5,1173.5 81.2,1167.8 83.0,1166.3 84.8,1173.2 86.5,1170.8 88.2,1169.1 90.0,1175.6 91.8,1172.8 93.5,1173.8 95.2,1173.8 97.0,1171.7 98.8,1174.8 100.5,1174.9 102.2,1173.1 104.0,1175.1 105.8,1175.7 107.5,1175.2 109.2,1172.2 111.0,1174.1 112.8,1173.7 114.5,1174.8 116.2,1175.8 118.0,1175.0 119.8,1173.5 121.5,1172.0 123.2,1174.7 123.2,1184.6 121.5,1182.1 119.8,1183.3 118.0,1184.5 116.2,1184.1 114.5,1184.7 112.8,1181.9 111.0,1182.0 109.2,1184.0 107.5,1185.5 105.8,1185.7 104.0,1183.9 102.2,1182.7 100.5,1184.7 98.8,1182.9 97.0,1182.3 95.2,1183.3 93.5,1181.5 91.8,1182.2 90.0,1185.9 88.2,1180.5 86.5,1179.7 84.8,1182.6 83.0,1175.5 81.2,1177.8 79.5,1183.7 77.8,1181.6 76.0,1184.8 74.2,1182.6 72.5,1185.1 70.8,1180.7 69.0,1184.1 67.2,1185.9 65.5,1184.5 63.8,1184.9 62.0,1185.5 60.2,1183.7 58.5,1186.2 56.8,1183.0 55.0,1180.7 53.2,1183.8 51.5,1183.5 49.8,1180.5 48.0,1182.8 46.2,1182.8 44.5,1184.2" fill="#ff0000" fill-opacity="0.27"/>
<polyline points="44.5,1174.6 46.2,1176.9 48.0,1176.8 49.8,1176.6 51.5,1177.3 53.2,1174.9 55.0,1178.0 56.8,1177.4 58.5,1174.7 60.2,1175.0 62.0,1176.5 63.8,1176.5 65.5,1175.6 67.2,1175.0 69.0,1176.1 70.8,1175.0 72.5,1176.9 74.2,1177.9 76.0,1175.1 77.8,1170.8 79.5,1171.5 81.2,1171.2 83.0,1173.8 84.8,1178.3 86.5,1176.1 88.2,1176.2 90.0,1177.9 91.8,1176.6 93.5,1176.1 95.2,1178.3 97.0,1177.6 98.8,1175.9 100.5,1175.5 102.2,1175.8 104.0,1174.7 105.8,1176.9 107.5,1176.2 109.2,1176.7 111.0,1176.3 112.8,1176.4 114.5,1173.2 116.2,1175.1 118.0,1176.8 119.8,1176.7 121.5,1174.0 123.2,1174.7" fill="none" stroke="#0000ff" stroke-width="2.4" stroke-linejoin="round" stroke-linecap="round"/>
<polyline points="44.5,1179.2 46.2,1177.8 48.0,1178.7 49.8,1176.3 51.5,1178.2 53.2,1178.5 55.0,1176.1 56.8,1176.7 58.5,1180.8 60.2,1179.9 62.0,1180.7 63.8,1179.2 65.5,1180.0 67.2,1180.4 69.0,1180.4 70.8,1176.2 72.5,1179.2 74.2,1177.3 76.0,1179.4 77.8,1177.4 79.5,1178.7 81.2,1172.6 83.0,1171.1 84.8,1177.3 86.5,1174.6 88.2,1174.2 90.0,1180.8 91.8,1177.4 93.5,1177.5 95.2,1179.2 97.0,1176.6 98.8,1179.0 100.5,1180.8 102.2,1178.6 104.0,1178.8 105.8,1179.8 107.5,1180.2 109.2,1178.2 111.0,1178.1 112.8,1178.2 114.5,1179.0 116.2,1179.5 118.0,1178.9 119.8,1178.7 121.5,1177.9 123.2,1180.2" fill="none" stroke="#ff0000" stroke-width="2.4" stroke-linejoin="round" stroke-linecap="round"/>
<polygon points="141.0,1168.3 142.8,1170.7 144.5,1169.5 146.3,1169.0 148.0,1169.8 149.8,1169.7 151.5,1170.8 153.3,1172.7 155.0,1170.8 156.8,1173.1 158.6,1170.0 160.3,1171.5 162.1,1172.0 163.8,1169.1 165.6,1172.6 167.3,1172.9 169.1,1169.9 170.8,1169.2 172.6,1168.9 174.4,1168.7 176.1,1169.4 177.9,1172.7 179.6,1169.0 181.4,1172.1 183.1,1168.3 184.9,1167.9 186.6,1169.6 188.4,1167.1 190.2,1168.9 191.9,1170.1 193.7,1170.9 195.4,1171.0 197.2,1168.3 198.9,1167.4 200.7,1168.9 202.4,1167.6 204.2,1172.3 206.0,1168.3 207.7,1170.0 209.5,1168.2 211.2,1168.6 213.0,1169.3 214.7,1168.4 216.5,1167.9 218.2,1167.9 220.0,1169.6 220.0,1177.8 218.2,1175.2 216.5,1174.7 214.7,1175.8 213.0,1175.4 211.2,1176.0 209.5,1176.7 207.7,1178.5 206.0,1178.4 204.2,1178.3 202.4,1175.5 200.7,1177.0 198.9,1175.7 197.2,1177.5 195.4,1178.1 193.7,1178.4 191.9,1179.2 190.2,1176.2 188.4,1175.7 186.6,1178.2 184.9,1177.1 183.1,1175.0 181.4,1178.4 179.6,1176.8 177.9,1180.5 176.1,1178.7 174.4,1176.8 172.6,1178.3 170.8,1177.8 169.1,1176.6 167.3,1180.6 165.6,1179.8 163.8,1177.4 162.1,1178.6 160.3,1178.9 158.6,1178.6 156.8,1180.6 155.0,1179.3 153.3,1181.2 151.5,1177.3 149.8,1179.3 148.0,1178.0 146.3,1178.5 144.5,1177.4 142.8,1178.3 141.0,1176.4" fill="#0000ff" fill-opacity="0.27"/>
<polygon points="141.0,1172.1 142.8,1171.9 144.5,1175.4 146.3,1174.8 148.0,1176.5 149.8,1177.2 151.5,1179.7 153.3,1175.6 155.0,1173.3 156.8,1172.4 158.6,1171.6 160.3,1172.1 162.1,1175.9 163.8,1175.2 165.6,1173.8 167.3,1172.5 169.1,1176.6 170.8,1175.3 172.6,1172.0 174.4,1172.3 176.1,1172.0 177.9,1173.6 179.6,1172.3 181.4,1171.0 183.1,1171.2 184.9,1173.4 186.6,1174.1 188.4,1174.5 190.2,1175.4 191.9,1176.6 193.7,1173.8 195.4,1173.4 197.2,1174.9 198.9,1174.7 200.7,1176.5 202.4,1175.5 204.2,1176.1 206.0,1176.3 207.7,1173.5 209.5,1173.8 211.2,1173.2 213.0,1175.6 214.7,1174.6 216.5,1175.5 218.2,1176.7 220.0,1175.3 220.0,1182.9 218.2,1185.1 216.5,1183.6 214.7,1184.6 213.0,1183.5 211.2,1181.1 209.5,1183.0 207.7,1183.3 206.0,1184.2 204.2,1182.6 202.4,1184.7 200.7,1185.1 198.9,1182.6 197.2,1182.9 195.4,1180.2 193.7,1182.5 191.9,1184.5 190.2,1182.6 188.4,1181.4 186.6,1182.3 184.9,1179.8 183.1,1180.1 181.4,1180.5 179.6,1179.5 177.9,1182.1 176.1,1181.1 174.4,1179.7 172.6,1180.8 170.8,1182.1 169.1,1183.9 167.3,1181.4 165.6,1181.3 163.8,1184.1 162.1,1185.4 160.3,1181.0 158.6,1179.7 156.8,1181.7 155.0,1182.5 153.3,1182.0 151.5,1185.4 149.8,1184.3 148.0,1184.8 146.3,1182.0 144.5,1182.4 142.8,1180.1 141.0,1179.3" fill="#ff0000" fill-opacity="0.27"/>
<polyline points="141.0,1172.6 142.8,1175.4 144.5,1174.3 146.3,1173.6 148.0,1174.5 149.8,1174.9 151.5,1174.3 153.3,1177.1 155.0,1175.7 156.8,1176.6 158.6,1175.1 160.3,1176.1 162.1,1175.1 163.8,1174.1 165.6,1176.7 167.3,1176.0 169.1,1173.1 170.8,1174.0 172.6,1173.3 174.4,1172.1 176.1,1173.7 177.9,1175.5 179.6,1173.7 181.4,1175.0 183.1,1172.3 184.9,1172.6 186.6,1173.7 188.4,1172.1 190.2,1172.4 191.9,1174.8 193.7,1173.9 195.4,1174.8 197.2,1172.6 198.9,1172.1 200.7,1172.6 202.4,1172.3 204.2,1175.3 206.0,1173.3 207.7,1173.9 209.5,1172.1 211.2,1173.2 213.0,1172.6 214.7,1172.7 216.5,1171.5 218.2,1171.7 220.0,1174.1" fill="none" stroke="#0000ff" stroke-width="2.5" stroke-linejoin="round" stroke-linecap="round"/>
<polyline points="141.0,1175.4 142.8,1177.1 144.5,1178.9 146.3,1178.0 148.0,1181.2 149.8,1181.1 151.5,1182.5 153.3,1179.2 155.0,1177.2 156.8,1177.0 158.6,1176.8 160.3,1176.5 162.1,1180.1 163.8,1179.9 165.6,1178.3 167.3,1177.4 169.1,1180.0 170.8,1178.9 172.6,1176.7 174.4,1177.0 176.1,1176.0 177.9,1177.7 179.6,1175.1 181.4,1175.3 183.1,1175.7 184.9,1176.4 186.6,1179.0 188.4,1178.3 190.2,1179.8 191.9,1179.8 193.7,1177.6 195.4,1176.7 197.2,1179.7 198.9,1178.2 200.7,1180.2 202.4,1179.6 204.2,1179.4 206.0,1179.5 207.7,1178.5 209.5,1178.3 211.2,1177.6 213.0,1180.3 214.7,1179.8 216.5,1180.0 218.2,1181.5 220.0,1178.7" fill="none" stroke="#ff0000" stroke-width="2.5" stroke-linejoin="round" stroke-linecap="round"/>
<polygon points="230.0,1155.5 231.8,1157.1 233.5,1154.0 235.3,1152.2 237.0,1153.2 238.8,1152.5 240.5,1151.6 242.3,1150.7 244.0,1149.0 245.8,1149.7 247.5,1147.5 249.3,1146.5 251.0,1145.4 252.8,1145.9 254.5,1145.2 256.3,1143.0 258.0,1143.2 259.8,1140.1 261.5,1141.1 263.3,1141.2 265.0,1138.6 266.8,1138.8 268.5,1139.2 270.3,1137.0 272.1,1139.8 273.8,1136.8 275.6,1140.1 277.3,1139.7 279.1,1138.9 280.8,1136.9 282.6,1135.2 284.3,1136.0 286.1,1135.9 287.8,1137.4 289.6,1136.6 291.3,1135.8 293.1,1137.9 294.8,1137.1 296.6,1136.8 298.3,1135.3 300.1,1135.5 301.8,1136.7 303.6,1137.5 305.3,1136.3 307.1,1136.3 308.8,1134.9 310.6,1136.3 310.6,1147.7 308.8,1147.6 307.1,1147.8 305.3,1147.8 303.6,1147.9 301.8,1148.7 300.1,1147.8 298.3,1147.3 296.6,1148.9 294.8,1149.7 293.1,1148.2 291.3,1149.1 289.6,1149.1 287.8,1148.6 286.1,1149.3 284.3,1149.0 282.6,1148.3 280.8,1148.8 279.1,1151.5 277.3,1151.8 275.6,1151.8 273.8,1149.7 272.1,1151.1 270.3,1150.2 268.5,1151.4 266.8,1150.3 265.0,1152.6 263.3,1154.3 261.5,1153.8 259.8,1153.3 258.0,1157.0 256.3,1154.2 254.5,1156.8 252.8,1157.1 251.0,1155.6 249.3,1158.1 247.5,1158.8 245.8,1158.7 244.0,1160.1 242.3,1159.8 240.5,1160.3 238.8,1160.7 237.0,1160.0 235.3,1158.0 233.5,1159.9 231.8,1161.8 230.0,1161.7" fill="#0000ff" fill-opacity="0.27"/>
<polygon points="230.0,1153.9 231.8,1158.9 233.5,1157.3 235.3,1156.0 237.0,1155.4 238.8,1154.3 240.5,1158.1 242.3,1158.4 244.0,1156.4 245.8,1155.3 247.5,1154.6 249.3,1156.3 251.0,1154.6 252.8,1152.1 254.5,1152.4 256.3,1153.4 258.0,1153.5 259.8,1151.3 261.5,1153.5 263.3,1152.3 265.0,1154.2 266.8,1154.1 268.5,1152.1 270.3,1154.3 272.1,1152.1 273.8,1153.3 275.6,1154.6 277.3,1153.7 279.1,1150.4 280.8,1150.9 282.6,1149.1 284.3,1148.3 286.1,1147.6 287.8,1148.1 289.6,1145.7 291.3,1146.7 293.1,1150.2 294.8,1150.2 296.6,1149.7 298.3,1149.7 300.1,1148.1 301.8,1151.6 303.6,1150.3 305.3,1151.6 307.1,1150.7 308.8,1148.0 310.6,1149.0 310.6,1159.3 308.8,1159.2 307.1,1161.0 305.3,1163.2 303.6,1160.6 301.8,1161.8 300.1,1159.0 298.3,1160.3 296.6,1159.9 294.8,1161.9 293.1,1161.2 291.3,1158.0 289.6,1158.5 287.8,1159.6 286.1,1159.8 284.3,1159.4 282.6,1161.1 280.8,1162.2 279.1,1161.3 277.3,1165.2 275.6,1165.2 273.8,1164.5 272.1,1162.9 270.3,1166.0 268.5,1163.6 266.8,1165.4 265.0,1164.9 263.3,1162.9 261.5,1162.7 259.8,1161.6 258.0,1164.2 256.3,1162.6 254.5,1162.3 252.8,1163.0 251.0,1165.7 249.3,1165.1 247.5,1164.8 245.8,1165.3 244.0,1166.1 242.3,1167.7 240.5,1167.9 238.8,1164.5 237.0,1167.0 235.3,1166.6 233.5,1166.8 231.8,1167.2 230.0,1164.3" fill="#ff0000" fill-opacity="0.27"/>
<polyline points="230.0,1158.6 231.8,1159.4 233.5,1156.6 235.3,1155.2 237.0,1156.2 238.8,1155.8 240.5,1155.8 242.3,1154.7 244.0,1154.7 245.8,1154.4 247.5,1152.6 249.3,1152.3 251.0,1150.8 252.8,1150.7 254.5,1151.1 256.3,1148.8 258.0,1149.9 259.8,1146.8 261.5,1146.8 263.3,1148.6 265.0,1145.6 266.8,1144.8 268.5,1145.6 270.3,1144.2 272.1,1145.8 273.8,1143.3 275.6,1146.2 277.3,1146.1 279.1,1144.9 280.8,1142.8 282.6,1141.5 284.3,1142.8 286.1,1142.6 287.8,1142.5 289.6,1142.4 291.3,1142.5 293.1,1143.1 294.8,1143.4 296.6,1143.4 298.3,1141.0 300.1,1141.7 301.8,1142.4 303.6,1143.0 305.3,1142.4 307.1,1141.7 308.8,1141.2 310.6,1141.8" fill="none" stroke="#0000ff" stroke-width="2.5" stroke-linejoin="round" stroke-linecap="round"/>
<polyline points="230.0,1159.4 231.8,1163.1 233.5,1162.1 235.3,1161.9 237.0,1161.0 238.8,1159.6 240.5,1163.2 242.3,1163.2 244.0,1161.7 245.8,1160.6 247.5,1160.6 249.3,1161.1 251.0,1159.9 252.8,1158.1 254.5,1157.4 256.3,1157.5 258.0,1159.5 259.8,1157.1 261.5,1158.4 263.3,1158.0 265.0,1160.0 266.8,1159.5 268.5,1158.0 270.3,1159.6 272.1,1157.6 273.8,1158.0 275.6,1159.3 277.3,1160.3 279.1,1156.1 280.8,1156.2 282.6,1154.2 284.3,1153.7 286.1,1153.3 287.8,1153.8 289.6,1151.9 291.3,1153.0 293.1,1155.4 294.8,1155.2 296.6,1154.6 298.3,1155.1 300.1,1154.2 301.8,1156.8 303.6,1155.5 305.3,1157.2 307.1,1156.0 308.8,1153.9 310.6,1154.4" fill="none" stroke="#ff0000" stroke-width="2.5" stroke-linejoin="round" stroke-linecap="round"/>
<polygon points="322.0,1144.2 323.8,1142.3 325.6,1140.6 327.3,1139.2 329.1,1140.7 330.9,1138.7 332.7,1134.2 334.4,1128.6 336.2,1129.0 338.0,1126.1 339.8,1124.6 341.6,1123.0 343.3,1121.9 345.1,1120.5 346.9,1121.5 348.7,1119.8 350.4,1117.8 352.2,1112.8 354.0,1111.7 355.8,1112.2 357.6,1108.0 359.3,1105.1 361.1,1105.5 362.9,1104.2 364.7,1103.0 366.4,1102.5 368.2,1102.1 370.0,1101.2 371.8,1100.7 373.6,1098.6 375.3,1097.9 377.1,1096.3 378.9,1098.1 380.7,1099.1 382.4,1102.3 384.2,1099.9 386.0,1103.0 387.8,1098.3 389.6,1099.8 391.3,1100.5 393.1,1100.9 394.9,1099.2 396.7,1094.5 398.4,1093.6 400.2,1097.6 402.0,1093.9 402.0,1104.5 400.2,1107.2 398.4,1105.3 396.7,1104.5 394.9,1109.2 393.1,1110.3 391.3,1110.9 389.6,1110.2 387.8,1109.4 386.0,1112.5 384.2,1110.1 382.4,1113.2 380.7,1110.0 378.9,1108.4 377.1,1107.4 375.3,1108.4 373.6,1111.0 371.8,1109.5 370.0,1112.3 368.2,1111.5 366.4,1112.1 364.7,1111.6 362.9,1113.6 361.1,1115.0 359.3,1115.7 357.6,1118.2 355.8,1121.4 354.0,1122.8 352.2,1124.4 350.4,1127.7 348.7,1128.7 346.9,1129.6 345.1,1132.0 343.3,1130.9 341.6,1132.7 339.8,1132.9 338.0,1137.4 336.2,1137.4 334.4,1140.1 332.7,1143.5 330.9,1148.2 329.1,1151.4 327.3,1148.6 325.6,1150.9 323.8,1152.5 322.0,1154.6" fill="#0000ff" fill-opacity="0.27"/>
<polygon points="322.0,1142.9 323.8,1149.0 325.6,1143.9 327.3,1142.6 329.1,1140.2 330.9,1139.7 332.7,1137.5 334.4,1132.3 336.2,1133.4 338.0,1134.4 339.8,1130.0 341.6,1128.1 343.3,1126.8 345.1,1126.5 346.9,1120.6 348.7,1121.8 350.4,1117.9 352.2,1120.0 354.0,1116.5 355.8,1115.9 357.6,1115.8 359.3,1110.8 361.1,1108.6 362.9,1113.6 364.7,1115.8 366.4,1115.8 368.2,1115.2 370.0,1111.7 371.8,1111.2 373.6,1111.6 375.3,1109.1 377.1,1105.5 378.9,1108.3 380.7,1109.7 382.4,1108.5 384.2,1106.8 386.0,1106.0 387.8,1108.3 389.6,1108.5 391.3,1108.0 393.1,1107.3 394.9,1109.6 396.7,1105.8 398.4,1106.8 400.2,1105.1 402.0,1106.5 402.0,1117.5 400.2,1117.2 398.4,1117.6 396.7,1117.5 394.9,1119.5 393.1,1119.1 391.3,1119.4 389.6,1117.5 387.8,1120.2 386.0,1117.3 384.2,1118.7 382.4,1119.7 380.7,1120.5 378.9,1118.8 377.1,1117.3 375.3,1119.7 373.6,1122.2 371.8,1121.5 370.0,1120.9 368.2,1126.2 366.4,1127.0 364.7,1126.7 362.9,1124.0 361.1,1119.7 359.3,1122.8 357.6,1127.8 355.8,1127.1 354.0,1127.0 352.2,1132.3 350.4,1130.3 348.7,1133.9 346.9,1133.1 345.1,1139.0 343.3,1137.0 341.6,1139.7 339.8,1139.6 338.0,1144.3 336.2,1145.5 334.4,1143.2 332.7,1147.9 330.9,1149.5 329.1,1152.7 327.3,1155.3 325.6,1155.8 323.8,1158.4 322.0,1154.0" fill="#ff0000" fill-opacity="0.27"/>
<polyline points="322.0,1148.3 323.8,1147.5 325.6,1145.5 327.3,1144.0 329.1,1145.6 330.9,1143.3 332.7,1138.9 334.4,1134.0 336.2,1133.4 338.0,1131.8 339.8,1129.1 341.6,1127.3 343.3,1126.2 345.1,1126.0 346.9,1125.8 348.7,1123.5 350.4,1122.9 352.2,1118.4 354.0,1116.6 355.8,1116.1 357.6,1114.0 359.3,1111.3 361.1,1110.6 362.9,1108.8 364.7,1107.3 366.4,1107.9 368.2,1105.8 370.0,1106.9 371.8,1105.0 373.6,1104.7 375.3,1104.2 377.1,1102.3 378.9,1104.3 380.7,1104.1 382.4,1107.2 384.2,1105.7 386.0,1106.8 387.8,1103.6 389.6,1105.8 391.3,1106.4 393.1,1105.3 394.9,1103.1 396.7,1100.4 398.4,1099.8 400.2,1101.9 402.0,1099.6" fill="none" stroke="#0000ff" stroke-width="2.5" stroke-linejoin="round" stroke-linecap="round"/>
<polyline points="322.0,1149.3 323.8,1153.9 325.6,1149.4 327.3,1149.1 329.1,1146.1 330.9,1145.2 332.7,1141.9 334.4,1138.2 336.2,1139.6 338.0,1138.7 339.8,1134.5 341.6,1133.0 343.3,1132.8 345.1,1132.8 346.9,1126.7 348.7,1128.4 350.4,1124.5 352.2,1125.5 354.0,1122.2 355.8,1121.3 357.6,1121.7 359.3,1117.6 361.1,1113.6 362.9,1118.7 364.7,1121.2 366.4,1121.2 368.2,1120.2 370.0,1115.9 371.8,1115.7 373.6,1116.6 375.3,1114.9 377.1,1111.5 378.9,1114.0 380.7,1113.9 382.4,1114.3 384.2,1112.6 386.0,1111.7 387.8,1114.8 389.6,1112.7 391.3,1114.8 393.1,1112.5 394.9,1113.9 396.7,1111.9 398.4,1112.0 400.2,1110.9 402.0,1112.6" fill="none" stroke="#ff0000" stroke-width="2.5" stroke-linejoin="round" stroke-linecap="round"/>
<polygon points="414.0,1134.2 415.8,1138.2 417.6,1135.4 419.3,1134.4 421.1,1133.7 422.9,1130.8 424.7,1127.4 426.4,1122.5 428.2,1123.8 430.0,1123.5 431.8,1121.9 433.6,1116.6 435.3,1115.1 437.1,1113.4 438.9,1110.6 440.7,1108.5 442.4,1108.3 444.2,1106.4 446.0,1105.7 447.8,1101.2 449.6,1103.0 451.3,1102.6 453.1,1097.1 454.9,1093.5 456.7,1092.9 458.4,1093.8 460.2,1094.9 462.0,1091.0 463.8,1092.3 465.6,1090.3 467.3,1091.2 469.1,1090.2 470.9,1089.1 472.7,1090.3 474.4,1089.0 476.2,1086.7 478.0,1088.5 479.8,1089.7 481.6,1089.2 483.3,1090.4 485.1,1090.3 486.9,1088.3 488.7,1088.2 490.4,1088.5 492.2,1089.8 494.0,1087.2 494.0,1095.4 492.2,1098.6 490.4,1097.0 488.7,1099.1 486.9,1099.1 485.1,1101.5 483.3,1098.9 481.6,1098.1 479.8,1099.7 478.0,1097.6 476.2,1097.0 474.4,1100.1 472.7,1099.4 470.9,1099.9 469.1,1098.9 467.3,1099.6 465.6,1101.5 463.8,1100.9 462.0,1101.4 460.2,1103.8 458.4,1104.0 456.7,1104.3 454.9,1103.9 453.1,1108.7 451.3,1112.2 449.6,1111.5 447.8,1112.5 446.0,1113.4 444.2,1116.1 442.4,1119.1 440.7,1119.3 438.9,1118.7 437.1,1123.2 435.3,1126.0 433.6,1126.1 431.8,1130.3 430.0,1134.6 428.2,1132.9 426.4,1133.0 424.7,1136.8 422.9,1141.2 421.1,1143.6 419.3,1144.7 417.6,1146.6 415.8,1146.1 414.0,1143.6" fill="#0000ff" fill-opacity="0.27"/>
<polygon points="414.0,1132.6 415.8,1130.7 417.6,1131.5 419.3,1128.7 421.1,1123.7 422.9,1119.7 424.7,1117.8 426.4,1115.2 428.2,1113.6 430.0,1106.8 431.8,1107.8 433.6,1112.2 435.3,1110.6 437.1,1108.7 438.9,1104.0 440.7,1100.6 442.4,1100.6 444.2,1101.2 446.0,1100.2 447.8,1101.0 449.6,1101.9 451.3,1094.4 453.1,1090.5 454.9,1094.3 456.7,1098.3 458.4,1098.1 460.2,1091.1 462.0,1094.4 463.8,1097.4 465.6,1095.3 467.3,1096.3 469.1,1093.5 470.9,1093.0 472.7,1091.5 474.4,1094.8 476.2,1093.2 478.0,1095.0 479.8,1092.8 481.6,1095.7 483.3,1094.0 485.1,1094.5 486.9,1094.0 488.7,1095.8 490.4,1092.4 492.2,1094.4 494.0,1092.1 494.0,1102.6 492.2,1106.3 490.4,1103.0 488.7,1105.3 486.9,1103.9 485.1,1103.4 483.3,1106.4 481.6,1104.8 479.8,1104.9 478.0,1104.3 476.2,1104.3 474.4,1105.5 472.7,1103.4 470.9,1105.2 469.1,1103.3 467.3,1108.2 465.6,1104.8 463.8,1108.1 462.0,1107.4 460.2,1101.5 458.4,1108.5 456.7,1107.9 454.9,1106.1 453.1,1100.2 451.3,1104.6 449.6,1112.3 447.8,1114.1 446.0,1110.6 444.2,1113.9 442.4,1111.6 440.7,1111.1 438.9,1116.6 437.1,1118.1 435.3,1123.7 433.6,1123.7 431.8,1119.3 430.0,1117.8 428.2,1123.0 426.4,1125.3 424.7,1129.7 422.9,1131.2 421.1,1134.9 419.3,1137.5 417.6,1142.8 415.8,1142.7 414.0,1145.3" fill="#ff0000" fill-opacity="0.27"/>
<polyline points="414.0,1138.9 415.8,1142.3 417.6,1141.2 419.3,1139.6 421.1,1137.9 422.9,1135.5 424.7,1132.8 426.4,1128.7 428.2,1129.0 430.0,1128.8 431.8,1126.4 433.6,1122.2 435.3,1120.3 437.1,1118.0 438.9,1114.8 440.7,1113.8 442.4,1113.6 444.2,1111.2 446.0,1109.6 447.8,1107.0 449.6,1106.7 451.3,1107.0 453.1,1102.4 454.9,1098.0 456.7,1098.3 458.4,1099.9 460.2,1099.3 462.0,1096.3 463.8,1097.2 465.6,1095.3 467.3,1095.1 469.1,1094.5 470.9,1095.3 472.7,1095.1 474.4,1094.1 476.2,1091.8 478.0,1092.6 479.8,1094.9 481.6,1094.2 483.3,1094.4 485.1,1095.5 486.9,1093.3 488.7,1093.2 490.4,1092.6 492.2,1094.4 494.0,1091.6" fill="none" stroke="#0000ff" stroke-width="2.5" stroke-linejoin="round" stroke-linecap="round"/>
<polyline points="414.0,1139.1 415.8,1137.2 417.6,1136.2 419.3,1133.0 421.1,1129.4 422.9,1124.8 424.7,1123.9 426.4,1119.7 428.2,1118.6 430.0,1113.2 431.8,1114.4 433.6,1117.2 435.3,1117.3 437.1,1113.4 438.9,1110.0 440.7,1106.8 442.4,1105.9 444.2,1107.2 446.0,1105.5 447.8,1107.4 449.6,1106.4 451.3,1100.3 453.1,1095.1 454.9,1100.7 456.7,1103.1 458.4,1102.4 460.2,1096.9 462.0,1101.1 463.8,1103.2 465.6,1100.4 467.3,1102.5 469.1,1098.9 470.9,1099.6 472.7,1097.1 474.4,1099.7 476.2,1098.9 478.0,1100.0 479.8,1099.3 481.6,1100.3 483.3,1100.5 485.1,1098.9 486.9,1098.2 488.7,1100.2 490.4,1097.8 492.2,1100.4 494.0,1098.0" fill="none" stroke="#ff0000" stroke-width="2.5" stroke-linejoin="round" stroke-linecap="round"/>
<polygon points="506.7,1134.7 508.5,1137.0 510.2,1136.8 512.0,1136.6 513.7,1134.7 515.5,1128.5 517.3,1126.7 519.0,1124.5 520.8,1125.5 522.6,1119.9 524.3,1120.6 526.1,1117.5 527.8,1113.8 529.6,1109.1 531.4,1107.8 533.1,1105.0 534.9,1102.2 536.7,1099.5 538.4,1098.2 540.2,1099.0 541.9,1097.1 543.7,1094.5 545.5,1094.3 547.2,1094.9 549.0,1092.7 550.8,1093.0 552.5,1089.3 554.3,1093.5 556.0,1091.7 557.8,1091.9 559.6,1090.0 561.3,1090.2 563.1,1088.7 564.9,1090.1 566.6,1086.9 568.4,1086.3 570.1,1084.3 571.9,1086.7 573.7,1087.7 575.4,1086.7 577.2,1087.2 579.0,1086.3 580.7,1087.3 582.5,1085.9 584.2,1089.4 586.0,1089.5 586.0,1098.0 584.2,1095.9 582.5,1096.5 580.7,1097.5 579.0,1095.0 577.2,1096.8 575.4,1095.9 573.7,1096.2 571.9,1094.3 570.1,1093.9 568.4,1095.8 566.6,1096.4 564.9,1098.5 563.1,1097.7 561.3,1099.9 559.6,1098.8 557.8,1100.7 556.0,1099.9 554.3,1102.3 552.5,1098.7 550.8,1102.1 549.0,1102.4 547.2,1104.0 545.5,1103.0 543.7,1105.3 541.9,1105.0 540.2,1108.2 538.4,1109.0 536.7,1108.6 534.9,1112.6 533.1,1114.3 531.4,1116.8 529.6,1118.8 527.8,1122.6 526.1,1127.3 524.3,1129.6 522.6,1129.1 520.8,1133.9 519.0,1133.8 517.3,1136.2 515.5,1139.3 513.7,1143.5 512.0,1146.5 510.2,1147.3 508.5,1146.2 506.7,1143.8" fill="#0000ff" fill-opacity="0.27"/>
<polygon points="506.7,1118.2 508.5,1116.7 510.2,1116.9 512.0,1111.1 513.7,1105.5 515.5,1100.6 517.3,1097.2 519.0,1093.9 520.8,1091.3 522.6,1093.8 524.3,1092.3 526.1,1094.3 527.8,1092.1 529.6,1092.2 531.4,1092.2 533.1,1089.7 534.9,1090.5 536.7,1091.1 538.4,1089.0 540.2,1089.8 541.9,1087.6 543.7,1092.2 545.5,1088.0 547.2,1090.1 549.0,1091.4 550.8,1088.3 552.5,1086.8 554.3,1089.3 556.0,1088.1 557.8,1088.1 559.6,1085.9 561.3,1083.8 563.1,1085.1 564.9,1082.0 566.6,1084.7 568.4,1080.7 570.1,1081.2 571.9,1080.5 573.7,1082.0 575.4,1079.2 577.2,1080.4 579.0,1083.6 580.7,1081.3 582.5,1081.2 584.2,1080.3 586.0,1079.1 586.0,1090.3 584.2,1089.9 582.5,1092.7 580.7,1090.8 579.0,1094.0 577.2,1089.9 575.4,1089.8 573.7,1093.0 571.9,1089.9 570.1,1091.9 568.4,1089.1 566.6,1092.5 564.9,1092.8 563.1,1095.1 561.3,1094.2 559.6,1096.4 557.8,1097.0 556.0,1096.3 554.3,1099.8 552.5,1098.2 550.8,1097.8 549.0,1100.4 547.2,1098.1 545.5,1098.7 543.7,1100.1 541.9,1098.6 540.2,1098.9 538.4,1098.9 536.7,1100.6 534.9,1099.5 533.1,1099.7 531.4,1102.6 529.6,1102.6 527.8,1102.7 526.1,1102.2 524.3,1101.8 522.6,1104.0 520.8,1103.0 519.0,1104.7 517.3,1105.9 515.5,1110.0 513.7,1116.6 512.0,1121.4 510.2,1127.2 508.5,1126.4 506.7,1129.4" fill="#ff0000" fill-opacity="0.27"/>
<polyline points="506.7,1138.7 508.5,1142.7 510.2,1142.0 512.0,1140.9 513.7,1138.0 515.5,1134.2 517.3,1130.9 519.0,1128.5 520.8,1129.2 522.6,1124.8 524.3,1124.3 526.1,1122.1 527.8,1117.2 529.6,1114.9 531.4,1111.1 533.1,1109.7 534.9,1107.0 536.7,1105.1 538.4,1103.3 540.2,1102.9 541.9,1101.2 543.7,1099.9 545.5,1099.2 547.2,1100.3 549.0,1098.0 550.8,1098.3 552.5,1094.2 554.3,1096.7 556.0,1094.9 557.8,1095.6 559.6,1094.6 561.3,1094.7 563.1,1092.5 564.9,1093.5 566.6,1090.8 568.4,1090.4 570.1,1089.6 571.9,1090.8 573.7,1091.3 575.4,1090.5 577.2,1092.8 579.0,1090.3 580.7,1092.2 582.5,1091.2 584.2,1092.7 586.0,1093.6" fill="none" stroke="#0000ff" stroke-width="2.5" stroke-linejoin="round" stroke-linecap="round"/>
<polyline points="506.7,1124.3 508.5,1121.6 510.2,1121.0 512.0,1116.0 513.7,1110.8 515.5,1104.5 517.3,1101.2 519.0,1098.5 520.8,1097.4 522.6,1098.5 524.3,1097.4 526.1,1098.1 527.8,1097.5 529.6,1096.8 531.4,1096.9 533.1,1095.1 534.9,1095.4 536.7,1095.6 538.4,1092.9 540.2,1094.8 541.9,1093.0 543.7,1096.0 545.5,1094.2 547.2,1094.3 549.0,1095.9 550.8,1093.1 552.5,1092.0 554.3,1093.6 556.0,1092.1 557.8,1092.5 559.6,1090.2 561.3,1090.0 563.1,1090.5 564.9,1087.9 566.6,1088.5 568.4,1084.7 570.1,1087.2 571.9,1085.2 573.7,1086.8 575.4,1085.4 577.2,1085.7 579.0,1087.9 580.7,1085.9 582.5,1086.8 584.2,1084.6 586.0,1084.6" fill="none" stroke="#ff0000" stroke-width="2.5" stroke-linejoin="round" stroke-linecap="round"/>
<polygon points="601.2,1149.5 603.0,1148.0 604.7,1146.5 606.5,1144.6 608.3,1143.1 610.1,1143.2 611.8,1142.5 613.6,1140.6 615.4,1139.6 617.1,1140.7 618.9,1138.3 620.7,1137.3 622.5,1137.1 624.2,1136.5 626.0,1137.2 627.8,1133.9 629.5,1133.9 631.3,1133.4 633.1,1131.9 634.9,1132.2 636.6,1129.9 638.4,1128.7 640.2,1126.2 641.9,1126.6 643.7,1125.4 645.5,1124.3 647.2,1120.1 649.0,1121.5 650.8,1117.7 652.6,1117.4 654.3,1117.7 656.1,1118.3 657.9,1118.5 659.6,1119.3 661.4,1118.1 663.2,1116.7 665.0,1118.6 666.7,1117.6 668.5,1117.7 670.3,1118.7 672.0,1119.6 673.8,1116.9 675.6,1117.3 677.4,1118.0 679.1,1118.8 680.9,1117.4 680.9,1126.3 679.1,1125.8 677.4,1126.1 675.6,1124.7 673.8,1124.2 672.0,1128.1 670.3,1125.0 668.5,1126.5 666.7,1127.4 665.0,1128.6 663.2,1126.4 661.4,1126.0 659.6,1126.7 657.9,1126.3 656.1,1127.1 654.3,1126.5 652.6,1125.7 650.8,1125.5 649.0,1127.8 647.2,1128.9 645.5,1131.4 643.7,1131.8 641.9,1134.5 640.2,1132.4 638.4,1135.7 636.6,1137.7 634.9,1141.1 633.1,1138.5 631.3,1141.7 629.5,1142.1 627.8,1141.2 626.0,1144.0 624.2,1143.1 622.5,1146.0 620.7,1144.4 618.9,1145.5 617.1,1149.3 615.4,1146.0 613.6,1148.5 611.8,1150.6 610.1,1151.3 608.3,1151.0 606.5,1152.5 604.7,1154.5 603.0,1155.3 601.2,1155.8" fill="#0000ff" fill-opacity="0.27"/>
<polygon points="601.2,1126.0 603.0,1126.3 604.7,1126.3 606.5,1125.2 608.3,1122.7 610.1,1120.8 611.8,1120.4 613.6,1121.5 615.4,1119.4 617.1,1118.6 618.9,1116.6 620.7,1119.9 622.5,1116.8 624.2,1116.8 626.0,1117.0 627.8,1115.2 629.5,1115.6 631.3,1112.6 633.1,1113.1 634.9,1111.1 636.6,1106.3 638.4,1104.9 640.2,1105.6 641.9,1109.4 643.7,1108.9 645.5,1111.4 647.2,1112.3 649.0,1110.0 650.8,1103.4 652.6,1102.9 654.3,1109.7 656.1,1109.3 657.9,1107.6 659.6,1104.8 661.4,1104.3 663.2,1105.0 665.0,1104.4 666.7,1106.9 668.5,1105.8 670.3,1105.0 672.0,1105.8 673.8,1104.8 675.6,1104.5 677.4,1108.2 679.1,1106.2 680.9,1108.5 680.9,1117.2 679.1,1116.9 677.4,1115.7 675.6,1113.6 673.8,1113.5 672.0,1114.9 670.3,1115.0 668.5,1116.7 666.7,1116.0 665.0,1112.7 663.2,1114.1 661.4,1112.3 659.6,1113.1 657.9,1116.5 656.1,1119.0 654.3,1118.9 652.6,1112.0 650.8,1111.3 649.0,1118.9 647.2,1120.8 645.5,1122.5 643.7,1119.0 641.9,1117.9 640.2,1114.6 638.4,1116.5 636.6,1115.6 634.9,1118.1 633.1,1121.5 631.3,1123.0 629.5,1123.1 627.8,1124.3 626.0,1125.2 624.2,1125.0 622.5,1124.6 620.7,1128.4 618.9,1127.3 617.1,1128.0 615.4,1129.1 613.6,1129.3 611.8,1129.8 610.1,1129.7 608.3,1132.5 606.5,1133.9 604.7,1135.7 603.0,1134.7 601.2,1133.8" fill="#ff0000" fill-opacity="0.27"/>
<polyline points="601.2,1153.1 603.0,1151.0 604.7,1151.5 606.5,1149.1 608.3,1148.2 610.1,1147.4 611.8,1146.5 613.6,1143.7 615.4,1143.2 617.1,1144.5 618.9,1142.5 620.7,1141.1 622.5,1141.7 624.2,1139.6 626.0,1140.4 627.8,1137.0 629.5,1138.8 631.3,1137.0 633.1,1135.2 634.9,1136.2 636.6,1132.9 638.4,1131.6 640.2,1129.6 641.9,1129.8 643.7,1129.1 645.5,1127.4 647.2,1125.1 649.0,1125.0 650.8,1121.2 652.6,1121.1 654.3,1122.3 656.1,1123.4 657.9,1122.3 659.6,1122.5 661.4,1122.7 663.2,1121.4 665.0,1123.3 666.7,1122.6 668.5,1121.3 670.3,1121.4 672.0,1122.8 673.8,1121.3 675.6,1120.7 677.4,1123.1 679.1,1121.9 680.9,1121.9" fill="none" stroke="#0000ff" stroke-width="2.5" stroke-linejoin="round" stroke-linecap="round"/>
<polyline points="601.2,1129.4 603.0,1130.0 604.7,1130.8 606.5,1128.9 608.3,1128.2 610.1,1126.3 611.8,1124.8 613.6,1126.0 615.4,1124.6 617.1,1123.8 618.9,1122.4 620.7,1123.4 622.5,1120.8 624.2,1120.1 626.0,1120.2 627.8,1119.8 629.5,1119.5 631.3,1117.4 633.1,1116.8 634.9,1114.7 636.6,1111.7 638.4,1110.7 640.2,1110.9 641.9,1113.7 643.7,1113.7 645.5,1117.2 647.2,1115.9 649.0,1113.8 650.8,1108.0 652.6,1108.6 654.3,1113.2 656.1,1113.7 657.9,1113.2 659.6,1109.8 661.4,1108.5 663.2,1108.5 665.0,1108.9 666.7,1111.1 668.5,1111.1 670.3,1110.2 672.0,1109.3 673.8,1109.6 675.6,1110.0 677.4,1112.5 679.1,1111.7 680.9,1113.8" fill="none" stroke="#ff0000" stroke-width="2.5" stroke-linejoin="round" stroke-linecap="round"/>
</svg></body></html>
